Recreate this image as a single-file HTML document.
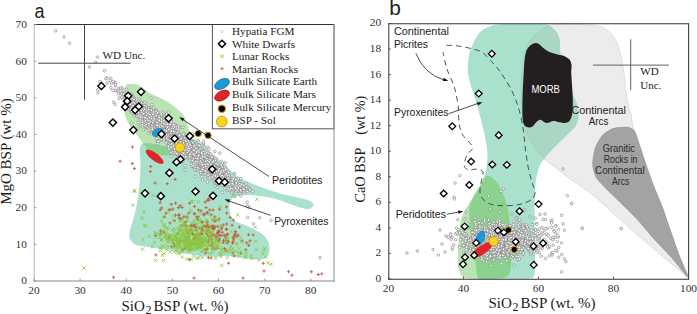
<!DOCTYPE html>
<html><head><meta charset="utf-8"><style>
html,body{margin:0;padding:0;background:#fff;width:697px;height:314px;overflow:hidden}
svg{display:block}
</style></head><body>
<svg width="697" height="314" viewBox="0 0 697 314">
<path d="M140.5,146.0 C142.1,142.4 145.9,143.5 150.0,143.5 C154.1,143.5 160.0,145.6 165.0,146.0 C170.0,146.4 175.3,147.2 180.0,146.0 C184.7,144.8 188.8,138.8 193.0,139.0 C197.2,139.2 201.3,144.0 205.0,147.0 C208.7,150.0 211.7,154.0 215.0,157.0 C218.3,160.0 221.4,161.9 225.0,165.0 C228.6,168.1 232.2,172.7 236.5,175.7 C240.8,178.7 246.0,180.8 250.8,182.9 C255.6,185.1 260.2,186.8 265.1,188.6 C270.0,190.3 274.2,191.8 280.0,193.4 C285.8,195.0 295.0,196.6 300.0,197.9 C305.0,199.2 307.8,199.8 310.0,201.0 C312.2,202.2 313.7,203.7 313.5,205.0 C313.3,206.3 311.2,208.6 309.0,209.0 C306.8,209.4 303.2,208.3 300.0,207.5 C296.8,206.7 294.2,205.4 290.0,204.0 C285.8,202.6 279.7,200.1 275.0,198.8 C270.3,197.5 266.2,196.9 262.0,196.3 C257.8,195.7 253.7,195.1 250.0,195.0 C246.3,194.9 242.9,195.0 240.0,195.6 C237.1,196.2 234.2,196.9 232.5,198.4 C230.8,199.9 229.9,202.4 229.5,204.5 C229.1,206.6 229.4,208.8 229.8,211.0 C230.2,213.2 230.8,215.7 232.0,217.5 C233.2,219.3 234.7,220.7 237.0,222.0 C239.3,223.3 242.8,224.1 246.0,225.5 C249.2,226.9 253.4,228.9 256.5,230.7 C259.6,232.4 262.4,233.9 264.4,236.0 C266.4,238.1 267.8,240.7 268.7,243.0 C269.6,245.3 269.7,247.8 269.6,250.0 C269.5,252.2 268.9,254.7 267.9,256.1 C266.9,257.6 265.4,258.1 263.5,258.7 C261.6,259.3 259.4,259.6 256.5,259.6 C253.6,259.6 249.5,259.1 246.0,258.7 C242.5,258.3 239.0,257.4 235.5,257.0 C232.0,256.6 228.4,256.0 225.0,256.0 C221.6,256.0 219.2,257.0 215.0,257.0 C210.8,257.0 205.8,256.8 200.0,256.0 C194.2,255.2 185.8,253.6 180.0,252.5 C174.2,251.4 170.3,250.4 165.0,249.5 C159.7,248.6 153.0,247.8 148.0,247.0 C143.0,246.2 138.1,246.2 135.0,244.5 C131.9,242.8 129.9,240.2 129.3,237.0 C128.7,233.8 130.6,228.7 131.5,225.0 C132.4,221.3 133.5,219.2 134.5,215.0 C135.5,210.8 136.7,205.0 137.5,200.0 C138.3,195.0 139.0,190.8 139.5,185.0 C140.0,179.2 140.3,171.5 140.5,165.0 C140.7,158.5 138.9,149.6 140.5,146.0Z" fill="#a9e1cc"/>
<clipPath id="ca"><path d="M140.5,146.0 C142.1,142.4 145.9,143.5 150.0,143.5 C154.1,143.5 160.0,145.6 165.0,146.0 C170.0,146.4 175.3,147.2 180.0,146.0 C184.7,144.8 188.8,138.8 193.0,139.0 C197.2,139.2 201.3,144.0 205.0,147.0 C208.7,150.0 211.7,154.0 215.0,157.0 C218.3,160.0 221.4,161.9 225.0,165.0 C228.6,168.1 232.2,172.7 236.5,175.7 C240.8,178.7 246.0,180.8 250.8,182.9 C255.6,185.1 260.2,186.8 265.1,188.6 C270.0,190.3 274.2,191.8 280.0,193.4 C285.8,195.0 295.0,196.6 300.0,197.9 C305.0,199.2 307.8,199.8 310.0,201.0 C312.2,202.2 313.7,203.7 313.5,205.0 C313.3,206.3 311.2,208.6 309.0,209.0 C306.8,209.4 303.2,208.3 300.0,207.5 C296.8,206.7 294.2,205.4 290.0,204.0 C285.8,202.6 279.7,200.1 275.0,198.8 C270.3,197.5 266.2,196.9 262.0,196.3 C257.8,195.7 253.7,195.1 250.0,195.0 C246.3,194.9 242.9,195.0 240.0,195.6 C237.1,196.2 234.2,196.9 232.5,198.4 C230.8,199.9 229.9,202.4 229.5,204.5 C229.1,206.6 229.4,208.8 229.8,211.0 C230.2,213.2 230.8,215.7 232.0,217.5 C233.2,219.3 234.7,220.7 237.0,222.0 C239.3,223.3 242.8,224.1 246.0,225.5 C249.2,226.9 253.4,228.9 256.5,230.7 C259.6,232.4 262.4,233.9 264.4,236.0 C266.4,238.1 267.8,240.7 268.7,243.0 C269.6,245.3 269.7,247.8 269.6,250.0 C269.5,252.2 268.9,254.7 267.9,256.1 C266.9,257.6 265.4,258.1 263.5,258.7 C261.6,259.3 259.4,259.6 256.5,259.6 C253.6,259.6 249.5,259.1 246.0,258.7 C242.5,258.3 239.0,257.4 235.5,257.0 C232.0,256.6 228.4,256.0 225.0,256.0 C221.6,256.0 219.2,257.0 215.0,257.0 C210.8,257.0 205.8,256.8 200.0,256.0 C194.2,255.2 185.8,253.6 180.0,252.5 C174.2,251.4 170.3,250.4 165.0,249.5 C159.7,248.6 153.0,247.8 148.0,247.0 C143.0,246.2 138.1,246.2 135.0,244.5 C131.9,242.8 129.9,240.2 129.3,237.0 C128.7,233.8 130.6,228.7 131.5,225.0 C132.4,221.3 133.5,219.2 134.5,215.0 C135.5,210.8 136.7,205.0 137.5,200.0 C138.3,195.0 139.0,190.8 139.5,185.0 C140.0,179.2 140.3,171.5 140.5,165.0 C140.7,158.5 138.9,149.6 140.5,146.0Z"/></clipPath>
<path d="M126.0,85.5 C127.2,83.3 129.3,84.2 131.0,84.0 C132.7,83.8 134.0,83.5 136.0,84.2 C138.0,84.9 140.7,86.4 143.0,88.0 C145.3,89.6 147.6,92.2 150.0,93.6 C152.4,95.0 154.8,95.4 157.2,96.5 C159.6,97.6 161.9,98.8 164.3,100.1 C166.7,101.4 169.1,102.7 171.5,104.4 C173.9,106.1 176.7,108.3 178.6,110.1 C180.5,111.9 181.7,113.2 183.0,115.0 C184.3,116.8 185.6,118.8 186.5,121.0 C187.4,123.2 187.9,125.5 188.5,128.0 C189.1,130.5 190.4,133.5 190.0,136.0 C189.6,138.5 188.0,140.7 186.0,143.0 C184.0,145.3 180.7,148.0 178.0,150.0 C175.3,152.0 173.0,154.1 170.0,155.0 C167.0,155.9 163.2,156.0 160.0,155.5 C156.8,155.0 153.6,153.7 151.0,152.0 C148.4,150.3 146.3,147.7 144.5,145.5 C142.7,143.3 141.8,141.4 140.0,139.0 C138.2,136.6 135.9,133.6 134.0,131.0 C132.1,128.4 130.1,126.7 128.5,123.5 C126.9,120.3 125.3,116.4 124.5,112.0 C123.7,107.6 123.2,101.4 123.5,97.0 C123.8,92.6 124.8,87.7 126.0,85.5Z" fill="#bae4b4"/>
<path d="M126.0,85.5 C127.2,83.3 129.3,84.2 131.0,84.0 C132.7,83.8 134.0,83.5 136.0,84.2 C138.0,84.9 140.7,86.4 143.0,88.0 C145.3,89.6 147.6,92.2 150.0,93.6 C152.4,95.0 154.8,95.4 157.2,96.5 C159.6,97.6 161.9,98.8 164.3,100.1 C166.7,101.4 169.1,102.7 171.5,104.4 C173.9,106.1 176.7,108.3 178.6,110.1 C180.5,111.9 181.7,113.2 183.0,115.0 C184.3,116.8 185.6,118.8 186.5,121.0 C187.4,123.2 187.9,125.5 188.5,128.0 C189.1,130.5 190.4,133.5 190.0,136.0 C189.6,138.5 188.0,140.7 186.0,143.0 C184.0,145.3 180.7,148.0 178.0,150.0 C175.3,152.0 173.0,154.1 170.0,155.0 C167.0,155.9 163.2,156.0 160.0,155.5 C156.8,155.0 153.6,153.7 151.0,152.0 C148.4,150.3 146.3,147.7 144.5,145.5 C142.7,143.3 141.8,141.4 140.0,139.0 C138.2,136.6 135.9,133.6 134.0,131.0 C132.1,128.4 130.1,126.7 128.5,123.5 C126.9,120.3 125.3,116.4 124.5,112.0 C123.7,107.6 123.2,101.4 123.5,97.0 C123.8,92.6 124.8,87.7 126.0,85.5Z" fill="#8ad28e" clip-path="url(#ca)"/>
<g fill="#fff" stroke="#7c7c7c" stroke-width="0.6"><circle cx="141.3" cy="107.1" r="1.3"/><circle cx="196.3" cy="170.5" r="1.3"/><circle cx="143.3" cy="121.8" r="1.3"/><circle cx="226.0" cy="176.0" r="1.3"/><circle cx="197.2" cy="144.5" r="1.3"/><circle cx="201.3" cy="161.7" r="1.3"/><circle cx="148.5" cy="123.9" r="1.3"/><circle cx="207.3" cy="162.9" r="1.3"/><circle cx="163.7" cy="113.8" r="1.3"/><circle cx="233.1" cy="184.3" r="1.3"/><circle cx="196.2" cy="148.4" r="1.3"/><circle cx="155.4" cy="111.8" r="1.3"/><circle cx="201.8" cy="176.7" r="1.3"/><circle cx="200.7" cy="173.6" r="1.3"/><circle cx="207.7" cy="170.8" r="1.3"/><circle cx="144.6" cy="129.1" r="1.3"/><circle cx="166.8" cy="127.8" r="1.3"/><circle cx="231.5" cy="180.2" r="1.3"/><circle cx="207.5" cy="181.8" r="1.3"/><circle cx="150.4" cy="118.6" r="1.3"/><circle cx="134.1" cy="104.7" r="1.3"/><circle cx="171.2" cy="130.6" r="1.3"/><circle cx="186.1" cy="156.8" r="1.3"/><circle cx="168.9" cy="134.0" r="1.3"/><circle cx="185.6" cy="138.2" r="1.3"/><circle cx="196.2" cy="150.6" r="1.3"/><circle cx="202.2" cy="158.8" r="1.3"/><circle cx="106.9" cy="77.9" r="1.3"/><circle cx="141.7" cy="109.5" r="1.3"/><circle cx="159.4" cy="119.7" r="1.3"/><circle cx="149.0" cy="119.2" r="1.3"/><circle cx="188.6" cy="147.3" r="1.3"/><circle cx="222.7" cy="177.7" r="1.3"/><circle cx="207.3" cy="161.3" r="1.3"/><circle cx="225.5" cy="180.1" r="1.3"/><circle cx="153.8" cy="128.5" r="1.3"/><circle cx="138.3" cy="107.2" r="1.3"/><circle cx="131.1" cy="108.0" r="1.3"/><circle cx="222.7" cy="179.0" r="1.3"/><circle cx="221.2" cy="170.4" r="1.3"/><circle cx="166.2" cy="136.0" r="1.3"/><circle cx="168.2" cy="138.6" r="1.3"/><circle cx="212.3" cy="164.9" r="1.3"/><circle cx="148.0" cy="118.2" r="1.3"/><circle cx="190.5" cy="152.5" r="1.3"/><circle cx="129.7" cy="100.3" r="1.3"/><circle cx="196.1" cy="154.1" r="1.3"/><circle cx="175.2" cy="135.8" r="1.3"/><circle cx="184.5" cy="151.9" r="1.3"/><circle cx="223.1" cy="168.7" r="1.3"/><circle cx="145.2" cy="109.5" r="1.3"/><circle cx="218.0" cy="175.8" r="1.3"/><circle cx="123.6" cy="105.0" r="1.3"/><circle cx="152.6" cy="115.0" r="1.3"/><circle cx="191.3" cy="153.9" r="1.3"/><circle cx="209.4" cy="170.4" r="1.3"/><circle cx="158.8" cy="128.4" r="1.3"/><circle cx="221.8" cy="169.3" r="1.3"/><circle cx="178.2" cy="130.7" r="1.3"/><circle cx="172.0" cy="125.6" r="1.3"/><circle cx="166.9" cy="139.5" r="1.3"/><circle cx="145.0" cy="123.2" r="1.3"/><circle cx="199.9" cy="163.1" r="1.3"/><circle cx="212.5" cy="175.9" r="1.3"/><circle cx="217.7" cy="174.8" r="1.3"/><circle cx="233.1" cy="191.9" r="1.3"/><circle cx="202.6" cy="170.9" r="1.3"/><circle cx="219.8" cy="175.5" r="1.3"/><circle cx="206.6" cy="166.1" r="1.3"/><circle cx="187.8" cy="149.0" r="1.3"/><circle cx="141.0" cy="114.0" r="1.3"/><circle cx="159.8" cy="122.2" r="1.3"/><circle cx="212.1" cy="165.2" r="1.3"/><circle cx="203.2" cy="150.7" r="1.3"/><circle cx="236.2" cy="190.2" r="1.3"/><circle cx="170.5" cy="137.2" r="1.3"/><circle cx="149.0" cy="114.7" r="1.3"/><circle cx="149.6" cy="107.7" r="1.3"/><circle cx="190.4" cy="151.5" r="1.3"/><circle cx="175.9" cy="142.4" r="1.3"/><circle cx="154.8" cy="134.0" r="1.3"/><circle cx="175.4" cy="125.0" r="1.3"/><circle cx="174.5" cy="144.0" r="1.3"/><circle cx="174.9" cy="138.8" r="1.3"/><circle cx="202.7" cy="165.0" r="1.3"/><circle cx="134.7" cy="109.4" r="1.3"/><circle cx="150.7" cy="120.0" r="1.3"/><circle cx="147.3" cy="109.7" r="1.3"/><circle cx="170.1" cy="136.5" r="1.3"/><circle cx="185.8" cy="144.7" r="1.3"/><circle cx="236.5" cy="188.6" r="1.3"/><circle cx="147.1" cy="111.9" r="1.3"/><circle cx="183.2" cy="138.4" r="1.3"/><circle cx="209.1" cy="162.2" r="1.3"/><circle cx="200.9" cy="165.1" r="1.3"/><circle cx="200.1" cy="163.1" r="1.3"/><circle cx="153.0" cy="115.4" r="1.3"/><circle cx="199.8" cy="156.6" r="1.3"/><circle cx="213.7" cy="169.8" r="1.3"/><circle cx="144.1" cy="116.8" r="1.3"/><circle cx="177.8" cy="142.8" r="1.3"/><circle cx="153.5" cy="111.4" r="1.3"/><circle cx="157.3" cy="128.9" r="1.3"/><circle cx="118.8" cy="93.1" r="1.3"/><circle cx="133.4" cy="97.7" r="1.3"/><circle cx="191.6" cy="147.9" r="1.3"/><circle cx="182.7" cy="146.3" r="1.3"/><circle cx="216.6" cy="177.6" r="1.3"/><circle cx="183.5" cy="133.3" r="1.3"/><circle cx="204.0" cy="168.4" r="1.3"/><circle cx="192.6" cy="166.4" r="1.3"/><circle cx="201.2" cy="151.7" r="1.3"/><circle cx="198.0" cy="140.6" r="1.3"/><circle cx="233.1" cy="184.8" r="1.3"/><circle cx="139.1" cy="98.8" r="1.3"/><circle cx="205.0" cy="170.2" r="1.3"/><circle cx="210.3" cy="174.6" r="1.3"/><circle cx="215.2" cy="172.1" r="1.3"/><circle cx="207.4" cy="154.8" r="1.3"/><circle cx="148.9" cy="119.7" r="1.3"/><circle cx="210.5" cy="160.4" r="1.3"/><circle cx="191.9" cy="157.8" r="1.3"/><circle cx="218.9" cy="168.9" r="1.3"/><circle cx="136.5" cy="106.0" r="1.3"/><circle cx="114.9" cy="82.6" r="1.3"/><circle cx="207.9" cy="158.7" r="1.3"/><circle cx="137.6" cy="106.7" r="1.3"/><circle cx="195.9" cy="157.3" r="1.3"/><circle cx="209.7" cy="169.5" r="1.3"/><circle cx="140.7" cy="117.3" r="1.3"/><circle cx="153.2" cy="116.5" r="1.3"/><circle cx="191.4" cy="155.4" r="1.3"/><circle cx="131.0" cy="110.6" r="1.3"/><circle cx="235.5" cy="189.1" r="1.3"/><circle cx="242.7" cy="184.5" r="1.3"/><circle cx="244.2" cy="184.7" r="1.3"/><circle cx="153.9" cy="126.4" r="1.3"/><circle cx="211.4" cy="173.4" r="1.3"/><circle cx="164.6" cy="133.2" r="1.3"/><circle cx="143.5" cy="114.3" r="1.3"/><circle cx="208.4" cy="161.4" r="1.3"/><circle cx="208.7" cy="153.4" r="1.3"/><circle cx="205.5" cy="163.0" r="1.3"/><circle cx="197.7" cy="163.6" r="1.3"/><circle cx="154.5" cy="128.7" r="1.3"/><circle cx="243.4" cy="185.6" r="1.3"/><circle cx="141.8" cy="117.9" r="1.3"/><circle cx="192.9" cy="153.8" r="1.3"/><circle cx="138.5" cy="101.4" r="1.3"/><circle cx="192.9" cy="148.5" r="1.3"/><circle cx="131.1" cy="105.6" r="1.3"/><circle cx="192.6" cy="155.8" r="1.3"/><circle cx="156.0" cy="120.9" r="1.3"/><circle cx="223.1" cy="169.5" r="1.3"/><circle cx="211.8" cy="162.8" r="1.3"/><circle cx="210.8" cy="162.4" r="1.3"/><circle cx="136.8" cy="114.7" r="1.3"/><circle cx="168.6" cy="134.4" r="1.3"/><circle cx="193.9" cy="146.5" r="1.3"/><circle cx="217.3" cy="187.3" r="1.3"/><circle cx="131.8" cy="104.6" r="1.3"/><circle cx="181.2" cy="155.9" r="1.3"/><circle cx="147.1" cy="110.7" r="1.3"/><circle cx="214.0" cy="174.2" r="1.3"/><circle cx="166.6" cy="138.3" r="1.3"/><circle cx="160.7" cy="124.0" r="1.3"/><circle cx="183.2" cy="134.8" r="1.3"/><circle cx="145.9" cy="126.2" r="1.3"/><circle cx="148.7" cy="119.0" r="1.3"/><circle cx="183.4" cy="150.5" r="1.3"/><circle cx="216.7" cy="183.6" r="1.3"/><circle cx="247.2" cy="189.0" r="1.3"/><circle cx="168.7" cy="142.5" r="1.3"/><circle cx="166.5" cy="139.5" r="1.3"/><circle cx="195.4" cy="168.0" r="1.3"/><circle cx="139.9" cy="114.2" r="1.3"/><circle cx="179.0" cy="136.6" r="1.3"/><circle cx="128.6" cy="96.3" r="1.3"/><circle cx="200.6" cy="164.5" r="1.3"/><circle cx="166.2" cy="133.9" r="1.3"/><circle cx="185.7" cy="141.7" r="1.3"/><circle cx="221.5" cy="178.6" r="1.3"/><circle cx="152.4" cy="109.6" r="1.3"/><circle cx="193.6" cy="145.7" r="1.3"/><circle cx="174.1" cy="135.7" r="1.3"/><circle cx="157.9" cy="140.9" r="1.3"/><circle cx="198.4" cy="162.2" r="1.3"/><circle cx="161.9" cy="125.9" r="1.3"/><circle cx="152.2" cy="120.1" r="1.3"/><circle cx="134.5" cy="98.5" r="1.3"/><circle cx="226.3" cy="173.3" r="1.3"/><circle cx="175.4" cy="137.2" r="1.3"/><circle cx="203.4" cy="163.1" r="1.3"/><circle cx="217.1" cy="175.5" r="1.3"/><circle cx="231.7" cy="187.9" r="1.3"/><circle cx="163.0" cy="112.0" r="1.3"/><circle cx="146.8" cy="119.0" r="1.3"/><circle cx="176.0" cy="139.1" r="1.3"/><circle cx="154.5" cy="125.7" r="1.3"/><circle cx="173.3" cy="128.5" r="1.3"/><circle cx="224.7" cy="166.5" r="1.3"/><circle cx="227.7" cy="189.9" r="1.3"/><circle cx="130.5" cy="103.6" r="1.3"/><circle cx="231.8" cy="192.1" r="1.3"/><circle cx="204.3" cy="163.1" r="1.3"/><circle cx="184.9" cy="152.4" r="1.3"/><circle cx="153.2" cy="117.4" r="1.3"/><circle cx="157.3" cy="141.4" r="1.3"/><circle cx="144.8" cy="105.8" r="1.3"/><circle cx="157.7" cy="119.9" r="1.3"/><circle cx="170.8" cy="120.9" r="1.3"/><circle cx="170.0" cy="141.8" r="1.3"/><circle cx="158.2" cy="112.6" r="1.3"/><circle cx="167.2" cy="131.8" r="1.3"/><circle cx="149.9" cy="114.0" r="1.3"/><circle cx="199.6" cy="155.2" r="1.3"/><circle cx="137.3" cy="107.9" r="1.3"/><circle cx="146.2" cy="103.4" r="1.3"/><circle cx="181.3" cy="152.3" r="1.3"/><circle cx="203.6" cy="167.8" r="1.3"/><circle cx="175.1" cy="137.4" r="1.3"/><circle cx="118.3" cy="89.0" r="1.3"/><circle cx="226.9" cy="176.9" r="1.3"/><circle cx="178.6" cy="135.0" r="1.3"/><circle cx="168.6" cy="145.4" r="1.3"/><circle cx="115.6" cy="83.0" r="1.3"/><circle cx="152.7" cy="110.4" r="1.3"/><circle cx="135.8" cy="114.6" r="1.3"/><circle cx="181.8" cy="148.9" r="1.3"/><circle cx="173.3" cy="131.8" r="1.3"/><circle cx="184.1" cy="139.7" r="1.3"/><circle cx="193.1" cy="157.2" r="1.3"/><circle cx="135.7" cy="103.6" r="1.3"/><circle cx="240.5" cy="190.2" r="1.3"/><circle cx="136.8" cy="115.7" r="1.3"/><circle cx="161.0" cy="129.5" r="1.3"/><circle cx="164.5" cy="132.6" r="1.3"/><circle cx="144.3" cy="113.6" r="1.3"/><circle cx="137.4" cy="106.3" r="1.3"/><circle cx="205.5" cy="159.5" r="1.3"/><circle cx="162.0" cy="121.2" r="1.3"/><circle cx="167.8" cy="138.2" r="1.3"/><circle cx="178.7" cy="138.4" r="1.3"/><circle cx="202.1" cy="171.8" r="1.3"/><circle cx="174.7" cy="138.0" r="1.3"/><circle cx="212.2" cy="175.0" r="1.3"/><circle cx="184.0" cy="137.5" r="1.3"/><circle cx="190.3" cy="151.9" r="1.3"/><circle cx="217.6" cy="166.2" r="1.3"/><circle cx="213.8" cy="180.2" r="1.3"/><circle cx="212.0" cy="159.0" r="1.3"/><circle cx="141.6" cy="108.3" r="1.3"/><circle cx="152.9" cy="124.2" r="1.3"/><circle cx="134.0" cy="104.7" r="1.3"/><circle cx="135.4" cy="109.0" r="1.3"/><circle cx="182.5" cy="152.0" r="1.3"/><circle cx="164.1" cy="128.7" r="1.3"/><circle cx="241.2" cy="191.3" r="1.3"/><circle cx="168.4" cy="138.5" r="1.3"/><circle cx="188.9" cy="151.3" r="1.3"/><circle cx="214.8" cy="151.5" r="1.3"/><circle cx="154.3" cy="126.9" r="1.3"/><circle cx="146.3" cy="107.1" r="1.3"/><circle cx="212.3" cy="166.4" r="1.3"/><circle cx="221.5" cy="167.1" r="1.3"/><circle cx="163.1" cy="133.6" r="1.3"/><circle cx="177.4" cy="149.1" r="1.3"/><circle cx="159.1" cy="116.1" r="1.3"/><circle cx="211.9" cy="168.4" r="1.3"/><circle cx="184.0" cy="142.8" r="1.3"/><circle cx="233.4" cy="184.5" r="1.3"/><circle cx="219.9" cy="153.1" r="1.3"/><circle cx="193.9" cy="154.1" r="1.3"/><circle cx="146.8" cy="117.9" r="1.3"/><circle cx="180.5" cy="147.0" r="1.3"/><circle cx="220.5" cy="177.3" r="1.3"/><circle cx="203.2" cy="162.0" r="1.3"/><circle cx="222.3" cy="175.6" r="1.3"/><circle cx="188.0" cy="144.5" r="1.3"/><circle cx="110.1" cy="80.8" r="1.3"/><circle cx="186.6" cy="150.1" r="1.3"/><circle cx="201.2" cy="152.2" r="1.3"/><circle cx="149.3" cy="121.9" r="1.3"/><circle cx="190.0" cy="147.1" r="1.3"/><circle cx="174.6" cy="146.0" r="1.3"/><circle cx="150.7" cy="117.7" r="1.3"/><circle cx="132.4" cy="106.1" r="1.3"/><circle cx="216.4" cy="169.8" r="1.3"/><circle cx="203.0" cy="162.2" r="1.3"/><circle cx="209.1" cy="159.3" r="1.3"/><circle cx="194.2" cy="148.8" r="1.3"/><circle cx="144.1" cy="114.5" r="1.3"/><circle cx="199.4" cy="167.1" r="1.3"/><circle cx="135.5" cy="111.8" r="1.3"/><circle cx="190.8" cy="151.4" r="1.3"/><circle cx="120.1" cy="88.3" r="1.3"/><circle cx="155.4" cy="134.0" r="1.3"/><circle cx="213.4" cy="169.1" r="1.3"/><circle cx="138.9" cy="112.8" r="1.3"/><circle cx="199.5" cy="168.1" r="1.3"/><circle cx="174.9" cy="130.8" r="1.3"/><circle cx="133.6" cy="102.2" r="1.3"/><circle cx="236.6" cy="191.3" r="1.3"/><circle cx="234.2" cy="173.6" r="1.3"/><circle cx="126.0" cy="102.2" r="1.3"/><circle cx="151.1" cy="125.2" r="1.3"/><circle cx="151.5" cy="126.1" r="1.3"/><circle cx="140.8" cy="117.3" r="1.3"/><circle cx="149.3" cy="111.2" r="1.3"/><circle cx="165.2" cy="125.8" r="1.3"/><circle cx="224.7" cy="176.6" r="1.3"/><circle cx="186.5" cy="145.7" r="1.3"/><circle cx="152.1" cy="131.1" r="1.3"/><circle cx="162.3" cy="124.4" r="1.3"/><circle cx="142.0" cy="112.8" r="1.3"/><circle cx="232.3" cy="183.6" r="1.3"/><circle cx="184.9" cy="143.2" r="1.3"/><circle cx="176.7" cy="127.9" r="1.3"/><circle cx="177.2" cy="146.5" r="1.3"/><circle cx="174.8" cy="124.4" r="1.3"/><circle cx="160.2" cy="126.6" r="1.3"/><circle cx="184.5" cy="138.1" r="1.3"/><circle cx="176.6" cy="146.6" r="1.3"/><circle cx="143.0" cy="103.5" r="1.3"/><circle cx="247.4" cy="187.5" r="1.3"/><circle cx="213.0" cy="169.9" r="1.3"/><circle cx="118.4" cy="91.9" r="1.3"/><circle cx="202.9" cy="163.0" r="1.3"/><circle cx="206.3" cy="155.7" r="1.3"/><circle cx="207.7" cy="167.5" r="1.3"/><circle cx="189.6" cy="156.2" r="1.3"/><circle cx="182.4" cy="152.0" r="1.3"/><circle cx="148.4" cy="124.0" r="1.3"/><circle cx="168.9" cy="122.8" r="1.3"/><circle cx="150.1" cy="122.1" r="1.3"/><circle cx="147.9" cy="127.9" r="1.3"/><circle cx="191.3" cy="160.2" r="1.3"/><circle cx="138.3" cy="105.2" r="1.3"/><circle cx="198.4" cy="153.1" r="1.3"/><circle cx="194.8" cy="146.1" r="1.3"/><circle cx="224.9" cy="178.8" r="1.3"/><circle cx="228.3" cy="173.2" r="1.3"/><circle cx="209.0" cy="165.5" r="1.3"/><circle cx="186.9" cy="153.3" r="1.3"/><circle cx="172.9" cy="133.5" r="1.3"/><circle cx="175.5" cy="141.8" r="1.3"/><circle cx="147.6" cy="111.8" r="1.3"/><circle cx="155.1" cy="117.6" r="1.3"/><circle cx="183.3" cy="147.8" r="1.3"/><circle cx="127.7" cy="105.7" r="1.3"/><circle cx="196.6" cy="156.9" r="1.3"/><circle cx="145.8" cy="125.1" r="1.3"/><circle cx="190.1" cy="139.6" r="1.3"/><circle cx="206.5" cy="170.1" r="1.3"/><circle cx="151.6" cy="124.4" r="1.3"/><circle cx="161.5" cy="130.3" r="1.3"/><circle cx="228.6" cy="178.5" r="1.3"/><circle cx="166.7" cy="142.1" r="1.3"/><circle cx="155.5" cy="125.1" r="1.3"/><circle cx="158.8" cy="122.9" r="1.3"/><circle cx="232.2" cy="178.7" r="1.3"/><circle cx="173.4" cy="145.9" r="1.3"/><circle cx="216.8" cy="173.5" r="1.3"/><circle cx="189.4" cy="145.9" r="1.3"/><circle cx="161.0" cy="118.3" r="1.3"/><circle cx="180.2" cy="159.1" r="1.3"/><circle cx="216.8" cy="174.5" r="1.3"/><circle cx="180.8" cy="137.0" r="1.3"/><circle cx="199.4" cy="162.2" r="1.3"/><circle cx="187.1" cy="143.9" r="1.3"/><circle cx="227.5" cy="181.8" r="1.3"/><circle cx="189.8" cy="148.1" r="1.3"/><circle cx="180.9" cy="156.9" r="1.3"/><circle cx="174.9" cy="131.4" r="1.3"/><circle cx="216.9" cy="182.2" r="1.3"/><circle cx="177.2" cy="126.0" r="1.3"/><circle cx="195.0" cy="158.5" r="1.3"/><circle cx="216.5" cy="159.0" r="1.3"/><circle cx="189.1" cy="152.5" r="1.3"/><circle cx="190.3" cy="147.0" r="1.3"/><circle cx="134.3" cy="107.9" r="1.3"/><circle cx="166.2" cy="142.6" r="1.3"/><circle cx="186.2" cy="151.0" r="1.3"/><circle cx="171.7" cy="125.8" r="1.3"/><circle cx="179.4" cy="142.3" r="1.3"/><circle cx="195.9" cy="153.7" r="1.3"/><circle cx="184.7" cy="144.5" r="1.3"/><circle cx="167.7" cy="137.6" r="1.3"/><circle cx="172.1" cy="146.6" r="1.3"/><circle cx="165.3" cy="135.0" r="1.3"/><circle cx="167.5" cy="146.4" r="1.3"/><circle cx="175.5" cy="134.2" r="1.3"/><circle cx="191.0" cy="158.4" r="1.3"/><circle cx="195.5" cy="161.9" r="1.3"/><circle cx="162.4" cy="133.2" r="1.3"/><circle cx="151.7" cy="112.3" r="1.3"/><circle cx="127.7" cy="100.0" r="1.3"/><circle cx="204.3" cy="146.4" r="1.3"/><circle cx="194.2" cy="141.8" r="1.3"/><circle cx="204.1" cy="152.6" r="1.3"/><circle cx="171.8" cy="148.5" r="1.3"/><circle cx="221.6" cy="173.4" r="1.3"/><circle cx="243.5" cy="192.0" r="1.3"/><circle cx="159.1" cy="121.1" r="1.3"/><circle cx="169.0" cy="143.5" r="1.3"/><circle cx="218.5" cy="171.7" r="1.3"/><circle cx="194.0" cy="150.7" r="1.3"/><circle cx="208.8" cy="167.6" r="1.3"/><circle cx="159.8" cy="126.3" r="1.3"/><circle cx="213.9" cy="165.5" r="1.3"/><circle cx="133.2" cy="99.3" r="1.3"/><circle cx="193.5" cy="166.6" r="1.3"/><circle cx="127.9" cy="106.2" r="1.3"/><circle cx="120.5" cy="91.9" r="1.3"/><circle cx="160.9" cy="120.9" r="1.3"/><circle cx="197.8" cy="152.2" r="1.3"/><circle cx="199.6" cy="145.9" r="1.3"/><circle cx="249.8" cy="188.6" r="1.3"/><circle cx="189.6" cy="150.1" r="1.3"/><circle cx="227.3" cy="190.1" r="1.3"/><circle cx="121.1" cy="97.2" r="1.3"/><circle cx="142.0" cy="106.3" r="1.3"/><circle cx="154.5" cy="126.7" r="1.3"/><circle cx="224.8" cy="175.5" r="1.3"/><circle cx="157.3" cy="125.7" r="1.3"/><circle cx="195.9" cy="148.0" r="1.3"/><circle cx="133.7" cy="100.3" r="1.3"/><circle cx="188.3" cy="154.2" r="1.3"/><circle cx="161.4" cy="134.1" r="1.3"/><circle cx="150.9" cy="97.9" r="1.3"/><circle cx="206.6" cy="161.5" r="1.3"/><circle cx="176.1" cy="137.7" r="1.3"/><circle cx="180.0" cy="140.3" r="1.3"/><circle cx="156.1" cy="120.3" r="1.3"/><circle cx="132.2" cy="106.7" r="1.3"/><circle cx="181.1" cy="138.8" r="1.3"/><circle cx="150.5" cy="122.2" r="1.3"/><circle cx="165.6" cy="126.8" r="1.3"/><circle cx="126.5" cy="89.5" r="1.3"/><circle cx="146.3" cy="117.9" r="1.3"/><circle cx="145.0" cy="115.6" r="1.3"/><circle cx="140.5" cy="108.1" r="1.3"/><circle cx="200.3" cy="165.5" r="1.3"/><circle cx="138.4" cy="113.3" r="1.3"/><circle cx="169.4" cy="147.3" r="1.3"/><circle cx="140.6" cy="108.3" r="1.3"/><circle cx="157.6" cy="124.8" r="1.3"/><circle cx="193.1" cy="142.8" r="1.3"/><circle cx="203.7" cy="167.3" r="1.3"/><circle cx="215.1" cy="177.8" r="1.3"/><circle cx="170.1" cy="142.5" r="1.3"/><circle cx="181.1" cy="148.5" r="1.3"/><circle cx="200.6" cy="159.2" r="1.3"/><circle cx="159.8" cy="135.0" r="1.3"/><circle cx="166.4" cy="136.3" r="1.3"/><circle cx="193.2" cy="142.7" r="1.3"/><circle cx="180.2" cy="141.8" r="1.3"/><circle cx="157.5" cy="122.6" r="1.3"/><circle cx="164.1" cy="127.7" r="1.3"/><circle cx="179.4" cy="150.6" r="1.3"/><circle cx="240.2" cy="185.1" r="1.3"/><circle cx="197.2" cy="146.4" r="1.3"/><circle cx="199.3" cy="163.0" r="1.3"/><circle cx="135.4" cy="104.1" r="1.3"/><circle cx="204.3" cy="161.3" r="1.3"/><circle cx="221.5" cy="182.7" r="1.3"/><circle cx="145.3" cy="111.0" r="1.3"/><circle cx="205.6" cy="169.7" r="1.3"/><circle cx="168.7" cy="128.1" r="1.3"/><circle cx="148.3" cy="123.0" r="1.3"/><circle cx="225.9" cy="187.2" r="1.3"/><circle cx="159.0" cy="117.6" r="1.3"/><circle cx="151.9" cy="133.8" r="1.3"/><circle cx="152.2" cy="116.4" r="1.3"/><circle cx="161.9" cy="121.7" r="1.3"/><circle cx="215.5" cy="173.2" r="1.3"/><circle cx="139.1" cy="126.6" r="1.3"/><circle cx="217.3" cy="174.7" r="1.3"/><circle cx="172.8" cy="131.5" r="1.3"/><circle cx="148.3" cy="122.2" r="1.3"/><circle cx="207.8" cy="172.5" r="1.3"/><circle cx="191.4" cy="151.8" r="1.3"/><circle cx="156.3" cy="111.5" r="1.3"/><circle cx="196.9" cy="156.8" r="1.3"/><circle cx="195.7" cy="156.0" r="1.3"/><circle cx="144.9" cy="115.6" r="1.3"/><circle cx="128.0" cy="96.9" r="1.3"/><circle cx="189.9" cy="143.2" r="1.3"/><circle cx="210.2" cy="163.7" r="1.3"/><circle cx="154.2" cy="122.8" r="1.3"/><circle cx="214.4" cy="160.8" r="1.3"/><circle cx="161.6" cy="139.8" r="1.3"/><circle cx="214.7" cy="175.7" r="1.3"/><circle cx="184.5" cy="152.3" r="1.3"/><circle cx="180.1" cy="138.7" r="1.3"/><circle cx="184.0" cy="141.9" r="1.3"/><circle cx="235.5" cy="188.3" r="1.3"/><circle cx="143.4" cy="129.5" r="1.3"/><circle cx="221.5" cy="164.6" r="1.3"/><circle cx="199.0" cy="168.3" r="1.3"/><circle cx="206.5" cy="152.8" r="1.3"/><circle cx="143.9" cy="118.0" r="1.3"/><circle cx="209.5" cy="164.3" r="1.3"/><circle cx="220.7" cy="171.3" r="1.3"/><circle cx="205.9" cy="169.0" r="1.3"/><circle cx="172.3" cy="132.8" r="1.3"/><circle cx="174.0" cy="142.4" r="1.3"/><circle cx="181.4" cy="142.1" r="1.3"/><circle cx="161.6" cy="124.5" r="1.3"/><circle cx="227.1" cy="172.2" r="1.3"/><circle cx="143.1" cy="103.5" r="1.3"/><circle cx="208.0" cy="147.2" r="1.3"/><circle cx="229.6" cy="183.0" r="1.3"/><circle cx="214.5" cy="174.8" r="1.3"/><circle cx="206.5" cy="163.7" r="1.3"/><circle cx="196.2" cy="145.6" r="1.3"/><circle cx="191.6" cy="157.0" r="1.3"/><circle cx="180.2" cy="145.1" r="1.3"/><circle cx="168.3" cy="139.1" r="1.3"/><circle cx="119.0" cy="98.3" r="1.3"/><circle cx="180.0" cy="154.9" r="1.3"/><circle cx="151.3" cy="118.9" r="1.3"/><circle cx="159.6" cy="140.9" r="1.3"/><circle cx="156.2" cy="113.1" r="1.3"/><circle cx="149.1" cy="107.5" r="1.3"/><circle cx="157.5" cy="112.7" r="1.3"/><circle cx="124.7" cy="95.9" r="1.3"/><circle cx="172.5" cy="126.5" r="1.3"/><circle cx="226.2" cy="179.8" r="1.3"/><circle cx="191.1" cy="140.8" r="1.3"/><circle cx="204.2" cy="156.4" r="1.3"/><circle cx="173.7" cy="133.3" r="1.3"/><circle cx="189.2" cy="153.9" r="1.3"/><circle cx="168.7" cy="149.3" r="1.3"/><circle cx="174.5" cy="152.7" r="1.3"/><circle cx="139.6" cy="110.0" r="1.3"/><circle cx="147.4" cy="111.9" r="1.3"/><circle cx="203.3" cy="161.3" r="1.3"/><circle cx="200.2" cy="158.0" r="1.3"/><circle cx="206.6" cy="169.9" r="1.3"/><circle cx="133.4" cy="110.4" r="1.3"/><circle cx="154.4" cy="116.6" r="1.3"/><circle cx="142.9" cy="111.8" r="1.3"/><circle cx="206.7" cy="155.7" r="1.3"/><circle cx="213.6" cy="170.3" r="1.3"/><circle cx="156.2" cy="115.8" r="1.3"/><circle cx="214.0" cy="167.2" r="1.3"/><circle cx="190.1" cy="154.4" r="1.3"/><circle cx="147.1" cy="127.2" r="1.3"/><circle cx="158.5" cy="121.7" r="1.3"/><circle cx="168.5" cy="129.1" r="1.3"/><circle cx="187.9" cy="141.2" r="1.3"/><circle cx="185.5" cy="147.4" r="1.3"/><circle cx="132.6" cy="95.6" r="1.3"/><circle cx="191.6" cy="166.1" r="1.3"/><circle cx="148.0" cy="113.7" r="1.3"/><circle cx="192.9" cy="142.9" r="1.3"/><circle cx="142.1" cy="114.4" r="1.3"/><circle cx="177.3" cy="157.7" r="1.3"/><circle cx="137.0" cy="116.7" r="1.3"/><circle cx="188.9" cy="150.1" r="1.3"/><circle cx="146.1" cy="115.3" r="1.3"/><circle cx="142.6" cy="124.1" r="1.3"/><circle cx="200.1" cy="150.6" r="1.3"/><circle cx="219.3" cy="173.3" r="1.3"/><circle cx="186.4" cy="147.8" r="1.3"/><circle cx="170.1" cy="134.6" r="1.3"/><circle cx="126.8" cy="97.0" r="1.3"/><circle cx="184.3" cy="144.9" r="1.3"/><circle cx="176.9" cy="141.6" r="1.3"/><circle cx="224.0" cy="177.9" r="1.3"/><circle cx="159.7" cy="127.4" r="1.3"/><circle cx="170.5" cy="144.5" r="1.3"/><circle cx="201.2" cy="164.4" r="1.3"/><circle cx="164.2" cy="116.0" r="1.3"/><circle cx="133.8" cy="106.1" r="1.3"/><circle cx="221.9" cy="170.2" r="1.3"/><circle cx="168.5" cy="130.5" r="1.3"/><circle cx="168.4" cy="112.2" r="1.3"/><circle cx="176.0" cy="147.2" r="1.3"/><circle cx="165.6" cy="120.2" r="1.3"/><circle cx="144.6" cy="108.5" r="1.3"/><circle cx="160.0" cy="126.2" r="1.3"/><circle cx="140.3" cy="113.6" r="1.3"/><circle cx="132.0" cy="98.4" r="1.3"/><circle cx="218.4" cy="170.8" r="1.3"/><circle cx="139.0" cy="104.9" r="1.3"/><circle cx="151.6" cy="129.4" r="1.3"/><circle cx="210.2" cy="166.5" r="1.3"/><circle cx="208.1" cy="177.4" r="1.3"/><circle cx="208.8" cy="174.1" r="1.3"/><circle cx="226.7" cy="180.8" r="1.3"/><circle cx="185.0" cy="140.2" r="1.3"/><circle cx="170.0" cy="121.3" r="1.3"/><circle cx="214.9" cy="157.9" r="1.3"/><circle cx="159.1" cy="128.3" r="1.3"/><circle cx="153.6" cy="123.8" r="1.3"/><circle cx="171.1" cy="125.0" r="1.3"/><circle cx="221.3" cy="169.6" r="1.3"/><circle cx="204.2" cy="157.1" r="1.3"/><circle cx="134.4" cy="103.3" r="1.3"/><circle cx="213.2" cy="181.0" r="1.3"/><circle cx="141.7" cy="115.4" r="1.3"/><circle cx="142.1" cy="120.2" r="1.3"/><circle cx="156.6" cy="138.5" r="1.3"/><circle cx="222.4" cy="173.4" r="1.3"/><circle cx="212.4" cy="166.6" r="1.3"/><circle cx="200.4" cy="165.0" r="1.3"/><circle cx="169.6" cy="133.8" r="1.3"/><circle cx="170.3" cy="126.3" r="1.3"/><circle cx="210.2" cy="158.3" r="1.3"/><circle cx="188.9" cy="148.0" r="1.3"/><circle cx="169.9" cy="141.2" r="1.3"/><circle cx="187.4" cy="142.5" r="1.3"/><circle cx="159.0" cy="133.0" r="1.3"/><circle cx="187.1" cy="147.6" r="1.3"/><circle cx="245.9" cy="184.0" r="1.3"/><circle cx="141.2" cy="110.7" r="1.3"/><circle cx="209.8" cy="160.2" r="1.3"/><circle cx="146.6" cy="124.0" r="1.3"/><circle cx="168.7" cy="132.2" r="1.3"/><circle cx="154.1" cy="125.7" r="1.3"/><circle cx="130.5" cy="110.6" r="1.3"/><circle cx="186.9" cy="142.7" r="1.3"/><circle cx="158.3" cy="141.6" r="1.3"/><circle cx="216.3" cy="170.1" r="1.3"/><circle cx="210.4" cy="154.3" r="1.3"/><circle cx="153.3" cy="131.9" r="1.3"/><circle cx="145.8" cy="113.7" r="1.3"/><circle cx="168.5" cy="133.8" r="1.3"/><circle cx="230.9" cy="187.9" r="1.3"/><circle cx="110.7" cy="78.2" r="1.3"/><circle cx="191.3" cy="161.0" r="1.3"/><circle cx="197.8" cy="167.4" r="1.3"/><circle cx="148.5" cy="108.1" r="1.3"/><circle cx="152.0" cy="117.5" r="1.3"/><circle cx="210.1" cy="168.5" r="1.3"/><circle cx="132.2" cy="113.6" r="1.3"/><circle cx="144.7" cy="108.5" r="1.3"/><circle cx="158.4" cy="120.4" r="1.3"/><circle cx="152.1" cy="125.1" r="1.3"/><circle cx="215.0" cy="183.8" r="1.3"/><circle cx="167.3" cy="133.7" r="1.3"/><circle cx="161.4" cy="118.0" r="1.3"/><circle cx="164.7" cy="122.3" r="1.3"/><circle cx="219.4" cy="176.9" r="1.3"/><circle cx="130.8" cy="100.1" r="1.3"/><circle cx="152.7" cy="121.9" r="1.3"/><circle cx="197.1" cy="147.8" r="1.3"/><circle cx="222.0" cy="173.7" r="1.3"/><circle cx="240.8" cy="184.7" r="1.3"/><circle cx="209.0" cy="171.0" r="1.3"/><circle cx="211.0" cy="176.7" r="1.3"/><circle cx="155.6" cy="110.4" r="1.3"/><circle cx="164.7" cy="135.4" r="1.3"/><circle cx="188.2" cy="148.0" r="1.3"/><circle cx="238.3" cy="188.0" r="1.3"/><circle cx="141.7" cy="101.9" r="1.3"/><circle cx="188.9" cy="153.1" r="1.3"/><circle cx="216.2" cy="169.9" r="1.3"/><circle cx="183.7" cy="149.0" r="1.3"/><circle cx="147.3" cy="118.6" r="1.3"/><circle cx="156.8" cy="129.2" r="1.3"/><circle cx="223.3" cy="172.7" r="1.3"/><circle cx="220.5" cy="175.1" r="1.3"/><circle cx="205.4" cy="156.5" r="1.3"/><circle cx="146.4" cy="109.0" r="1.3"/><circle cx="167.1" cy="133.3" r="1.3"/><circle cx="217.7" cy="172.4" r="1.3"/><circle cx="226.7" cy="180.0" r="1.3"/><circle cx="223.3" cy="181.1" r="1.3"/><circle cx="182.3" cy="152.5" r="1.3"/><circle cx="206.9" cy="161.6" r="1.3"/><circle cx="144.7" cy="119.2" r="1.3"/><circle cx="147.2" cy="115.6" r="1.3"/><circle cx="163.3" cy="139.2" r="1.3"/><circle cx="207.0" cy="174.8" r="1.3"/><circle cx="160.1" cy="124.6" r="1.3"/><circle cx="215.7" cy="162.4" r="1.3"/><circle cx="153.9" cy="131.1" r="1.3"/><circle cx="145.9" cy="126.6" r="1.3"/><circle cx="195.2" cy="161.2" r="1.3"/><circle cx="160.5" cy="126.5" r="1.3"/><circle cx="207.3" cy="171.2" r="1.3"/><circle cx="164.2" cy="130.9" r="1.3"/><circle cx="181.1" cy="141.2" r="1.3"/><circle cx="174.5" cy="126.7" r="1.3"/><circle cx="174.0" cy="142.2" r="1.3"/><circle cx="141.1" cy="108.2" r="1.3"/><circle cx="172.2" cy="132.6" r="1.3"/><circle cx="137.9" cy="122.5" r="1.3"/><circle cx="160.8" cy="128.9" r="1.3"/><circle cx="180.4" cy="150.3" r="1.3"/><circle cx="219.8" cy="169.8" r="1.3"/><circle cx="187.6" cy="150.9" r="1.3"/><circle cx="166.6" cy="137.6" r="1.3"/><circle cx="228.2" cy="177.8" r="1.3"/><circle cx="163.3" cy="132.8" r="1.3"/><circle cx="164.0" cy="137.6" r="1.3"/><circle cx="196.7" cy="156.9" r="1.3"/><circle cx="151.1" cy="113.9" r="1.3"/><circle cx="168.2" cy="129.8" r="1.3"/><circle cx="168.0" cy="139.8" r="1.3"/><circle cx="214.4" cy="179.8" r="1.3"/><circle cx="130.4" cy="106.9" r="1.3"/><circle cx="199.8" cy="160.7" r="1.3"/><circle cx="202.6" cy="179.9" r="1.3"/><circle cx="149.7" cy="118.3" r="1.3"/><circle cx="217.0" cy="166.6" r="1.3"/><circle cx="198.9" cy="154.6" r="1.3"/><circle cx="149.0" cy="132.7" r="1.3"/><circle cx="235.9" cy="181.7" r="1.3"/><circle cx="208.6" cy="161.4" r="1.3"/><circle cx="184.6" cy="147.1" r="1.3"/><circle cx="199.0" cy="159.4" r="1.3"/><circle cx="151.9" cy="114.2" r="1.3"/><circle cx="162.5" cy="123.8" r="1.3"/><circle cx="180.9" cy="158.7" r="1.3"/><circle cx="198.4" cy="157.8" r="1.3"/><circle cx="140.8" cy="125.3" r="1.3"/><circle cx="221.7" cy="172.6" r="1.3"/><circle cx="186.4" cy="141.4" r="1.3"/><circle cx="170.3" cy="131.1" r="1.3"/><circle cx="204.9" cy="164.6" r="1.3"/><circle cx="137.7" cy="111.3" r="1.3"/><circle cx="128.1" cy="99.6" r="1.3"/><circle cx="147.9" cy="114.9" r="1.3"/><circle cx="229.9" cy="178.3" r="1.3"/><circle cx="171.7" cy="128.8" r="1.3"/><circle cx="157.0" cy="130.9" r="1.3"/><circle cx="148.7" cy="119.8" r="1.3"/><circle cx="193.1" cy="152.9" r="1.3"/><circle cx="230.5" cy="190.4" r="1.3"/><circle cx="188.6" cy="151.0" r="1.3"/><circle cx="157.2" cy="120.4" r="1.3"/><circle cx="131.0" cy="103.6" r="1.3"/><circle cx="153.3" cy="130.6" r="1.3"/><circle cx="200.5" cy="157.2" r="1.3"/><circle cx="217.0" cy="167.6" r="1.3"/><circle cx="216.7" cy="179.0" r="1.3"/><circle cx="181.1" cy="142.2" r="1.3"/><circle cx="179.0" cy="154.1" r="1.3"/><circle cx="195.2" cy="169.9" r="1.3"/><circle cx="219.0" cy="168.9" r="1.3"/><circle cx="175.4" cy="138.0" r="1.3"/><circle cx="134.3" cy="115.7" r="1.3"/><circle cx="152.4" cy="120.5" r="1.3"/><circle cx="160.1" cy="126.9" r="1.3"/><circle cx="161.4" cy="126.3" r="1.3"/><circle cx="222.2" cy="192.4" r="1.3"/><circle cx="171.8" cy="140.3" r="1.3"/><circle cx="160.9" cy="136.8" r="1.3"/><circle cx="165.6" cy="134.3" r="1.3"/><circle cx="159.4" cy="116.2" r="1.3"/><circle cx="146.9" cy="110.2" r="1.3"/><circle cx="217.4" cy="174.4" r="1.3"/><circle cx="204.9" cy="164.1" r="1.3"/><circle cx="176.4" cy="147.3" r="1.3"/><circle cx="210.6" cy="156.4" r="1.3"/><circle cx="207.6" cy="168.8" r="1.3"/><circle cx="139.2" cy="117.0" r="1.3"/><circle cx="182.9" cy="161.2" r="1.3"/><circle cx="202.1" cy="165.9" r="1.3"/><circle cx="152.5" cy="114.9" r="1.3"/><circle cx="123.0" cy="99.5" r="1.3"/><circle cx="142.2" cy="113.6" r="1.3"/><circle cx="185.0" cy="169.6" r="1.3"/><circle cx="222.2" cy="167.4" r="1.3"/><circle cx="107.1" cy="83.0" r="1.3"/><circle cx="167.8" cy="135.1" r="1.3"/><circle cx="224.9" cy="168.1" r="1.3"/><circle cx="205.6" cy="157.4" r="1.3"/><circle cx="205.8" cy="167.6" r="1.3"/><circle cx="214.9" cy="174.8" r="1.3"/><circle cx="179.1" cy="135.2" r="1.3"/><circle cx="174.2" cy="153.7" r="1.3"/><circle cx="173.5" cy="153.2" r="1.3"/><circle cx="149.7" cy="117.8" r="1.3"/><circle cx="173.6" cy="124.7" r="1.3"/><circle cx="181.1" cy="127.1" r="1.3"/><circle cx="156.7" cy="119.3" r="1.3"/><circle cx="122.1" cy="87.9" r="1.3"/><circle cx="207.7" cy="164.6" r="1.3"/><circle cx="153.5" cy="122.3" r="1.3"/><circle cx="136.2" cy="105.3" r="1.3"/><circle cx="193.8" cy="154.6" r="1.3"/><circle cx="189.4" cy="154.9" r="1.3"/><circle cx="210.3" cy="159.3" r="1.3"/><circle cx="172.9" cy="146.8" r="1.3"/><circle cx="151.9" cy="104.6" r="1.3"/><circle cx="174.0" cy="132.5" r="1.3"/><circle cx="125.6" cy="98.6" r="1.3"/><circle cx="193.4" cy="154.7" r="1.3"/><circle cx="217.2" cy="177.6" r="1.3"/><circle cx="165.6" cy="131.2" r="1.3"/><circle cx="143.6" cy="117.9" r="1.3"/><circle cx="193.5" cy="161.1" r="1.3"/><circle cx="194.6" cy="169.5" r="1.3"/><circle cx="184.4" cy="149.1" r="1.3"/><circle cx="142.5" cy="122.5" r="1.3"/><circle cx="130.1" cy="94.0" r="1.3"/><circle cx="220.4" cy="169.5" r="1.3"/><circle cx="176.3" cy="147.2" r="1.3"/><circle cx="152.1" cy="121.4" r="1.3"/><circle cx="170.7" cy="131.0" r="1.3"/><circle cx="149.0" cy="117.0" r="1.3"/><circle cx="181.3" cy="136.5" r="1.3"/><circle cx="166.9" cy="136.3" r="1.3"/><circle cx="164.1" cy="116.1" r="1.3"/><circle cx="142.7" cy="108.2" r="1.3"/><circle cx="211.3" cy="168.0" r="1.3"/><circle cx="153.0" cy="122.7" r="1.3"/><circle cx="151.3" cy="113.0" r="1.3"/><circle cx="120.4" cy="88.0" r="1.3"/><circle cx="248.0" cy="187.9" r="1.3"/><circle cx="230.0" cy="177.7" r="1.3"/><circle cx="216.9" cy="171.4" r="1.3"/><circle cx="159.1" cy="129.6" r="1.3"/><circle cx="167.3" cy="122.2" r="1.3"/><circle cx="169.4" cy="134.3" r="1.3"/><circle cx="200.7" cy="173.3" r="1.3"/><circle cx="239.3" cy="193.5" r="1.3"/><circle cx="154.3" cy="131.3" r="1.3"/><circle cx="179.8" cy="154.7" r="1.3"/><circle cx="167.4" cy="126.1" r="1.3"/><circle cx="209.9" cy="166.4" r="1.3"/><circle cx="126.2" cy="97.5" r="1.3"/><circle cx="240.9" cy="178.6" r="1.3"/><circle cx="212.3" cy="176.9" r="1.3"/><circle cx="166.0" cy="138.6" r="1.3"/><circle cx="228.8" cy="180.1" r="1.3"/><circle cx="209.4" cy="169.4" r="1.3"/><circle cx="210.1" cy="165.2" r="1.3"/><circle cx="221.3" cy="161.3" r="1.3"/><circle cx="161.1" cy="131.3" r="1.3"/><circle cx="171.2" cy="152.7" r="1.3"/><circle cx="175.7" cy="143.9" r="1.3"/><circle cx="192.0" cy="157.5" r="1.3"/><circle cx="156.8" cy="123.8" r="1.3"/><circle cx="122.1" cy="92.9" r="1.3"/><circle cx="209.1" cy="163.2" r="1.3"/><circle cx="204.9" cy="161.4" r="1.3"/><circle cx="206.2" cy="160.6" r="1.3"/><circle cx="225.6" cy="178.4" r="1.3"/><circle cx="151.0" cy="120.3" r="1.3"/><circle cx="160.3" cy="117.5" r="1.3"/><circle cx="152.6" cy="121.0" r="1.3"/><circle cx="166.9" cy="124.9" r="1.3"/><circle cx="130.7" cy="97.1" r="1.3"/><circle cx="193.1" cy="160.1" r="1.3"/><circle cx="140.8" cy="108.3" r="1.3"/><circle cx="211.1" cy="161.7" r="1.3"/><circle cx="207.2" cy="160.0" r="1.3"/><circle cx="139.8" cy="116.7" r="1.3"/><circle cx="132.8" cy="107.2" r="1.3"/><circle cx="115.6" cy="90.8" r="1.3"/><circle cx="213.8" cy="171.6" r="1.3"/><circle cx="239.1" cy="182.0" r="1.3"/><circle cx="198.1" cy="159.9" r="1.3"/><circle cx="183.1" cy="127.2" r="1.3"/><circle cx="206.3" cy="165.0" r="1.3"/><circle cx="182.3" cy="145.9" r="1.3"/><circle cx="225.9" cy="179.0" r="1.3"/><circle cx="157.8" cy="143.7" r="1.3"/><circle cx="190.8" cy="145.7" r="1.3"/><circle cx="203.7" cy="151.4" r="1.3"/><circle cx="156.2" cy="110.6" r="1.3"/><circle cx="140.1" cy="115.9" r="1.3"/><circle cx="145.0" cy="125.7" r="1.3"/><circle cx="212.9" cy="156.8" r="1.3"/><circle cx="206.0" cy="169.0" r="1.3"/><circle cx="152.9" cy="118.7" r="1.3"/><circle cx="191.3" cy="157.8" r="1.3"/><circle cx="218.4" cy="166.1" r="1.3"/><circle cx="202.1" cy="159.7" r="1.3"/><circle cx="158.5" cy="131.9" r="1.3"/><circle cx="159.0" cy="127.5" r="1.3"/><circle cx="222.2" cy="170.2" r="1.3"/><circle cx="197.7" cy="169.1" r="1.3"/><circle cx="203.3" cy="171.0" r="1.3"/><circle cx="152.9" cy="122.9" r="1.3"/><circle cx="163.3" cy="126.7" r="1.3"/><circle cx="155.7" cy="125.3" r="1.3"/><circle cx="166.4" cy="114.1" r="1.3"/><circle cx="146.8" cy="121.9" r="1.3"/><circle cx="174.4" cy="136.8" r="1.3"/><circle cx="228.1" cy="188.5" r="1.3"/><circle cx="142.2" cy="109.5" r="1.3"/><circle cx="190.1" cy="159.1" r="1.3"/><circle cx="165.8" cy="118.5" r="1.3"/><circle cx="188.9" cy="149.2" r="1.3"/><circle cx="214.9" cy="171.6" r="1.3"/><circle cx="173.0" cy="134.2" r="1.3"/><circle cx="188.8" cy="145.8" r="1.3"/><circle cx="206.1" cy="160.7" r="1.3"/><circle cx="183.6" cy="149.4" r="1.3"/><circle cx="213.7" cy="175.0" r="1.3"/><circle cx="146.2" cy="124.4" r="1.3"/><circle cx="142.8" cy="113.6" r="1.3"/><circle cx="228.2" cy="181.4" r="1.3"/><circle cx="146.6" cy="115.2" r="1.3"/><circle cx="166.6" cy="131.0" r="1.3"/><circle cx="212.6" cy="163.1" r="1.3"/><circle cx="190.1" cy="144.5" r="1.3"/><circle cx="209.7" cy="166.0" r="1.3"/><circle cx="203.4" cy="156.3" r="1.3"/><circle cx="142.9" cy="117.8" r="1.3"/><circle cx="204.8" cy="148.0" r="1.3"/><circle cx="121.9" cy="93.9" r="1.3"/><circle cx="216.4" cy="163.3" r="1.3"/><circle cx="166.1" cy="122.9" r="1.3"/><circle cx="229.4" cy="176.1" r="1.3"/><circle cx="169.7" cy="125.1" r="1.3"/><circle cx="191.1" cy="145.8" r="1.3"/><circle cx="133.2" cy="105.4" r="1.3"/><circle cx="139.2" cy="106.7" r="1.3"/><circle cx="220.3" cy="171.6" r="1.3"/><circle cx="133.2" cy="101.8" r="1.3"/><circle cx="166.8" cy="138.7" r="1.3"/><circle cx="199.6" cy="146.3" r="1.3"/><circle cx="148.4" cy="133.4" r="1.3"/><circle cx="200.8" cy="171.5" r="1.3"/><circle cx="192.9" cy="150.0" r="1.3"/><circle cx="154.9" cy="131.2" r="1.3"/><circle cx="144.7" cy="102.5" r="1.3"/><circle cx="144.4" cy="110.1" r="1.3"/><circle cx="227.8" cy="180.8" r="1.3"/><circle cx="171.5" cy="142.3" r="1.3"/><circle cx="204.2" cy="174.0" r="1.3"/><circle cx="227.5" cy="175.6" r="1.3"/><circle cx="132.6" cy="106.5" r="1.3"/><circle cx="235.4" cy="179.0" r="1.3"/><circle cx="170.9" cy="140.4" r="1.3"/><circle cx="222.0" cy="185.3" r="1.3"/><circle cx="178.2" cy="149.7" r="1.3"/><circle cx="150.1" cy="120.2" r="1.3"/><circle cx="155.9" cy="111.2" r="1.3"/><circle cx="209.2" cy="159.4" r="1.3"/><circle cx="201.3" cy="157.0" r="1.3"/><circle cx="228.6" cy="173.6" r="1.3"/><circle cx="171.8" cy="133.3" r="1.3"/><circle cx="131.9" cy="106.9" r="1.3"/><circle cx="213.9" cy="172.4" r="1.3"/><circle cx="153.1" cy="112.5" r="1.3"/><circle cx="146.4" cy="112.3" r="1.3"/><circle cx="136.8" cy="108.1" r="1.3"/><circle cx="148.6" cy="125.1" r="1.3"/><circle cx="161.6" cy="124.1" r="1.3"/><circle cx="134.0" cy="100.6" r="1.3"/><circle cx="114.8" cy="90.3" r="1.3"/><circle cx="199.9" cy="149.9" r="1.3"/><circle cx="219.0" cy="169.8" r="1.3"/><circle cx="205.6" cy="158.7" r="1.3"/><circle cx="137.2" cy="105.3" r="1.3"/><circle cx="161.5" cy="139.4" r="1.3"/><circle cx="144.2" cy="113.9" r="1.3"/><circle cx="209.3" cy="177.9" r="1.3"/><circle cx="164.1" cy="135.0" r="1.3"/><circle cx="206.9" cy="160.2" r="1.3"/><circle cx="202.7" cy="169.6" r="1.3"/><circle cx="111.7" cy="83.5" r="1.3"/><circle cx="216.9" cy="167.3" r="1.3"/><circle cx="165.5" cy="124.9" r="1.3"/><circle cx="208.7" cy="164.8" r="1.3"/><circle cx="172.0" cy="137.7" r="1.3"/><circle cx="179.8" cy="134.4" r="1.3"/><circle cx="197.1" cy="160.4" r="1.3"/><circle cx="130.3" cy="104.4" r="1.3"/><circle cx="235.7" cy="180.9" r="1.3"/><circle cx="151.5" cy="116.6" r="1.3"/><circle cx="131.5" cy="94.3" r="1.3"/><circle cx="162.7" cy="127.1" r="1.3"/><circle cx="161.3" cy="124.0" r="1.3"/><circle cx="132.1" cy="110.9" r="1.3"/><circle cx="115.6" cy="85.9" r="1.3"/><circle cx="168.1" cy="126.4" r="1.3"/><circle cx="131.6" cy="107.2" r="1.3"/><circle cx="194.7" cy="145.0" r="1.3"/><circle cx="188.7" cy="143.5" r="1.3"/><circle cx="192.7" cy="133.6" r="1.3"/><circle cx="210.5" cy="172.2" r="1.3"/><circle cx="201.9" cy="165.2" r="1.3"/><circle cx="142.9" cy="117.2" r="1.3"/><circle cx="229.7" cy="189.9" r="1.3"/><circle cx="197.5" cy="158.5" r="1.3"/><circle cx="171.8" cy="135.5" r="1.3"/><circle cx="153.6" cy="112.1" r="1.3"/><circle cx="197.6" cy="167.7" r="1.3"/><circle cx="178.7" cy="127.0" r="1.3"/><circle cx="143.5" cy="112.4" r="1.3"/><circle cx="225.0" cy="177.3" r="1.3"/><circle cx="152.6" cy="122.6" r="1.3"/><circle cx="123.9" cy="90.2" r="1.3"/><circle cx="126.9" cy="99.6" r="1.3"/><circle cx="232.5" cy="189.1" r="1.3"/><circle cx="155.1" cy="119.1" r="1.3"/><circle cx="140.5" cy="93.8" r="1.3"/><circle cx="194.6" cy="151.0" r="1.3"/><circle cx="166.9" cy="127.7" r="1.3"/><circle cx="186.9" cy="157.8" r="1.3"/><circle cx="158.5" cy="126.1" r="1.3"/><circle cx="232.4" cy="180.4" r="1.3"/><circle cx="168.3" cy="130.0" r="1.3"/><circle cx="211.2" cy="162.3" r="1.3"/><circle cx="146.6" cy="122.0" r="1.3"/><circle cx="176.7" cy="146.5" r="1.3"/><circle cx="195.1" cy="155.4" r="1.3"/><circle cx="171.8" cy="136.5" r="1.3"/><circle cx="187.5" cy="140.2" r="1.3"/><circle cx="206.7" cy="158.7" r="1.3"/><circle cx="155.9" cy="133.4" r="1.3"/><circle cx="186.1" cy="147.9" r="1.3"/><circle cx="152.7" cy="119.9" r="1.3"/><circle cx="187.1" cy="150.0" r="1.3"/><circle cx="171.6" cy="143.0" r="1.3"/><circle cx="190.7" cy="139.5" r="1.3"/><circle cx="188.9" cy="154.4" r="1.3"/><circle cx="132.3" cy="111.7" r="1.3"/><circle cx="204.9" cy="154.0" r="1.3"/><circle cx="176.1" cy="149.0" r="1.3"/><circle cx="158.4" cy="123.9" r="1.3"/><circle cx="172.5" cy="131.0" r="1.3"/><circle cx="168.5" cy="127.1" r="1.3"/><circle cx="186.6" cy="143.5" r="1.3"/><circle cx="178.9" cy="149.0" r="1.3"/><circle cx="160.4" cy="128.3" r="1.3"/><circle cx="167.2" cy="133.8" r="1.3"/><circle cx="163.4" cy="126.5" r="1.3"/><circle cx="217.4" cy="171.1" r="1.3"/><circle cx="199.2" cy="145.4" r="1.3"/><circle cx="134.1" cy="110.6" r="1.3"/><circle cx="173.5" cy="142.1" r="1.3"/><circle cx="169.1" cy="129.0" r="1.3"/><circle cx="225.7" cy="169.4" r="1.3"/><circle cx="148.7" cy="121.2" r="1.3"/><circle cx="195.4" cy="155.9" r="1.3"/><circle cx="174.1" cy="133.9" r="1.3"/><circle cx="205.7" cy="166.5" r="1.3"/><circle cx="228.7" cy="172.3" r="1.3"/><circle cx="149.2" cy="118.4" r="1.3"/><circle cx="191.8" cy="164.5" r="1.3"/><circle cx="207.1" cy="168.9" r="1.3"/><circle cx="189.5" cy="155.3" r="1.3"/><circle cx="168.6" cy="126.4" r="1.3"/><circle cx="179.2" cy="141.5" r="1.3"/><circle cx="175.3" cy="141.7" r="1.3"/><circle cx="216.0" cy="167.6" r="1.3"/><circle cx="212.6" cy="160.5" r="1.3"/><circle cx="147.4" cy="113.9" r="1.3"/><circle cx="182.7" cy="146.3" r="1.3"/><circle cx="169.8" cy="132.1" r="1.3"/><circle cx="183.1" cy="156.3" r="1.3"/><circle cx="155.6" cy="121.1" r="1.3"/><circle cx="150.2" cy="114.7" r="1.3"/><circle cx="176.4" cy="142.9" r="1.3"/><circle cx="153.6" cy="108.2" r="1.3"/><circle cx="158.1" cy="128.0" r="1.3"/><circle cx="178.1" cy="148.6" r="1.3"/><circle cx="149.0" cy="109.7" r="1.3"/><circle cx="193.8" cy="163.8" r="1.3"/><circle cx="169.7" cy="132.5" r="1.3"/><circle cx="236.0" cy="182.7" r="1.3"/><circle cx="125.3" cy="96.9" r="1.3"/><circle cx="194.9" cy="167.0" r="1.3"/><circle cx="223.2" cy="176.3" r="1.3"/><circle cx="161.9" cy="131.3" r="1.3"/><circle cx="186.6" cy="152.5" r="1.3"/><circle cx="170.1" cy="144.7" r="1.3"/><circle cx="198.1" cy="152.2" r="1.3"/><circle cx="140.8" cy="114.0" r="1.3"/><circle cx="179.4" cy="141.8" r="1.3"/><circle cx="210.6" cy="160.2" r="1.3"/><circle cx="167.6" cy="124.3" r="1.3"/><circle cx="149.6" cy="117.6" r="1.3"/><circle cx="205.5" cy="157.2" r="1.3"/><circle cx="220.1" cy="175.8" r="1.3"/><circle cx="125.0" cy="106.3" r="1.3"/><circle cx="168.8" cy="134.3" r="1.3"/><circle cx="214.1" cy="169.0" r="1.3"/><circle cx="201.8" cy="145.2" r="1.3"/><circle cx="132.9" cy="102.4" r="1.3"/><circle cx="126.6" cy="102.1" r="1.3"/><circle cx="110.8" cy="87.7" r="1.3"/><circle cx="187.8" cy="143.2" r="1.3"/><circle cx="177.2" cy="154.3" r="1.3"/><circle cx="136.4" cy="110.3" r="1.3"/><circle cx="191.3" cy="146.0" r="1.3"/><circle cx="221.3" cy="166.0" r="1.3"/><circle cx="131.8" cy="111.4" r="1.3"/><circle cx="159.0" cy="116.1" r="1.3"/><circle cx="193.9" cy="146.2" r="1.3"/><circle cx="218.0" cy="165.2" r="1.3"/><circle cx="196.8" cy="148.8" r="1.3"/><circle cx="154.8" cy="121.1" r="1.3"/><circle cx="170.6" cy="125.0" r="1.3"/><circle cx="138.1" cy="114.0" r="1.3"/><circle cx="156.1" cy="120.7" r="1.3"/><circle cx="179.9" cy="144.7" r="1.3"/><circle cx="215.3" cy="182.7" r="1.3"/><circle cx="182.9" cy="145.1" r="1.3"/><circle cx="189.1" cy="149.9" r="1.3"/><circle cx="204.6" cy="171.1" r="1.3"/><circle cx="158.2" cy="119.4" r="1.3"/><circle cx="200.8" cy="160.1" r="1.3"/><circle cx="208.8" cy="149.4" r="1.3"/><circle cx="133.0" cy="105.8" r="1.3"/><circle cx="205.8" cy="161.3" r="1.3"/><circle cx="211.5" cy="162.2" r="1.3"/><circle cx="151.5" cy="116.7" r="1.3"/><circle cx="163.8" cy="132.7" r="1.3"/><circle cx="152.0" cy="119.9" r="1.3"/><circle cx="210.8" cy="168.2" r="1.3"/><circle cx="187.4" cy="151.4" r="1.3"/><circle cx="139.8" cy="117.2" r="1.3"/><circle cx="164.2" cy="139.0" r="1.3"/><circle cx="216.2" cy="175.8" r="1.3"/><circle cx="197.3" cy="161.5" r="1.3"/><circle cx="171.5" cy="139.9" r="1.3"/><circle cx="213.5" cy="160.9" r="1.3"/><circle cx="145.1" cy="121.6" r="1.3"/><circle cx="195.7" cy="163.9" r="1.3"/><circle cx="141.0" cy="115.3" r="1.3"/><circle cx="244.7" cy="190.0" r="1.3"/><circle cx="181.6" cy="137.8" r="1.3"/><circle cx="191.3" cy="152.3" r="1.3"/><circle cx="184.2" cy="140.4" r="1.3"/><circle cx="140.1" cy="119.9" r="1.3"/><circle cx="178.3" cy="129.4" r="1.3"/><circle cx="178.0" cy="145.9" r="1.3"/><circle cx="186.7" cy="145.6" r="1.3"/><circle cx="154.6" cy="119.3" r="1.3"/><circle cx="159.2" cy="117.5" r="1.3"/><circle cx="193.9" cy="163.4" r="1.3"/><circle cx="187.8" cy="140.0" r="1.3"/><circle cx="190.5" cy="156.4" r="1.3"/><circle cx="214.6" cy="168.3" r="1.3"/><circle cx="201.1" cy="158.2" r="1.3"/><circle cx="192.5" cy="153.7" r="1.3"/><circle cx="219.8" cy="171.0" r="1.3"/><circle cx="141.6" cy="103.0" r="1.3"/><circle cx="152.4" cy="127.7" r="1.3"/><circle cx="161.6" cy="118.9" r="1.3"/><circle cx="215.3" cy="160.3" r="1.3"/><circle cx="171.0" cy="123.2" r="1.3"/><circle cx="212.2" cy="165.1" r="1.3"/><circle cx="187.5" cy="152.3" r="1.3"/><circle cx="151.0" cy="119.2" r="1.3"/><circle cx="147.2" cy="118.7" r="1.3"/><circle cx="215.8" cy="174.8" r="1.3"/><circle cx="152.9" cy="114.3" r="1.3"/><circle cx="212.0" cy="162.6" r="1.3"/><circle cx="221.9" cy="175.7" r="1.3"/><circle cx="180.9" cy="148.5" r="1.3"/><circle cx="195.3" cy="176.6" r="1.3"/><circle cx="194.4" cy="155.2" r="1.3"/><circle cx="195.5" cy="161.9" r="1.3"/><circle cx="229.1" cy="178.0" r="1.3"/><circle cx="191.0" cy="137.2" r="1.3"/><circle cx="144.0" cy="112.0" r="1.3"/><circle cx="124.3" cy="93.4" r="1.3"/><circle cx="217.7" cy="175.2" r="1.3"/><circle cx="224.2" cy="172.5" r="1.3"/><circle cx="164.7" cy="135.7" r="1.3"/><circle cx="234.5" cy="173.5" r="1.3"/><circle cx="222.4" cy="163.0" r="1.3"/><circle cx="207.3" cy="160.8" r="1.3"/><circle cx="177.5" cy="141.0" r="1.3"/><circle cx="190.1" cy="154.4" r="1.3"/><circle cx="181.5" cy="150.2" r="1.3"/><circle cx="238.3" cy="179.0" r="1.3"/><circle cx="165.1" cy="133.0" r="1.3"/><circle cx="165.8" cy="131.3" r="1.3"/><circle cx="181.4" cy="155.5" r="1.3"/><circle cx="118.5" cy="93.9" r="1.3"/><circle cx="214.9" cy="185.8" r="1.3"/><circle cx="216.6" cy="182.6" r="1.3"/><circle cx="149.1" cy="124.8" r="1.3"/><circle cx="210.8" cy="167.7" r="1.3"/><circle cx="149.6" cy="113.0" r="1.3"/><circle cx="206.7" cy="163.9" r="1.3"/><circle cx="186.8" cy="150.3" r="1.3"/><circle cx="134.1" cy="99.4" r="1.3"/><circle cx="148.5" cy="113.5" r="1.3"/><circle cx="240.7" cy="187.6" r="1.3"/><circle cx="183.5" cy="153.2" r="1.3"/><circle cx="183.5" cy="146.4" r="1.3"/><circle cx="156.8" cy="121.5" r="1.3"/><circle cx="216.2" cy="171.7" r="1.3"/><circle cx="183.4" cy="146.4" r="1.3"/><circle cx="171.7" cy="143.9" r="1.3"/><circle cx="171.2" cy="121.6" r="1.3"/><circle cx="170.3" cy="132.5" r="1.3"/><circle cx="191.1" cy="147.3" r="1.3"/><circle cx="129.4" cy="108.1" r="1.3"/><circle cx="138.5" cy="112.4" r="1.3"/><circle cx="173.4" cy="145.9" r="1.3"/><circle cx="127.8" cy="101.7" r="1.3"/><circle cx="193.4" cy="158.9" r="1.3"/><circle cx="166.7" cy="137.0" r="1.3"/><circle cx="218.7" cy="170.6" r="1.3"/><circle cx="164.4" cy="120.8" r="1.3"/><circle cx="142.2" cy="112.3" r="1.3"/><circle cx="187.6" cy="148.9" r="1.3"/><circle cx="142.5" cy="124.8" r="1.3"/><circle cx="199.2" cy="152.3" r="1.3"/><circle cx="170.1" cy="140.7" r="1.3"/><circle cx="173.8" cy="131.5" r="1.3"/><circle cx="215.4" cy="167.4" r="1.3"/><circle cx="179.3" cy="135.6" r="1.3"/><circle cx="205.7" cy="170.9" r="1.3"/><circle cx="164.8" cy="130.2" r="1.3"/><circle cx="190.1" cy="160.2" r="1.3"/><circle cx="189.6" cy="156.8" r="1.3"/><circle cx="148.5" cy="123.4" r="1.3"/><circle cx="178.9" cy="144.4" r="1.3"/><circle cx="143.5" cy="113.7" r="1.3"/><circle cx="220.2" cy="173.8" r="1.3"/><circle cx="187.2" cy="141.7" r="1.3"/><circle cx="191.9" cy="161.6" r="1.3"/><circle cx="208.1" cy="175.2" r="1.3"/><circle cx="201.2" cy="161.0" r="1.3"/><circle cx="206.5" cy="172.2" r="1.3"/><circle cx="196.8" cy="150.1" r="1.3"/><circle cx="156.5" cy="129.6" r="1.3"/><circle cx="227.9" cy="178.2" r="1.3"/><circle cx="178.5" cy="131.9" r="1.3"/><circle cx="239.0" cy="184.4" r="1.3"/><circle cx="218.0" cy="176.7" r="1.3"/><circle cx="221.2" cy="164.9" r="1.3"/><circle cx="166.5" cy="126.8" r="1.3"/><circle cx="170.9" cy="133.5" r="1.3"/><circle cx="163.9" cy="120.8" r="1.3"/><circle cx="135.5" cy="108.9" r="1.3"/><circle cx="167.2" cy="128.1" r="1.3"/><circle cx="215.3" cy="175.9" r="1.3"/><circle cx="173.0" cy="151.5" r="1.3"/><circle cx="190.2" cy="148.7" r="1.3"/><circle cx="221.2" cy="170.5" r="1.3"/><circle cx="180.0" cy="142.0" r="1.3"/><circle cx="171.0" cy="137.2" r="1.3"/><circle cx="215.8" cy="169.5" r="1.3"/><circle cx="159.5" cy="127.9" r="1.3"/><circle cx="205.2" cy="164.4" r="1.3"/><circle cx="147.0" cy="120.6" r="1.3"/><circle cx="169.0" cy="128.3" r="1.3"/><circle cx="198.8" cy="150.9" r="1.3"/><circle cx="202.0" cy="151.8" r="1.3"/><circle cx="205.6" cy="173.1" r="1.3"/><circle cx="193.4" cy="154.1" r="1.3"/><circle cx="223.6" cy="171.4" r="1.3"/><circle cx="211.4" cy="169.3" r="1.3"/><circle cx="128.3" cy="109.0" r="1.3"/><circle cx="186.8" cy="143.3" r="1.3"/><circle cx="185.9" cy="139.4" r="1.3"/><circle cx="185.3" cy="141.5" r="1.3"/><circle cx="157.0" cy="122.8" r="1.3"/><circle cx="200.4" cy="161.3" r="1.3"/><circle cx="203.3" cy="143.9" r="1.3"/><circle cx="142.4" cy="109.2" r="1.3"/><circle cx="174.9" cy="151.1" r="1.3"/><circle cx="205.3" cy="170.9" r="1.3"/><circle cx="211.6" cy="165.9" r="1.3"/><circle cx="131.8" cy="96.3" r="1.3"/><circle cx="141.3" cy="110.3" r="1.3"/><circle cx="228.3" cy="180.5" r="1.3"/><circle cx="217.5" cy="165.0" r="1.3"/><circle cx="160.1" cy="124.8" r="1.3"/><circle cx="149.7" cy="120.0" r="1.3"/><circle cx="189.2" cy="148.3" r="1.3"/><circle cx="167.8" cy="136.2" r="1.3"/><circle cx="187.1" cy="141.2" r="1.3"/><circle cx="177.2" cy="133.0" r="1.3"/><circle cx="181.2" cy="147.8" r="1.3"/><circle cx="187.2" cy="135.5" r="1.3"/><circle cx="208.1" cy="166.8" r="1.3"/><circle cx="185.8" cy="141.0" r="1.3"/><circle cx="168.0" cy="134.8" r="1.3"/><circle cx="159.7" cy="133.1" r="1.3"/><circle cx="143.9" cy="110.5" r="1.3"/><circle cx="192.7" cy="160.7" r="1.3"/><circle cx="195.6" cy="148.3" r="1.3"/><circle cx="193.1" cy="165.5" r="1.3"/><circle cx="181.9" cy="154.9" r="1.3"/><circle cx="201.7" cy="163.1" r="1.3"/><circle cx="166.4" cy="134.9" r="1.3"/><circle cx="209.4" cy="164.8" r="1.3"/><circle cx="140.7" cy="108.2" r="1.3"/><circle cx="188.4" cy="146.2" r="1.3"/><circle cx="222.5" cy="172.0" r="1.3"/><circle cx="244.0" cy="189.4" r="1.3"/><circle cx="154.2" cy="117.1" r="1.3"/><circle cx="159.1" cy="125.8" r="1.3"/><circle cx="183.4" cy="142.9" r="1.3"/><circle cx="151.7" cy="118.5" r="1.3"/><circle cx="156.5" cy="124.8" r="1.3"/><circle cx="210.1" cy="164.8" r="1.3"/><circle cx="189.0" cy="140.5" r="1.3"/><circle cx="185.2" cy="150.0" r="1.3"/><circle cx="168.4" cy="146.2" r="1.3"/><circle cx="185.0" cy="165.7" r="1.3"/><circle cx="126.9" cy="103.4" r="1.3"/><circle cx="184.0" cy="145.3" r="1.3"/><circle cx="149.9" cy="114.7" r="1.3"/><circle cx="112.9" cy="90.4" r="1.3"/><circle cx="170.5" cy="133.0" r="1.3"/><circle cx="181.1" cy="138.8" r="1.3"/><circle cx="137.7" cy="102.9" r="1.3"/><circle cx="175.3" cy="152.2" r="1.3"/><circle cx="134.3" cy="106.8" r="1.3"/><circle cx="115.3" cy="84.7" r="1.3"/><circle cx="197.9" cy="161.9" r="1.3"/><circle cx="145.4" cy="120.6" r="1.3"/><circle cx="202.4" cy="154.6" r="1.3"/><circle cx="150.4" cy="121.6" r="1.3"/><circle cx="219.1" cy="168.7" r="1.3"/><circle cx="152.3" cy="129.2" r="1.3"/><circle cx="221.1" cy="171.9" r="1.3"/><circle cx="205.9" cy="166.5" r="1.3"/><circle cx="222.3" cy="182.6" r="1.3"/><circle cx="154.9" cy="119.6" r="1.3"/><circle cx="153.5" cy="120.4" r="1.3"/><circle cx="170.1" cy="124.8" r="1.3"/><circle cx="198.8" cy="142.3" r="1.3"/><circle cx="188.7" cy="150.7" r="1.3"/><circle cx="201.6" cy="153.1" r="1.3"/><circle cx="159.4" cy="120.4" r="1.3"/><circle cx="224.2" cy="182.5" r="1.3"/><circle cx="207.9" cy="165.1" r="1.3"/><circle cx="201.5" cy="162.8" r="1.3"/><circle cx="225.0" cy="188.4" r="1.3"/><circle cx="226.4" cy="173.7" r="1.3"/><circle cx="181.8" cy="146.2" r="1.3"/><circle cx="161.8" cy="133.0" r="1.3"/><circle cx="180.8" cy="149.2" r="1.3"/><circle cx="124.7" cy="100.9" r="1.3"/><circle cx="171.2" cy="156.3" r="1.3"/><circle cx="195.6" cy="161.8" r="1.3"/><circle cx="163.9" cy="140.1" r="1.3"/><circle cx="213.4" cy="161.4" r="1.3"/><circle cx="163.6" cy="123.6" r="1.3"/><circle cx="161.8" cy="126.1" r="1.3"/><circle cx="173.6" cy="138.1" r="1.3"/><circle cx="211.1" cy="171.5" r="1.3"/><circle cx="151.4" cy="110.1" r="1.3"/><circle cx="203.7" cy="143.0" r="1.3"/><circle cx="196.6" cy="151.9" r="1.3"/><circle cx="132.9" cy="105.6" r="1.3"/><circle cx="210.8" cy="154.3" r="1.3"/><circle cx="193.8" cy="149.5" r="1.3"/><circle cx="170.7" cy="130.2" r="1.3"/><circle cx="161.6" cy="121.6" r="1.3"/><circle cx="207.9" cy="164.3" r="1.3"/><circle cx="166.4" cy="130.8" r="1.3"/><circle cx="183.0" cy="147.1" r="1.3"/><circle cx="214.2" cy="172.7" r="1.3"/><circle cx="135.8" cy="113.5" r="1.3"/><circle cx="168.7" cy="129.7" r="1.3"/><circle cx="161.3" cy="135.6" r="1.3"/><circle cx="193.9" cy="150.6" r="1.3"/><circle cx="209.1" cy="161.7" r="1.3"/><circle cx="217.9" cy="164.3" r="1.3"/><circle cx="224.6" cy="178.9" r="1.3"/><circle cx="241.5" cy="186.3" r="1.3"/><circle cx="225.2" cy="162.6" r="1.3"/><circle cx="189.3" cy="142.8" r="1.3"/><circle cx="237.1" cy="180.8" r="1.3"/><circle cx="145.0" cy="117.6" r="1.3"/><circle cx="214.3" cy="166.4" r="1.3"/><circle cx="224.2" cy="178.3" r="1.3"/><circle cx="211.9" cy="157.1" r="1.3"/><circle cx="123.4" cy="94.3" r="1.3"/><circle cx="150.1" cy="121.7" r="1.3"/><circle cx="164.3" cy="118.5" r="1.3"/><circle cx="220.0" cy="182.8" r="1.3"/><circle cx="154.1" cy="118.9" r="1.3"/><circle cx="240.8" cy="185.8" r="1.3"/><circle cx="176.7" cy="153.5" r="1.3"/><circle cx="167.5" cy="127.0" r="1.3"/><circle cx="171.1" cy="147.2" r="1.3"/><circle cx="203.5" cy="141.5" r="1.3"/><circle cx="215.3" cy="168.9" r="1.3"/><circle cx="210.7" cy="164.5" r="1.3"/><circle cx="235.9" cy="179.6" r="1.3"/><circle cx="224.8" cy="185.9" r="1.3"/><circle cx="157.2" cy="125.4" r="1.3"/><circle cx="198.6" cy="155.8" r="1.3"/><circle cx="130.9" cy="109.4" r="1.3"/><circle cx="140.6" cy="117.4" r="1.3"/><circle cx="202.3" cy="164.5" r="1.3"/><circle cx="185.7" cy="156.7" r="1.3"/><circle cx="144.7" cy="109.1" r="1.3"/><circle cx="149.0" cy="120.3" r="1.3"/><circle cx="190.2" cy="144.9" r="1.3"/><circle cx="223.7" cy="170.7" r="1.3"/><circle cx="171.4" cy="131.3" r="1.3"/><circle cx="204.7" cy="156.6" r="1.3"/><circle cx="138.7" cy="115.9" r="1.3"/><circle cx="202.6" cy="156.8" r="1.3"/><circle cx="187.3" cy="144.0" r="1.3"/><circle cx="174.4" cy="148.9" r="1.3"/><circle cx="55.6" cy="30.7" r="1.3"/><circle cx="64.0" cy="36.8" r="1.3"/><circle cx="69.5" cy="43.3" r="1.3"/><circle cx="97.4" cy="57.1" r="1.3"/><circle cx="95.5" cy="62.2" r="1.3"/><circle cx="89.4" cy="67.0" r="1.3"/><circle cx="104.6" cy="70.8" r="1.3"/><circle cx="105.8" cy="78.8" r="1.3"/><circle cx="113.2" cy="81.3" r="1.3"/><circle cx="100.0" cy="81.5" r="1.3"/><circle cx="97.9" cy="90.0" r="1.3"/><circle cx="97.9" cy="92.9" r="1.3"/><circle cx="113.6" cy="102.2" r="1.3"/><circle cx="115.0" cy="104.4" r="1.3"/><circle cx="131.5" cy="122.9" r="1.3"/><circle cx="236.5" cy="182.9" r="1.3"/><circle cx="240.0" cy="183.6" r="1.3"/><circle cx="241.5" cy="184.3" r="1.3"/><circle cx="240.8" cy="190.0" r="1.3"/><circle cx="246.5" cy="187.2" r="1.3"/><circle cx="247.2" cy="191.5" r="1.3"/><circle cx="250.1" cy="190.0" r="1.3"/><circle cx="252.5" cy="191.5" r="1.3"/><circle cx="240.0" cy="193.6" r="1.3"/><circle cx="240.8" cy="195.8" r="1.3"/><circle cx="235.0" cy="196.5" r="1.3"/><circle cx="247.2" cy="202.2" r="1.3"/><circle cx="248.0" cy="206.5" r="1.3"/><circle cx="249.4" cy="207.5" r="1.3"/><circle cx="233.6" cy="178.6" r="1.3"/><circle cx="229.3" cy="184.3" r="1.3"/><circle cx="230.8" cy="188.6" r="1.3"/><circle cx="320.0" cy="257.7" r="1.3"/><circle cx="247.2" cy="206.3" r="1.3"/><circle cx="247.6" cy="217.5" r="1.3"/><circle cx="253.5" cy="223.8" r="1.3"/><circle cx="259.8" cy="217.8" r="1.3"/><circle cx="271.0" cy="220.3" r="1.3"/><circle cx="237.0" cy="190.0" r="1.3"/><circle cx="240.0" cy="186.0" r="1.3"/><circle cx="244.0" cy="192.0" r="1.3"/></g>
<g stroke="#c0603a" stroke-width="0.9" fill="none"><path d="M226.7,241.4H229.9M228.3,239.8V243.0"/><path d="M200.7,222.4H203.9M202.3,220.8V224.0"/><path d="M208.6,245.4H211.8M210.2,243.8V247.0"/><path d="M183.5,222.7H186.7M185.1,221.1V224.3"/><path d="M205.9,212.7H209.1M207.5,211.1V214.3"/><path d="M200.9,229.2H204.1M202.5,227.6V230.8"/><path d="M215.9,226.3H219.1M217.5,224.7V227.9"/><path d="M187.9,229.7H191.1M189.5,228.1V231.3"/><path d="M205.4,226.7H208.6M207.0,225.1V228.3"/><path d="M206.7,242.3H209.9M208.3,240.7V243.9"/><path d="M231.3,252.8H234.5M232.9,251.2V254.4"/><path d="M189.9,229.4H193.1M191.5,227.8V231.0"/><path d="M154.3,254.9H157.5M155.9,253.3V256.5"/><path d="M191.2,233.6H194.4M192.8,232.0V235.2"/><path d="M217.4,219.1H220.6M219.0,217.5V220.7"/><path d="M216.1,233.7H219.3M217.7,232.1V235.3"/><path d="M168.1,237.2H171.3M169.7,235.6V238.8"/><path d="M223.4,236.3H226.6M225.0,234.7V237.9"/><path d="M216.4,238.9H219.6M218.0,237.3V240.5"/><path d="M233.8,231.5H237.0M235.4,229.9V233.1"/><path d="M224.7,229.5H227.9M226.3,227.9V231.1"/><path d="M221.7,225.0H224.9M223.3,223.4V226.6"/><path d="M204.1,253.0H207.3M205.7,251.4V254.6"/><path d="M215.8,232.3H219.0M217.4,230.7V233.9"/><path d="M182.4,225.3H185.6M184.0,223.7V226.9"/><path d="M210.5,244.3H213.7M212.1,242.7V245.9"/><path d="M215.3,239.8H218.5M216.9,238.2V241.4"/><path d="M205.5,248.9H208.7M207.1,247.3V250.5"/><path d="M198.2,228.0H201.4M199.8,226.4V229.6"/><path d="M225.1,234.7H228.3M226.7,233.1V236.3"/><path d="M200.6,227.7H203.8M202.2,226.1V229.3"/><path d="M201.0,240.9H204.2M202.6,239.3V242.5"/><path d="M213.8,220.7H217.0M215.4,219.1V222.3"/><path d="M215.4,236.0H218.6M217.0,234.4V237.6"/><path d="M185.4,242.5H188.6M187.0,240.9V244.1"/><path d="M200.5,230.3H203.7M202.1,228.7V231.9"/><path d="M223.1,248.5H226.3M224.7,246.9V250.1"/><path d="M191.9,238.8H195.1M193.5,237.2V240.4"/><path d="M188.0,259.5H191.2M189.6,257.9V261.1"/><path d="M196.0,247.1H199.2M197.6,245.5V248.7"/><path d="M192.8,242.9H196.0M194.4,241.3V244.5"/><path d="M197.3,239.5H200.5M198.9,237.9V241.1"/><path d="M204.4,226.6H207.6M206.0,225.0V228.2"/><path d="M251.6,234.9H254.8M253.2,233.3V236.5"/><path d="M171.9,243.4H175.1M173.5,241.8V245.0"/><path d="M170.2,246.7H173.4M171.8,245.1V248.3"/><path d="M194.3,235.6H197.5M195.9,234.0V237.2"/><path d="M232.9,235.3H236.1M234.5,233.7V236.9"/><path d="M177.2,215.3H180.4M178.8,213.7V216.9"/><path d="M231.2,242.1H234.4M232.8,240.5V243.7"/><path d="M189.3,243.5H192.5M190.9,241.9V245.1"/><path d="M216.8,241.1H220.0M218.4,239.5V242.7"/><path d="M159.0,230.7H162.2M160.6,229.1V232.3"/><path d="M225.3,242.1H228.5M226.9,240.5V243.7"/><path d="M224.9,207.0H228.1M226.5,205.4V208.6"/><path d="M210.0,239.4H213.2M211.6,237.8V241.0"/><path d="M199.5,234.4H202.7M201.1,232.8V236.0"/><path d="M225.0,229.1H228.2M226.6,227.5V230.7"/><path d="M230.5,225.3H233.7M232.1,223.7V226.9"/><path d="M212.0,228.2H215.2M213.6,226.6V229.8"/><path d="M209.7,226.4H212.9M211.3,224.8V228.0"/><path d="M172.9,246.0H176.1M174.5,244.4V247.6"/><path d="M212.8,227.9H216.0M214.4,226.3V229.5"/><path d="M210.6,244.9H213.8M212.2,243.3V246.5"/><path d="M185.9,232.8H189.1M187.5,231.2V234.4"/><path d="M217.7,239.8H220.9M219.3,238.2V241.4"/><path d="M199.4,210.8H202.6M201.0,209.2V212.4"/><path d="M232.5,237.6H235.7M234.1,236.0V239.2"/><path d="M206.7,230.9H209.9M208.3,229.3V232.5"/><path d="M211.9,229.3H215.1M213.5,227.7V230.9"/><path d="M184.9,225.9H188.1M186.5,224.3V227.5"/><path d="M193.9,227.3H197.1M195.5,225.7V228.9"/><path d="M182.1,241.0H185.3M183.7,239.4V242.6"/><path d="M178.9,241.3H182.1M180.5,239.7V242.9"/><path d="M185.1,237.9H188.3M186.7,236.3V239.5"/><path d="M235.3,236.2H238.5M236.9,234.6V237.8"/><path d="M191.1,234.5H194.3M192.7,232.9V236.1"/><path d="M209.5,214.9H212.7M211.1,213.3V216.5"/><path d="M193.6,235.8H196.8M195.2,234.2V237.4"/><path d="M196.5,234.9H199.7M198.1,233.3V236.5"/><path d="M221.8,242.4H225.0M223.4,240.8V244.0"/><path d="M225.4,240.5H228.6M227.0,238.9V242.1"/><path d="M200.4,233.8H203.6M202.0,232.2V235.4"/><path d="M200.7,230.6H203.9M202.3,229.0V232.2"/><path d="M202.6,215.0H205.8M204.2,213.4V216.6"/><path d="M199.4,233.7H202.6M201.0,232.1V235.3"/><path d="M185.9,233.7H189.1M187.5,232.1V235.3"/><path d="M217.2,232.2H220.4M218.8,230.6V233.8"/><path d="M202.1,213.9H205.3M203.7,212.3V215.5"/><path d="M227.0,263.2H230.2M228.6,261.6V264.8"/><path d="M153.9,235.4H157.1M155.5,233.8V237.0"/><path d="M217.3,230.7H220.5M218.9,229.1V232.3"/><path d="M218.0,209.3H221.2M219.6,207.7V210.9"/><path d="M224.3,238.1H227.5M225.9,236.5V239.7"/><path d="M206.9,227.5H210.1M208.5,225.9V229.1"/><path d="M219.8,228.7H223.0M221.4,227.1V230.3"/><path d="M211.1,228.4H214.3M212.7,226.8V230.0"/><path d="M159.2,233.7H162.4M160.8,232.1V235.3"/><path d="M210.6,242.3H213.8M212.2,240.7V243.9"/><path d="M188.0,233.6H191.2M189.6,232.0V235.2"/><path d="M219.4,235.6H222.6M221.0,234.0V237.2"/><path d="M232.5,255.9H235.7M234.1,254.3V257.5"/><path d="M187.3,212.9H190.5M188.9,211.3V214.5"/><path d="M224.4,250.8H227.6M226.0,249.2V252.4"/><path d="M225.8,243.0H229.0M227.4,241.4V244.6"/><path d="M193.4,226.2H196.6M195.0,224.6V227.8"/><path d="M225.1,224.0H228.3M226.7,222.4V225.6"/><path d="M168.3,223.0H171.5M169.9,221.4V224.6"/><path d="M192.0,226.0H195.2M193.6,224.4V227.6"/><path d="M211.3,225.8H214.5M212.9,224.2V227.4"/><path d="M233.9,233.1H237.1M235.5,231.5V234.7"/><path d="M183.6,248.4H186.8M185.2,246.8V250.0"/><path d="M194.2,236.4H197.4M195.8,234.8V238.0"/><path d="M206.1,230.5H209.3M207.7,228.9V232.1"/><path d="M213.2,226.4H216.4M214.8,224.8V228.0"/><path d="M167.7,209.7H170.9M169.3,208.1V211.3"/><path d="M179.8,225.7H183.0M181.4,224.1V227.3"/><path d="M205.9,234.6H209.1M207.5,233.0V236.2"/><path d="M218.1,235.3H221.3M219.7,233.7V236.9"/><path d="M189.7,226.2H192.9M191.3,224.6V227.8"/><path d="M161.9,232.1H165.1M163.5,230.5V233.7"/><path d="M216.6,239.8H219.8M218.2,238.2V241.4"/><path d="M203.9,232.1H207.1M205.5,230.5V233.7"/><path d="M226.1,234.2H229.3M227.7,232.6V235.8"/><path d="M221.9,240.4H225.1M223.5,238.8V242.0"/><path d="M210.9,248.4H214.1M212.5,246.8V250.0"/><path d="M194.4,230.1H197.6M196.0,228.5V231.7"/><path d="M189.4,225.2H192.6M191.0,223.6V226.8"/><path d="M239.1,253.4H242.3M240.7,251.8V255.0"/><path d="M206.9,240.3H210.1M208.5,238.7V241.9"/><path d="M231.1,242.9H234.3M232.7,241.3V244.5"/><path d="M231.7,220.1H234.9M233.3,218.5V221.7"/><path d="M193.0,239.0H196.2M194.6,237.4V240.6"/><path d="M236.5,235.1H239.7M238.1,233.5V236.7"/><path d="M188.4,230.1H191.6M190.0,228.5V231.7"/><path d="M192.5,224.6H195.7M194.1,223.0V226.2"/><path d="M237.9,227.1H241.1M239.5,225.5V228.7"/><path d="M206.8,257.8H210.0M208.4,256.2V259.4"/><path d="M231.3,237.7H234.5M232.9,236.1V239.3"/><path d="M193.6,238.5H196.8M195.2,236.9V240.1"/><path d="M240.5,240.9H243.7M242.1,239.3V242.5"/><path d="M232.9,235.1H236.1M234.5,233.5V236.7"/><path d="M217.2,231.8H220.4M218.8,230.2V233.4"/><path d="M215.4,248.3H218.6M217.0,246.7V249.9"/><path d="M176.3,233.3H179.5M177.9,231.7V234.9"/><path d="M211.4,227.7H214.6M213.0,226.1V229.3"/><path d="M199.9,242.7H203.1M201.5,241.1V244.3"/><path d="M248.4,240.9H251.6M250.0,239.3V242.5"/><path d="M213.2,216.9H216.4M214.8,215.3V218.5"/><path d="M246.9,234.8H250.1M248.5,233.2V236.4"/><path d="M205.7,221.7H208.9M207.3,220.1V223.3"/><path d="M205.2,221.9H208.4M206.8,220.3V223.5"/><path d="M207.9,239.1H211.1M209.5,237.5V240.7"/><path d="M207.1,237.1H210.3M208.7,235.5V238.7"/><path d="M188.5,249.7H191.7M190.1,248.1V251.3"/><path d="M192.7,214.0H195.9M194.3,212.4V215.6"/><path d="M202.5,225.6H205.7M204.1,224.0V227.2"/><path d="M185.2,230.1H188.4M186.8,228.5V231.7"/><path d="M212.5,221.0H215.7M214.1,219.4V222.6"/><path d="M203.5,249.7H206.7M205.1,248.1V251.3"/><path d="M220.7,232.3H223.9M222.3,230.7V233.9"/><path d="M209.1,232.7H212.3M210.7,231.1V234.3"/><path d="M205.4,242.1H208.6M207.0,240.5V243.7"/><path d="M204.5,207.6H207.7M206.1,206.0V209.2"/><path d="M205.9,224.2H209.1M207.5,222.6V225.8"/><path d="M220.1,227.3H223.3M221.7,225.7V228.9"/><path d="M209.5,258.0H212.7M211.1,256.4V259.6"/><path d="M184.4,221.6H187.6M186.0,220.0V223.2"/><path d="M176.8,207.7H180.0M178.4,206.1V209.3"/><path d="M167.0,238.0H170.2M168.6,236.4V239.6"/><path d="M193.0,213.5H196.2M194.6,211.9V215.1"/><path d="M175.3,240.8H178.5M176.9,239.2V242.4"/><path d="M190.1,230.0H193.3M191.7,228.4V231.6"/><path d="M213.3,248.9H216.5M214.9,247.3V250.5"/><path d="M247.2,245.4H250.4M248.8,243.8V247.0"/><path d="M209.4,236.0H212.6M211.0,234.4V237.6"/><path d="M244.2,249.7H247.4M245.8,248.1V251.3"/><path d="M199.9,239.0H203.1M201.5,237.4V240.6"/><path d="M212.4,234.6H215.6M214.0,233.0V236.2"/><path d="M195.9,219.4H199.1M197.5,217.8V221.0"/><path d="M195.2,217.0H198.4M196.8,215.4V218.6"/><path d="M232.1,239.9H235.3M233.7,238.3V241.5"/><path d="M181.1,249.4H184.3M182.7,247.8V251.0"/><path d="M225.1,213.0H228.3M226.7,211.4V214.6"/><path d="M245.1,242.9H248.3M246.7,241.3V244.5"/><path d="M217.5,238.7H220.7M219.1,237.1V240.3"/><path d="M210.6,235.9H213.8M212.2,234.3V237.5"/><path d="M228.5,217.6H231.7M230.1,216.0V219.2"/><path d="M180.3,218.7H183.5M181.9,217.1V220.3"/><path d="M194.7,227.3H197.9M196.3,225.7V228.9"/><path d="M214.1,236.9H217.3M215.7,235.3V238.5"/><path d="M207.1,226.6H210.3M208.7,225.0V228.2"/><path d="M197.1,244.5H200.3M198.7,242.9V246.1"/><path d="M222.4,235.1H225.6M224.0,233.5V236.7"/><path d="M173.9,215.2H177.1M175.5,213.6V216.8"/><path d="M178.6,205.7H181.8M180.2,204.1V207.3"/><path d="M211.4,210.1H214.6M213.0,208.5V211.7"/><path d="M205.2,212.8H208.4M206.8,211.2V214.4"/><path d="M160.1,207.9H163.3M161.7,206.3V209.5"/><path d="M182.4,216.6H185.6M184.0,215.0V218.2"/><path d="M177.5,214.9H180.7M179.1,213.3V216.5"/><path d="M188.0,203.2H191.2M189.6,201.6V204.8"/><path d="M205.8,200.2H209.0M207.4,198.6V201.8"/><path d="M203.5,202.1H206.7M205.1,200.5V203.7"/><path d="M158.5,202.8H161.7M160.1,201.2V204.4"/><path d="M200.3,221.5H203.5M201.9,219.9V223.1"/><path d="M158.6,209.8H161.8M160.2,208.2V211.4"/><path d="M185.4,217.1H188.6M187.0,215.5V218.7"/><path d="M168.5,209.9H171.7M170.1,208.3V211.5"/><path d="M177.5,218.0H180.7M179.1,216.4V219.6"/><path d="M172.7,220.7H175.9M174.3,219.1V222.3"/><path d="M174.0,203.2H177.2M175.6,201.6V204.8"/><path d="M196.9,210.0H200.1M198.5,208.4V211.6"/><path d="M164.4,213.3H167.6M166.0,211.7V214.9"/><path d="M162.8,216.9H166.0M164.4,215.3V218.5"/><path d="M196.7,216.9H199.9M198.3,215.3V218.5"/><path d="M192.9,206.5H196.1M194.5,204.9V208.1"/><path d="M180.5,207.5H183.7M182.1,205.9V209.1"/><path d="M207.4,200.1H210.6M209.0,198.5V201.7"/><path d="M207.3,198.6H210.5M208.9,197.0V200.2"/><path d="M169.7,204.3H172.9M171.3,202.7V205.9"/><path d="M208.0,210.0H211.2M209.6,208.4V211.6"/><path d="M179.3,219.2H182.5M180.9,217.6V220.8"/><path d="M171.2,209.1H174.4M172.8,207.5V210.7"/><path d="M118.5,161.2H121.7M120.1,159.6V162.8"/><path d="M130.7,163.6H133.9M132.3,162.0V165.2"/><path d="M132.8,168.6H136.0M134.4,167.0V170.2"/><path d="M149.1,166.5H152.3M150.7,164.9V168.1"/><path d="M148.7,171.5H151.9M150.3,169.9V173.1"/><path d="M153.4,183.0H156.6M155.0,181.4V184.6"/><path d="M165.6,183.7H168.8M167.2,182.1V185.3"/><path d="M173.5,179.4H176.7M175.1,177.8V181.0"/><path d="M130.9,147.0H134.1M132.5,145.4V148.6"/><path d="M111.9,277.3H115.1M113.5,275.7V278.9"/><path d="M192.4,278.0H195.6M194.0,276.4V279.6"/><path d="M241.4,278.0H244.6M243.0,276.4V279.6"/><path d="M261.7,263.3H264.9M263.3,261.7V264.9"/><path d="M286.9,271.7H290.1M288.5,270.1V273.3"/><path d="M290.4,275.2H293.6M292.0,273.6V276.8"/><path d="M309.7,271.7H312.9M311.3,270.1V273.3"/><path d="M316.7,274.5H319.9M318.3,272.9V276.1"/><path d="M320.2,273.8H323.4M321.8,272.2V275.4"/><path d="M262.4,271.0H265.6M264.0,269.4V272.6"/></g>
<g stroke="#8cc63f" stroke-width="0.8" fill="none"><path d="M184.5,242.1L187.9,245.5M184.5,245.5L187.9,242.1"/><path d="M184.9,235.9L188.3,239.3M184.9,239.3L188.3,235.9"/><path d="M174.3,236.7L177.7,240.1M174.3,240.1L177.7,236.7"/><path d="M205.0,241.5L208.4,244.9M205.0,244.9L208.4,241.5"/><path d="M203.9,240.2L207.3,243.6M203.9,243.6L207.3,240.2"/><path d="M194.2,239.7L197.6,243.1M194.2,243.1L197.6,239.7"/><path d="M163.3,244.7L166.7,248.1M163.3,248.1L166.7,244.7"/><path d="M195.9,242.0L199.3,245.4M195.9,245.4L199.3,242.0"/><path d="M162.9,225.2L166.3,228.6M162.9,228.6L166.3,225.2"/><path d="M175.0,234.8L178.4,238.2M175.0,238.2L178.4,234.8"/><path d="M192.9,238.0L196.3,241.4M192.9,241.4L196.3,238.0"/><path d="M196.1,233.5L199.5,236.9M196.1,236.9L199.5,233.5"/><path d="M192.9,241.3L196.3,244.7M192.9,244.7L196.3,241.3"/><path d="M178.4,251.2L181.8,254.6M178.4,254.6L181.8,251.2"/><path d="M196.6,247.3L200.0,250.7M196.6,250.7L200.0,247.3"/><path d="M179.0,232.8L182.4,236.2M179.0,236.2L182.4,232.8"/><path d="M183.1,237.5L186.5,240.9M183.1,240.9L186.5,237.5"/><path d="M197.8,240.2L201.2,243.6M197.8,243.6L201.2,240.2"/><path d="M181.6,231.1L185.0,234.5M181.6,234.5L185.0,231.1"/><path d="M180.5,247.5L183.9,250.9M180.5,250.9L183.9,247.5"/><path d="M176.2,240.1L179.6,243.5M176.2,243.5L179.6,240.1"/><path d="M194.7,227.1L198.1,230.5M194.7,230.5L198.1,227.1"/><path d="M189.0,248.1L192.4,251.5M189.0,251.5L192.4,248.1"/><path d="M158.1,235.9L161.5,239.3M158.1,239.3L161.5,235.9"/><path d="M186.7,232.2L190.1,235.6M186.7,235.6L190.1,232.2"/><path d="M195.8,237.8L199.2,241.2M195.8,241.2L199.2,237.8"/><path d="M166.3,244.5L169.7,247.9M166.3,247.9L169.7,244.5"/><path d="M198.3,245.4L201.7,248.8M198.3,248.8L201.7,245.4"/><path d="M209.9,241.0L213.3,244.4M209.9,244.4L213.3,241.0"/><path d="M190.1,228.6L193.5,232.0M190.1,232.0L193.5,228.6"/><path d="M197.5,233.7L200.9,237.1M197.5,237.1L200.9,233.7"/><path d="M181.5,228.8L184.9,232.2M181.5,232.2L184.9,228.8"/><path d="M173.8,234.3L177.2,237.7M173.8,237.7L177.2,234.3"/><path d="M207.6,223.1L211.0,226.5M207.6,226.5L211.0,223.1"/><path d="M166.4,240.1L169.8,243.5M166.4,243.5L169.8,240.1"/><path d="M210.0,242.6L213.4,246.0M210.0,246.0L213.4,242.6"/><path d="M159.8,219.4L163.2,222.8M159.8,222.8L163.2,219.4"/><path d="M193.7,232.8L197.1,236.2M193.7,236.2L197.1,232.8"/><path d="M171.5,245.6L174.9,249.0M171.5,249.0L174.9,245.6"/><path d="M204.8,239.5L208.2,242.9M204.8,242.9L208.2,239.5"/><path d="M192.0,241.6L195.4,245.0M192.0,245.0L195.4,241.6"/><path d="M212.2,242.9L215.6,246.3M212.2,246.3L215.6,242.9"/><path d="M196.1,242.4L199.5,245.8M196.1,245.8L199.5,242.4"/><path d="M164.8,247.9L168.2,251.3M164.8,251.3L168.2,247.9"/><path d="M202.6,242.3L206.0,245.7M202.6,245.7L206.0,242.3"/><path d="M158.7,233.5L162.1,236.9M158.7,236.9L162.1,233.5"/><path d="M200.9,224.7L204.3,228.1M200.9,228.1L204.3,224.7"/><path d="M185.5,245.9L188.9,249.3M185.5,249.3L188.9,245.9"/><path d="M168.6,250.4L172.0,253.8M168.6,253.8L172.0,250.4"/><path d="M196.6,237.2L200.0,240.6M196.6,240.6L200.0,237.2"/><path d="M193.2,243.2L196.6,246.6M193.2,246.6L196.6,243.2"/><path d="M190.1,246.9L193.5,250.3M190.1,250.3L193.5,246.9"/><path d="M178.4,235.2L181.8,238.6M178.4,238.6L181.8,235.2"/><path d="M203.9,238.5L207.3,241.9M203.9,241.9L207.3,238.5"/><path d="M175.1,245.4L178.5,248.8M175.1,248.8L178.5,245.4"/><path d="M210.3,235.0L213.7,238.4M210.3,238.4L213.7,235.0"/><path d="M167.6,237.3L171.0,240.7M167.6,240.7L171.0,237.3"/><path d="M186.1,236.1L189.5,239.5M186.1,239.5L189.5,236.1"/><path d="M209.4,230.6L212.8,234.0M209.4,234.0L212.8,230.6"/><path d="M207.2,228.8L210.6,232.2M207.2,232.2L210.6,228.8"/><path d="M176.5,243.0L179.9,246.4M176.5,246.4L179.9,243.0"/><path d="M205.2,244.7L208.6,248.1M205.2,248.1L208.6,244.7"/><path d="M193.5,239.4L196.9,242.8M193.5,242.8L196.9,239.4"/><path d="M190.6,242.6L194.0,246.0M190.6,246.0L194.0,242.6"/><path d="M185.7,240.4L189.1,243.8M185.7,243.8L189.1,240.4"/><path d="M196.9,238.3L200.3,241.7M196.9,241.7L200.3,238.3"/><path d="M199.8,242.5L203.2,245.9M199.8,245.9L203.2,242.5"/><path d="M218.5,240.7L221.9,244.1M218.5,244.1L221.9,240.7"/><path d="M181.9,235.5L185.3,238.9M181.9,238.9L185.3,235.5"/><path d="M188.1,245.2L191.5,248.6M188.1,248.6L191.5,245.2"/><path d="M183.3,241.2L186.7,244.6M183.3,244.6L186.7,241.2"/><path d="M215.9,219.1L219.3,222.5M215.9,222.5L219.3,219.1"/><path d="M171.4,240.1L174.8,243.5M171.4,243.5L174.8,240.1"/><path d="M194.3,240.1L197.7,243.5M194.3,243.5L197.7,240.1"/><path d="M181.8,243.2L185.2,246.6M181.8,246.6L185.2,243.2"/><path d="M192.5,234.4L195.9,237.8M192.5,237.8L195.9,234.4"/><path d="M224.8,241.0L228.2,244.4M224.8,244.4L228.2,241.0"/><path d="M180.0,237.6L183.4,241.0M180.0,241.0L183.4,237.6"/><path d="M184.9,237.8L188.3,241.2M184.9,241.2L188.3,237.8"/><path d="M147.4,234.6L150.8,238.0M147.4,238.0L150.8,234.6"/><path d="M203.4,229.5L206.8,232.9M203.4,232.9L206.8,229.5"/><path d="M187.3,245.5L190.7,248.9M187.3,248.9L190.7,245.5"/><path d="M201.1,249.5L204.5,252.9M201.1,252.9L204.5,249.5"/><path d="M162.8,235.6L166.2,239.0M162.8,239.0L166.2,235.6"/><path d="M183.2,243.0L186.6,246.4M183.2,246.4L186.6,243.0"/><path d="M204.7,218.2L208.1,221.6M204.7,221.6L208.1,218.2"/><path d="M204.6,227.4L208.0,230.8M204.6,230.8L208.0,227.4"/><path d="M198.5,227.1L201.9,230.5M198.5,230.5L201.9,227.1"/><path d="M190.9,247.3L194.3,250.7M190.9,250.7L194.3,247.3"/><path d="M186.1,239.7L189.5,243.1M186.1,243.1L189.5,239.7"/><path d="M200.3,239.4L203.7,242.8M200.3,242.8L203.7,239.4"/><path d="M187.0,249.8L190.4,253.2M187.0,253.2L190.4,249.8"/><path d="M204.0,236.1L207.4,239.5M204.0,239.5L207.4,236.1"/><path d="M229.5,229.7L232.9,233.1M229.5,233.1L232.9,229.7"/><path d="M202.0,236.3L205.4,239.7M202.0,239.7L205.4,236.3"/><path d="M190.3,243.6L193.7,247.0M190.3,247.0L193.7,243.6"/><path d="M191.6,243.1L195.0,246.5M191.6,246.5L195.0,243.1"/><path d="M165.4,227.0L168.8,230.4M165.4,230.4L168.8,227.0"/><path d="M197.5,231.1L200.9,234.5M197.5,234.5L200.9,231.1"/><path d="M172.9,227.3L176.3,230.7M172.9,230.7L176.3,227.3"/><path d="M207.3,243.9L210.7,247.3M207.3,247.3L210.7,243.9"/><path d="M210.4,231.3L213.8,234.7M210.4,234.7L213.8,231.3"/><path d="M188.3,229.7L191.7,233.1M188.3,233.1L191.7,229.7"/><path d="M199.8,250.2L203.2,253.6M199.8,253.6L203.2,250.2"/><path d="M174.9,250.0L178.3,253.4M174.9,253.4L178.3,250.0"/><path d="M203.1,237.0L206.5,240.4M203.1,240.4L206.5,237.0"/><path d="M158.7,248.8L162.1,252.2M158.7,252.2L162.1,248.8"/><path d="M186.9,233.8L190.3,237.2M186.9,237.2L190.3,233.8"/><path d="M194.3,241.4L197.7,244.8M194.3,244.8L197.7,241.4"/><path d="M210.8,230.6L214.2,234.0M210.8,234.0L214.2,230.6"/><path d="M205.3,249.5L208.7,252.9M205.3,252.9L208.7,249.5"/><path d="M210.1,236.9L213.5,240.3M210.1,240.3L213.5,236.9"/><path d="M177.1,245.9L180.5,249.3M177.1,249.3L180.5,245.9"/><path d="M190.0,239.2L193.4,242.6M190.0,242.6L193.4,239.2"/><path d="M209.7,236.3L213.1,239.7M209.7,239.7L213.1,236.3"/><path d="M153.8,235.4L157.2,238.8M153.8,238.8L157.2,235.4"/><path d="M160.5,244.4L163.9,247.8M160.5,247.8L163.9,244.4"/><path d="M193.1,233.7L196.5,237.1M193.1,237.1L196.5,233.7"/><path d="M188.2,244.5L191.6,247.9M188.2,247.9L191.6,244.5"/><path d="M189.5,248.2L192.9,251.6M189.5,251.6L192.9,248.2"/><path d="M187.4,246.1L190.8,249.5M187.4,249.5L190.8,246.1"/><path d="M210.7,250.4L214.1,253.8M210.7,253.8L214.1,250.4"/><path d="M178.2,244.9L181.6,248.3M178.2,248.3L181.6,244.9"/><path d="M160.2,230.2L163.6,233.6M160.2,233.6L163.6,230.2"/><path d="M158.9,246.3L162.3,249.7M158.9,249.7L162.3,246.3"/><path d="M169.8,238.2L173.2,241.6M169.8,241.6L173.2,238.2"/><path d="M185.4,238.1L188.8,241.5M185.4,241.5L188.8,238.1"/><path d="M179.4,240.1L182.8,243.5M179.4,243.5L182.8,240.1"/><path d="M215.2,238.6L218.6,242.0M215.2,242.0L218.6,238.6"/><path d="M196.3,245.8L199.7,249.2M196.3,249.2L199.7,245.8"/><path d="M185.3,228.9L188.7,232.3M185.3,232.3L188.7,228.9"/><path d="M180.0,246.4L183.4,249.8M180.0,249.8L183.4,246.4"/><path d="M163.6,233.8L167.0,237.2M163.6,237.2L167.0,233.8"/><path d="M203.4,244.2L206.8,247.6M203.4,247.6L206.8,244.2"/><path d="M188.4,244.3L191.8,247.7M188.4,247.7L191.8,244.3"/><path d="M190.8,229.5L194.2,232.9M190.8,232.9L194.2,229.5"/><path d="M164.8,233.5L168.2,236.9M164.8,236.9L168.2,233.5"/><path d="M202.1,234.1L205.5,237.5M202.1,237.5L205.5,234.1"/><path d="M174.8,232.5L178.2,235.9M174.8,235.9L178.2,232.5"/><path d="M165.3,237.4L168.7,240.8M165.3,240.8L168.7,237.4"/><path d="M170.6,241.0L174.0,244.4M170.6,244.4L174.0,241.0"/><path d="M152.9,240.8L156.3,244.2M152.9,244.2L156.3,240.8"/><path d="M178.7,223.7L182.1,227.1M178.7,227.1L182.1,223.7"/><path d="M199.2,236.2L202.6,239.6M199.2,239.6L202.6,236.2"/><path d="M154.8,231.7L158.2,235.1M154.8,235.1L158.2,231.7"/><path d="M192.7,234.9L196.1,238.3M192.7,238.3L196.1,234.9"/><path d="M200.0,243.9L203.4,247.3M200.0,247.3L203.4,243.9"/><path d="M198.3,240.7L201.7,244.1M198.3,244.1L201.7,240.7"/><path d="M208.3,243.2L211.7,246.6M208.3,246.6L211.7,243.2"/><path d="M195.1,222.7L198.5,226.1M195.1,226.1L198.5,222.7"/><path d="M201.7,248.1L205.1,251.5M201.7,251.5L205.1,248.1"/><path d="M183.8,234.8L187.2,238.2M183.8,238.2L187.2,234.8"/><path d="M217.4,225.1L220.8,228.5M217.4,228.5L220.8,225.1"/><path d="M195.3,256.5L198.7,259.9M195.3,259.9L198.7,256.5"/><path d="M174.4,243.5L177.8,246.9M174.4,246.9L177.8,243.5"/><path d="M216.6,237.4L220.0,240.8M216.6,240.8L220.0,237.4"/><path d="M196.7,245.1L200.1,248.5M196.7,248.5L200.1,245.1"/><path d="M174.7,237.6L178.1,241.0M174.7,241.0L178.1,237.6"/><path d="M192.7,244.5L196.1,247.9M192.7,247.9L196.1,244.5"/><path d="M187.8,236.8L191.2,240.2M187.8,240.2L191.2,236.8"/><path d="M173.1,235.6L176.5,239.0M173.1,239.0L176.5,235.6"/><path d="M201.7,239.1L205.1,242.5M201.7,242.5L205.1,239.1"/><path d="M175.5,232.0L178.9,235.4M175.5,235.4L178.9,232.0"/><path d="M228.3,246.8L231.7,250.2M228.3,250.2L231.7,246.8"/><path d="M197.9,218.9L201.3,222.3M197.9,222.3L201.3,218.9"/><path d="M197.6,241.9L201.0,245.3M197.6,245.3L201.0,241.9"/><path d="M213.6,241.5L217.0,244.9M213.6,244.9L217.0,241.5"/><path d="M187.3,242.2L190.7,245.6M187.3,245.6L190.7,242.2"/><path d="M159.1,246.0L162.5,249.4M159.1,249.4L162.5,246.0"/><path d="M193.2,233.0L196.6,236.4M193.2,236.4L196.6,233.0"/><path d="M208.2,251.9L211.6,255.3M208.2,255.3L211.6,251.9"/><path d="M167.3,233.3L170.7,236.7M167.3,236.7L170.7,233.3"/><path d="M192.7,239.7L196.1,243.1M192.7,243.1L196.1,239.7"/><path d="M182.3,231.0L185.7,234.4M182.3,234.4L185.7,231.0"/><path d="M220.1,246.1L223.5,249.5M220.1,249.5L223.5,246.1"/><path d="M170.4,228.2L173.8,231.6M170.4,231.6L173.8,228.2"/><path d="M213.8,245.7L217.2,249.1M213.8,249.1L217.2,245.7"/><path d="M215.6,244.4L219.0,247.8M215.6,247.8L219.0,244.4"/><path d="M175.2,240.3L178.6,243.7M175.2,243.7L178.6,240.3"/><path d="M155.9,232.7L159.3,236.1M155.9,236.1L159.3,232.7"/><path d="M187.4,242.2L190.8,245.6M187.4,245.6L190.8,242.2"/><path d="M177.4,237.4L180.8,240.8M177.4,240.8L180.8,237.4"/><path d="M195.2,241.1L198.6,244.5M195.2,244.5L198.6,241.1"/><path d="M197.9,239.9L201.3,243.3M197.9,243.3L201.3,239.9"/><path d="M183.4,244.2L186.8,247.6M183.4,247.6L186.8,244.2"/><path d="M189.0,232.1L192.4,235.5M189.0,235.5L192.4,232.1"/><path d="M178.9,238.3L182.3,241.7M178.9,241.7L182.3,238.3"/><path d="M186.7,239.5L190.1,242.9M186.7,242.9L190.1,239.5"/><path d="M188.3,239.6L191.7,243.0M188.3,243.0L191.7,239.6"/><path d="M186.3,228.9L189.7,232.3M186.3,232.3L189.7,228.9"/><path d="M194.6,246.2L198.0,249.6M194.6,249.6L198.0,246.2"/><path d="M194.8,236.9L198.2,240.3M194.8,240.3L198.2,236.9"/><path d="M195.0,231.1L198.4,234.5M195.0,234.5L198.4,231.1"/><path d="M159.9,238.7L163.3,242.1M159.9,242.1L163.3,238.7"/><path d="M174.3,243.8L177.7,247.2M174.3,247.2L177.7,243.8"/><path d="M172.0,218.6L175.4,222.0M172.0,222.0L175.4,218.6"/><path d="M172.7,250.1L176.1,253.5M172.7,253.5L176.1,250.1"/><path d="M182.6,228.0L186.0,231.4M182.6,231.4L186.0,228.0"/><path d="M176.8,242.2L180.2,245.6M176.8,245.6L180.2,242.2"/><path d="M195.8,239.6L199.2,243.0M195.8,243.0L199.2,239.6"/><path d="M210.6,243.6L214.0,247.0M210.6,247.0L214.0,243.6"/><path d="M188.0,242.8L191.4,246.2M188.0,246.2L191.4,242.8"/><path d="M213.1,245.6L216.5,249.0M213.1,249.0L216.5,245.6"/><path d="M203.7,230.2L207.1,233.6M203.7,233.6L207.1,230.2"/><path d="M186.1,243.8L189.5,247.2M186.1,247.2L189.5,243.8"/><path d="M183.9,246.3L187.3,249.7M183.9,249.7L187.3,246.3"/><path d="M197.2,245.1L200.6,248.5M197.2,248.5L200.6,245.1"/><path d="M185.1,257.4L188.5,260.8M185.1,260.8L188.5,257.4"/><path d="M206.9,236.7L210.3,240.1M206.9,240.1L210.3,236.7"/><path d="M189.7,257.8L193.1,261.2M189.7,261.2L193.1,257.8"/><path d="M183.2,244.9L186.6,248.3M183.2,248.3L186.6,244.9"/><path d="M203.0,238.3L206.4,241.7M203.0,241.7L206.4,238.3"/><path d="M170.8,239.7L174.2,243.1M170.8,243.1L174.2,239.7"/><path d="M193.7,246.8L197.1,250.2M193.7,250.2L197.1,246.8"/><path d="M200.0,238.5L203.4,241.9M200.0,241.9L203.4,238.5"/><path d="M201.1,242.3L204.5,245.7M201.1,245.7L204.5,242.3"/><path d="M191.4,238.7L194.8,242.1M191.4,242.1L194.8,238.7"/><path d="M184.6,243.4L188.0,246.8M184.6,246.8L188.0,243.4"/><path d="M172.5,233.6L175.9,237.0M172.5,237.0L175.9,233.6"/><path d="M188.4,227.3L191.8,230.7M188.4,230.7L191.8,227.3"/><path d="M181.8,223.2L185.2,226.6M181.8,226.6L185.2,223.2"/><path d="M178.1,242.6L181.5,246.0M178.1,246.0L181.5,242.6"/><path d="M196.8,237.9L200.2,241.3M196.8,241.3L200.2,237.9"/><path d="M184.8,227.7L188.2,231.1M184.8,231.1L188.2,227.7"/><path d="M215.7,242.2L219.1,245.6M215.7,245.6L219.1,242.2"/><path d="M204.7,231.7L208.1,235.1M204.7,235.1L208.1,231.7"/><path d="M185.5,224.7L188.9,228.1M185.5,228.1L188.9,224.7"/><path d="M200.0,245.3L203.4,248.7M200.0,248.7L203.4,245.3"/><path d="M159.8,237.9L163.2,241.3M159.8,241.3L163.2,237.9"/><path d="M197.8,225.1L201.2,228.5M197.8,228.5L201.2,225.1"/><path d="M160.9,230.3L164.3,233.7M160.9,233.7L164.3,230.3"/><path d="M178.9,227.8L182.3,231.2M178.9,231.2L182.3,227.8"/><path d="M188.8,240.2L192.2,243.6M188.8,243.6L192.2,240.2"/><path d="M197.8,243.6L201.2,247.0M197.8,247.0L201.2,243.6"/><path d="M210.8,247.0L214.2,250.4M210.8,250.4L214.2,247.0"/><path d="M168.6,234.5L172.0,237.9M168.6,237.9L172.0,234.5"/><path d="M172.4,230.2L175.8,233.6M172.4,233.6L175.8,230.2"/><path d="M187.1,238.3L190.5,241.7M187.1,241.7L190.5,238.3"/><path d="M195.7,226.4L199.1,229.8M195.7,229.8L199.1,226.4"/><path d="M169.7,238.1L173.1,241.5M169.7,241.5L173.1,238.1"/><path d="M185.3,236.0L188.7,239.4M185.3,239.4L188.7,236.0"/><path d="M187.4,232.6L190.8,236.0M187.4,236.0L190.8,232.6"/><path d="M198.8,241.0L202.2,244.4M198.8,244.4L202.2,241.0"/><path d="M187.0,233.3L190.4,236.7M187.0,236.7L190.4,233.3"/><path d="M185.7,217.9L189.1,221.3M185.7,221.3L189.1,217.9"/><path d="M173.6,238.6L177.0,242.0M173.6,242.0L177.0,238.6"/><path d="M165.7,239.8L169.1,243.2M165.7,243.2L169.1,239.8"/><path d="M190.5,228.0L193.9,231.4M190.5,231.4L193.9,228.0"/><path d="M184.5,235.9L187.9,239.3M184.5,239.3L187.9,235.9"/><path d="M195.2,242.9L198.6,246.3M195.2,246.3L198.6,242.9"/><path d="M187.8,231.9L191.2,235.3M187.8,235.3L191.2,231.9"/><path d="M186.1,237.8L189.5,241.2M186.1,241.2L189.5,237.8"/><path d="M199.3,240.5L202.7,243.9M199.3,243.9L202.7,240.5"/><path d="M177.5,228.1L180.9,231.5M177.5,231.5L180.9,228.1"/><path d="M182.7,232.7L186.1,236.1M182.7,236.1L186.1,232.7"/><path d="M171.6,237.4L175.0,240.8M171.6,240.8L175.0,237.4"/><path d="M180.9,239.1L184.3,242.5M180.9,242.5L184.3,239.1"/><path d="M196.1,235.2L199.5,238.6M196.1,238.6L199.5,235.2"/><path d="M223.2,235.9L226.6,239.3M223.2,239.3L226.6,235.9"/><path d="M204.8,239.2L208.2,242.6M204.8,242.6L208.2,239.2"/><path d="M205.0,220.5L208.4,223.9M205.0,223.9L208.4,220.5"/><path d="M177.0,240.2L180.4,243.6M177.0,243.6L180.4,240.2"/><path d="M197.3,255.8L200.7,259.2M197.3,259.2L200.7,255.8"/><path d="M193.1,247.9L196.5,251.3M193.1,251.3L196.5,247.9"/><path d="M199.8,245.4L203.2,248.8M199.8,248.8L203.2,245.4"/><path d="M196.0,237.1L199.4,240.5M196.0,240.5L199.4,237.1"/><path d="M195.9,230.2L199.3,233.6M195.9,233.6L199.3,230.2"/><path d="M206.0,230.7L209.4,234.1M206.0,234.1L209.4,230.7"/><path d="M192.0,254.2L195.4,257.6M192.0,257.6L195.4,254.2"/><path d="M184.9,238.4L188.3,241.8M184.9,241.8L188.3,238.4"/><path d="M205.7,238.5L209.1,241.9M205.7,241.9L209.1,238.5"/><path d="M176.2,240.2L179.6,243.6M176.2,243.6L179.6,240.2"/><path d="M197.0,243.6L200.4,247.0M197.0,247.0L200.4,243.6"/><path d="M176.7,251.4L180.1,254.8M176.7,254.8L180.1,251.4"/><path d="M213.3,238.4L216.7,241.8M213.3,241.8L216.7,238.4"/><path d="M192.3,235.1L195.7,238.5M192.3,238.5L195.7,235.1"/><path d="M209.5,233.0L212.9,236.4M209.5,236.4L212.9,233.0"/><path d="M198.4,234.7L201.8,238.1M198.4,238.1L201.8,234.7"/><path d="M177.9,243.7L181.3,247.1M177.9,247.1L181.3,243.7"/><path d="M208.3,238.2L211.7,241.6M208.3,241.6L211.7,238.2"/><path d="M178.1,244.4L181.5,247.8M178.1,247.8L181.5,244.4"/><path d="M187.6,240.6L191.0,244.0M187.6,244.0L191.0,240.6"/><path d="M211.1,246.8L214.5,250.2M211.1,250.2L214.5,246.8"/><path d="M180.5,255.4L183.9,258.8M180.5,258.8L183.9,255.4"/><path d="M188.4,244.2L191.8,247.6M188.4,247.6L191.8,244.2"/><path d="M178.6,238.0L182.0,241.4M178.6,241.4L182.0,238.0"/><path d="M162.1,251.7L165.5,255.1M162.1,255.1L165.5,251.7"/><path d="M208.8,229.2L212.2,232.6M208.8,232.6L212.2,229.2"/><path d="M165.7,226.1L169.1,229.5M165.7,229.5L169.1,226.1"/><path d="M205.9,234.9L209.3,238.3M205.9,238.3L209.3,234.9"/><path d="M187.4,236.0L190.8,239.4M187.4,239.4L190.8,236.0"/><path d="M186.5,230.1L189.9,233.5M186.5,233.5L189.9,230.1"/><path d="M188.7,227.5L192.1,230.9M188.7,230.9L192.1,227.5"/><path d="M187.2,240.6L190.6,244.0M187.2,244.0L190.6,240.6"/><path d="M195.3,236.6L198.7,240.0M195.3,240.0L198.7,236.6"/><path d="M174.7,239.5L178.1,242.9M174.7,242.9L178.1,239.5"/><path d="M181.0,250.0L184.4,253.4M181.0,253.4L184.4,250.0"/><path d="M199.8,237.4L203.2,240.8M199.8,240.8L203.2,237.4"/><path d="M181.2,233.0L184.6,236.4M181.2,236.4L184.6,233.0"/><path d="M174.2,235.7L177.6,239.1M174.2,239.1L177.6,235.7"/><path d="M222.2,250.5L225.6,253.9M222.2,253.9L225.6,250.5"/><path d="M261.3,251.8L264.7,255.2M261.3,255.2L264.7,251.8"/><path d="M239.6,250.7L243.0,254.1M239.6,254.1L243.0,250.7"/><path d="M266.1,261.1L269.5,264.5M266.1,264.5L269.5,261.1"/><path d="M237.1,250.8L240.5,254.2M237.1,254.2L240.5,250.8"/><path d="M218.1,251.3L221.5,254.7M218.1,254.7L221.5,251.3"/><path d="M231.4,252.0L234.8,255.4M231.4,255.4L234.8,252.0"/><path d="M227.0,250.7L230.4,254.1M227.0,254.1L230.4,250.7"/><path d="M243.5,255.9L246.9,259.3M243.5,259.3L246.9,255.9"/><path d="M235.2,241.8L238.6,245.2M235.2,245.2L238.6,241.8"/><path d="M235.2,242.5L238.6,245.9M235.2,245.9L238.6,242.5"/><path d="M231.2,247.4L234.6,250.8M231.2,250.8L234.6,247.4"/><path d="M216.6,245.6L220.0,249.0M216.6,249.0L220.0,245.6"/><path d="M220.0,263.8L223.4,267.2M220.0,267.2L223.4,263.8"/><path d="M240.0,240.1L243.4,243.5M240.0,243.5L243.4,240.1"/><path d="M224.7,239.6L228.1,243.0M224.7,243.0L228.1,239.6"/><path d="M227.7,248.4L231.1,251.8M227.7,251.8L231.1,248.4"/><path d="M236.9,254.4L240.3,257.8M236.9,257.8L240.3,254.4"/><path d="M263.9,255.4L267.3,258.8M263.9,258.8L267.3,255.4"/><path d="M214.5,238.4L217.9,241.8M214.5,241.8L217.9,238.4"/><path d="M215.0,245.1L218.4,248.5M215.0,248.5L218.4,245.1"/><path d="M238.4,236.0L241.8,239.4M238.4,239.4L241.8,236.0"/><path d="M244.4,254.3L247.8,257.7M244.4,257.7L247.8,254.3"/><path d="M262.4,248.3L265.8,251.7M262.4,251.7L265.8,248.3"/><path d="M257.1,258.2L260.5,261.6M257.1,261.6L260.5,258.2"/><path d="M226.5,235.6L229.9,239.0M226.5,239.0L229.9,235.6"/><path d="M219.1,252.4L222.5,255.8M219.1,255.8L222.5,252.4"/><path d="M249.4,254.3L252.8,257.7M249.4,257.7L252.8,254.3"/><path d="M263.2,246.8L266.6,250.2M263.2,250.2L266.6,246.8"/><path d="M253.8,239.8L257.2,243.2M253.8,243.2L257.2,239.8"/><path d="M237.5,246.7L240.9,250.1M237.5,250.1L240.9,246.7"/><path d="M254.8,247.8L258.2,251.2M254.8,251.2L258.2,247.8"/><path d="M225.6,255.9L229.0,259.3M225.6,259.3L229.0,255.9"/><path d="M229.4,244.1L232.8,247.5M229.4,247.5L232.8,244.1"/><path d="M220.1,248.2L223.5,251.6M220.1,251.6L223.5,248.2"/><path d="M250.3,256.8L253.7,260.2M250.3,260.2L253.7,256.8"/><path d="M219.2,254.9L222.6,258.3M219.2,258.3L222.6,254.9"/><path d="M244.2,251.4L247.6,254.8M244.2,254.8L247.6,251.4"/><path d="M233.9,249.6L237.3,253.0M233.9,253.0L237.3,249.6"/><path d="M213.9,256.3L217.3,259.7M213.9,259.7L217.3,256.3"/><path d="M169.8,239.1L173.2,242.5M169.8,242.5L173.2,239.1"/><path d="M211.7,217.8L215.1,221.2M211.7,221.2L215.1,217.8"/><path d="M198.6,211.9L202.0,215.3M198.6,215.3L202.0,211.9"/><path d="M180.0,234.5L183.4,237.9M180.0,237.9L183.4,234.5"/><path d="M214.6,217.6L218.0,221.0M214.6,221.0L218.0,217.6"/><path d="M176.5,226.2L179.9,229.6M176.5,229.6L179.9,226.2"/><path d="M142.3,223.5L145.7,226.9M142.3,226.9L145.7,223.5"/><path d="M162.1,228.9L165.5,232.3M162.1,232.3L165.5,228.9"/><path d="M151.2,193.6L154.6,197.0M151.2,197.0L154.6,193.6"/><path d="M179.2,227.2L182.6,230.6M179.2,230.6L182.6,227.2"/><path d="M165.1,236.6L168.5,240.0M165.1,240.0L168.5,236.6"/><path d="M171.7,214.2L175.1,217.6M171.7,217.6L175.1,214.2"/><path d="M189.8,199.8L193.2,203.2M189.8,203.2L193.2,199.8"/><path d="M162.0,223.0L165.4,226.4M162.0,226.4L165.4,223.0"/><path d="M198.7,220.9L202.1,224.3M198.7,224.3L202.1,220.9"/><path d="M185.7,213.5L189.1,216.9M185.7,216.9L189.1,213.5"/><path d="M185.5,248.3L188.9,251.7M185.5,251.7L188.9,248.3"/><path d="M161.8,258.8L165.2,262.2M161.8,262.2L165.2,258.8"/><path d="M162.8,223.6L166.2,227.0M162.8,227.0L166.2,223.6"/><path d="M182.5,238.7L185.9,242.1M182.5,242.1L185.9,238.7"/><path d="M192.8,235.2L196.2,238.6M192.8,238.6L196.2,235.2"/><path d="M183.2,227.1L186.6,230.5M183.2,230.5L186.6,227.1"/><path d="M200.6,228.8L204.0,232.2M200.6,232.2L204.0,228.8"/><path d="M218.2,204.7L221.6,208.1M218.2,208.1L221.6,204.7"/><path d="M197.8,217.7L201.2,221.1M197.8,221.1L201.2,217.7"/><path d="M200.5,255.6L203.9,259.0M200.5,259.0L203.9,255.6"/><path d="M178.2,219.5L181.6,222.9M178.2,222.9L181.6,219.5"/><path d="M166.3,210.7L169.7,214.1M166.3,214.1L169.7,210.7"/><path d="M163.2,232.9L166.6,236.3M163.2,236.3L166.6,232.9"/><path d="M179.2,224.3L182.6,227.7M179.2,227.7L182.6,224.3"/><path d="M174.1,237.0L177.5,240.4M174.1,240.4L177.5,237.0"/><path d="M190.2,221.2L193.6,224.6M190.2,224.6L193.6,221.2"/><path d="M194.3,221.0L197.7,224.4M194.3,224.4L197.7,221.0"/><path d="M150.6,245.1L154.0,248.5M150.6,248.5L154.0,245.1"/><path d="M189.5,208.9L192.9,212.3M189.5,212.3L192.9,208.9"/><path d="M204.2,228.5L207.6,231.9M204.2,231.9L207.6,228.5"/><path d="M140.8,247.4L144.2,250.8M140.8,250.8L144.2,247.4"/><path d="M186.3,236.7L189.7,240.1M186.3,240.1L189.7,236.7"/><path d="M183.0,221.1L186.4,224.5M183.0,224.5L186.4,221.1"/><path d="M141.1,237.9L144.5,241.3M141.1,241.3L144.5,237.9"/><path d="M179.0,219.0L182.4,222.4M179.0,222.4L182.4,219.0"/><path d="M186.7,224.5L190.1,227.9M186.7,227.9L190.1,224.5"/><path d="M194.5,217.7L197.9,221.1M194.5,221.1L197.9,217.7"/><path d="M168.1,233.4L171.5,236.8M168.1,236.8L171.5,233.4"/><path d="M210.4,217.8L213.8,221.2M210.4,221.2L213.8,217.8"/><path d="M175.4,247.1L178.8,250.5M175.4,250.5L178.8,247.1"/><path d="M170.5,234.3L173.9,237.7M170.5,237.7L173.9,234.3"/><path d="M218.6,223.9L222.0,227.3M218.6,227.3L222.0,223.9"/><path d="M207.7,212.6L211.1,216.0M207.7,216.0L211.1,212.6"/><path d="M183.3,222.1L186.7,225.5M183.3,225.5L186.7,222.1"/><path d="M181.1,240.2L184.5,243.6M181.1,243.6L184.5,240.2"/><path d="M164.5,230.8L167.9,234.2M164.5,234.2L167.9,230.8"/><path d="M153.0,230.8L156.4,234.2M153.0,234.2L156.4,230.8"/><path d="M192.0,219.1L195.4,222.5M192.0,222.5L195.4,219.1"/><path d="M191.0,200.1L194.4,203.5M191.0,203.5L194.4,200.1"/><path d="M196.5,200.1L199.9,203.5M196.5,203.5L199.9,200.1"/><path d="M161.6,215.0L165.0,218.4M161.6,218.4L165.0,215.0"/><path d="M168.7,236.2L172.1,239.6M168.7,239.6L172.1,236.2"/><path d="M180.3,217.3L183.7,220.7M180.3,220.7L183.7,217.3"/><path d="M191.3,247.0L194.7,250.4M191.3,250.4L194.7,247.0"/><path d="M178.4,228.8L181.8,232.2M178.4,232.2L181.8,228.8"/><path d="M208.1,227.3L211.5,230.7M208.1,230.7L211.5,227.3"/><path d="M231.3,193.5L234.7,196.9M231.3,196.9L234.7,193.5"/><path d="M177.4,229.6L180.8,233.0M177.4,233.0L180.8,229.6"/><path d="M132.7,189.6L136.1,193.0M132.7,193.0L136.1,189.6"/><path d="M131.1,203.5L134.5,206.9M131.1,206.9L134.5,203.5"/><path d="M132.8,188.8L136.2,192.2M132.8,192.2L136.2,188.8"/><path d="M153.8,258.8L157.2,262.2M153.8,262.2L157.2,258.8"/><path d="M160.8,253.6L164.2,257.0M160.8,257.0L164.2,253.6"/><path d="M236.1,213.3L239.5,216.7M236.1,216.7L239.5,213.3"/><path d="M255.3,197.5L258.7,200.9M255.3,200.9L258.7,197.5"/><path d="M269.3,262.3L272.7,265.7M269.3,265.7L272.7,262.3"/><path d="M253.6,225.6L257.0,229.0M253.6,229.0L257.0,225.6"/><path d="M82.3,266.3L85.7,269.7M82.3,269.7L85.7,266.3"/><path d="M140.3,216.3L143.7,219.7M140.3,219.7L143.7,216.3"/><path d="M144.3,224.3L147.7,227.7M144.3,227.7L147.7,224.3"/><path d="M142.3,210.3L145.7,213.7M142.3,213.7L145.7,210.3"/></g>
<ellipse cx="157.5" cy="132.5" rx="5.5" ry="3.6" transform="rotate(-30 157.5 132.5)" fill="#1a9ad6" stroke="#0d5c86" stroke-width="0.4"/>
<ellipse cx="154.6" cy="156.8" rx="10.8" ry="3.8" transform="rotate(37 154.6 156.8)" fill="#e0242a"/>
<path d="M101.4,82.4 L105.0,86.0 L101.4,89.6 L97.8,86.0Z" fill="#fff" stroke="#000" stroke-width="1.4" stroke-linejoin="miter"/>
<path d="M128.2,92.2 L131.8,95.8 L128.2,99.4 L124.6,95.8Z" fill="#fff" stroke="#000" stroke-width="1.4" stroke-linejoin="miter"/>
<path d="M141.1,88.2 L144.7,91.8 L141.1,95.4 L137.5,91.8Z" fill="#fff" stroke="#000" stroke-width="1.4" stroke-linejoin="miter"/>
<path d="M127.2,97.6 L130.8,101.2 L127.2,104.8 L123.6,101.2Z" fill="#fff" stroke="#000" stroke-width="1.4" stroke-linejoin="miter"/>
<path d="M125.1,103.4 L128.7,107.0 L125.1,110.6 L121.5,107.0Z" fill="#fff" stroke="#000" stroke-width="1.4" stroke-linejoin="miter"/>
<path d="M138.7,102.9 L142.3,106.5 L138.7,110.1 L135.1,106.5Z" fill="#fff" stroke="#000" stroke-width="1.4" stroke-linejoin="miter"/>
<path d="M135.1,106.5 L138.7,110.1 L135.1,113.7 L131.5,110.1Z" fill="#fff" stroke="#000" stroke-width="1.4" stroke-linejoin="miter"/>
<path d="M112.9,119.0 L116.5,122.6 L112.9,126.2 L109.3,122.6Z" fill="#fff" stroke="#000" stroke-width="1.4" stroke-linejoin="miter"/>
<path d="M133.4,126.5 L137.0,130.1 L133.4,133.7 L129.8,130.1Z" fill="#fff" stroke="#000" stroke-width="1.4" stroke-linejoin="miter"/>
<path d="M168.6,114.7 L172.2,118.3 L168.6,121.9 L165.0,118.3Z" fill="#fff" stroke="#000" stroke-width="1.4" stroke-linejoin="miter"/>
<path d="M161.5,130.5 L165.1,134.1 L161.5,137.7 L157.9,134.1Z" fill="#fff" stroke="#000" stroke-width="1.4" stroke-linejoin="miter"/>
<path d="M174.6,135.0 L178.2,138.6 L174.6,142.2 L171.0,138.6Z" fill="#fff" stroke="#000" stroke-width="1.4" stroke-linejoin="miter"/>
<path d="M189.8,132.5 L193.4,136.1 L189.8,139.7 L186.2,136.1Z" fill="#fff" stroke="#000" stroke-width="1.4" stroke-linejoin="miter"/>
<path d="M212.2,165.7 L215.8,169.3 L212.2,172.9 L208.6,169.3Z" fill="#fff" stroke="#000" stroke-width="1.4" stroke-linejoin="miter"/>
<path d="M219.0,177.2 L222.6,180.8 L219.0,184.4 L215.4,180.8Z" fill="#fff" stroke="#000" stroke-width="1.4" stroke-linejoin="miter"/>
<path d="M224.7,178.6 L228.3,182.2 L224.7,185.8 L221.1,182.2Z" fill="#fff" stroke="#000" stroke-width="1.4" stroke-linejoin="miter"/>
<path d="M195.5,187.9 L199.1,191.5 L195.5,195.1 L191.9,191.5Z" fill="#fff" stroke="#000" stroke-width="1.4" stroke-linejoin="miter"/>
<path d="M213.0,192.2 L216.6,195.8 L213.0,199.4 L209.4,195.8Z" fill="#fff" stroke="#000" stroke-width="1.4" stroke-linejoin="miter"/>
<path d="M180.4,155.7 L184.0,159.3 L180.4,162.9 L176.8,159.3Z" fill="#fff" stroke="#000" stroke-width="1.4" stroke-linejoin="miter"/>
<path d="M176.5,158.6 L180.1,162.2 L176.5,165.8 L172.9,162.2Z" fill="#fff" stroke="#000" stroke-width="1.4" stroke-linejoin="miter"/>
<path d="M169.4,169.3 L173.0,172.9 L169.4,176.5 L165.8,172.9Z" fill="#fff" stroke="#000" stroke-width="1.4" stroke-linejoin="miter"/>
<path d="M145.0,189.7 L148.6,193.3 L145.0,196.9 L141.4,193.3Z" fill="#fff" stroke="#000" stroke-width="1.4" stroke-linejoin="miter"/>
<path d="M160.8,192.6 L164.4,196.2 L160.8,199.8 L157.2,196.2Z" fill="#fff" stroke="#000" stroke-width="1.4" stroke-linejoin="miter"/>
<circle cx="198.2" cy="133.6" r="3.2" fill="#000" stroke="#d9a21c" stroke-width="1"/>
<circle cx="208" cy="135.3" r="3.2" fill="#000" stroke="#d9a21c" stroke-width="1"/>
<circle cx="179.8" cy="147.5" r="4.7" fill="#f2d61c" stroke="#e08a1c" stroke-width="0.8"/>
<line x1="38.2" y1="63.2" x2="130.5" y2="63.2" stroke="#444" stroke-width="1"/>
<line x1="84.5" y1="25" x2="84.5" y2="99.7" stroke="#444" stroke-width="1"/>
<text x="102.5" y="59.3" style="font-family:'Liberation Serif',serif;font-size:11.2px" fill="#222">WD Unc.</text>
<line x1="182" y1="119" x2="269" y2="176.5" stroke="#222" stroke-width="0.8"/>
<path d="M179.2,117.1 L184.4,118.6 L182.6,121.3 Z" fill="#111"/>
<line x1="228" y1="200.7" x2="270.5" y2="215.3" stroke="#222" stroke-width="0.8"/>
<path d="M224.5,199.2 L230.0,199.4 L228.9,202.5 Z" fill="#111"/>
<text x="272" y="183.8" textLength="50.4" lengthAdjust="spacingAndGlyphs" style="font-family:'Liberation Sans',sans-serif;font-size:10.8px" fill="#222">Peridotites</text>
<text x="274.2" y="224.6" textLength="54.2" lengthAdjust="spacingAndGlyphs" style="font-family:'Liberation Sans',sans-serif;font-size:10.8px" fill="#222">Pyroxenites</text>
<rect x="212.4" y="24.5" width="121.6" height="104.3" fill="#fff" stroke="#555" stroke-width="1"/>
<text x="232" y="35.2" style="font-family:'Liberation Serif',serif;font-size:11.2px" fill="#222">Hypatia FGM</text>
<text x="232" y="47.7" style="font-family:'Liberation Serif',serif;font-size:11.2px" fill="#222">White Dwarfs</text>
<text x="232" y="60.1" style="font-family:'Liberation Serif',serif;font-size:11.2px" fill="#222">Lunar Rocks</text>
<text x="232" y="72.5" style="font-family:'Liberation Serif',serif;font-size:11.2px" fill="#222">Martian Rocks</text>
<text x="232" y="85.3" style="font-family:'Liberation Serif',serif;font-size:11.2px" fill="#222">Bulk Silicate Earth</text>
<text x="232" y="98.0" style="font-family:'Liberation Serif',serif;font-size:11.2px" fill="#222">Bulk Silicate Mars</text>
<text x="232" y="111.0" style="font-family:'Liberation Serif',serif;font-size:11.2px" fill="#222">Bulk Silicate Mercury</text>
<text x="232" y="123.8" style="font-family:'Liberation Serif',serif;font-size:11.2px" fill="#222">BSP - Sol</text>
<circle cx="222" cy="31.5" r="1.3" fill="#fff" stroke="#aaa" stroke-width="0.5"/>
<path d="M222.0,40.2 L225.6,43.8 L222.0,47.4 L218.4,43.8Z" fill="#fff" stroke="#000" stroke-width="1.5" stroke-linejoin="miter"/>
<g stroke="#86c440" stroke-width="0.9"><path d="M220.4,54.7L223.6,57.9M220.4,57.9L223.6,54.7"/></g>
<g stroke="#c8643c" stroke-width="0.9"><path d="M220.4,68.6H223.6M222.0,67.0V70.2"/></g>
<ellipse cx="222" cy="84" rx="8" ry="4.6" transform="rotate(-28 222 84)" fill="#1a9ad6" stroke="#0d4f70" stroke-width="0.6"/>
<ellipse cx="222" cy="95.6" rx="8" ry="4.6" transform="rotate(-28 222 95.6)" fill="#e0242a" stroke="#7a1010" stroke-width="0.6"/>
<circle cx="221.8" cy="108.8" r="3.7" fill="#000" stroke="#d9a21c" stroke-width="1.1"/>
<circle cx="221.8" cy="121.6" r="5.4" fill="#f2d61c" stroke="#e08a1c" stroke-width="0.9"/>
<line x1="34" y1="24.5" x2="334" y2="24.5" stroke="#333" stroke-width="1.1"/>
<line x1="34.2" y1="24" x2="34.2" y2="281.5" stroke="#bbb" stroke-width="1.1"/>
<line x1="334" y1="24" x2="334" y2="281.5" stroke="#999" stroke-width="1.1"/>
<line x1="34" y1="281" x2="334.5" y2="281" stroke="#888" stroke-width="1.1"/>
<line x1="34.0" y1="281" x2="34.0" y2="278.5" stroke="#888" stroke-width="0.8"/>
<text x="34.0" y="293.8" text-anchor="middle" style="font-family:'Liberation Serif',serif;font-size:11.4px" fill="#333">20</text>
<line x1="80.1" y1="281" x2="80.1" y2="278.5" stroke="#888" stroke-width="0.8"/>
<text x="80.1" y="293.8" text-anchor="middle" style="font-family:'Liberation Serif',serif;font-size:11.4px" fill="#333">30</text>
<line x1="126.3" y1="281" x2="126.3" y2="278.5" stroke="#888" stroke-width="0.8"/>
<text x="126.3" y="293.8" text-anchor="middle" style="font-family:'Liberation Serif',serif;font-size:11.4px" fill="#333">40</text>
<line x1="172.4" y1="281" x2="172.4" y2="278.5" stroke="#888" stroke-width="0.8"/>
<text x="172.4" y="293.8" text-anchor="middle" style="font-family:'Liberation Serif',serif;font-size:11.4px" fill="#333">50</text>
<line x1="218.5" y1="281" x2="218.5" y2="278.5" stroke="#888" stroke-width="0.8"/>
<text x="218.5" y="293.8" text-anchor="middle" style="font-family:'Liberation Serif',serif;font-size:11.4px" fill="#333">60</text>
<line x1="264.7" y1="281" x2="264.7" y2="278.5" stroke="#888" stroke-width="0.8"/>
<text x="264.7" y="293.8" text-anchor="middle" style="font-family:'Liberation Serif',serif;font-size:11.4px" fill="#333">70</text>
<line x1="310.8" y1="281" x2="310.8" y2="278.5" stroke="#888" stroke-width="0.8"/>
<text x="310.8" y="293.8" text-anchor="middle" style="font-family:'Liberation Serif',serif;font-size:11.4px" fill="#333">80</text>
<line x1="34" y1="281.0" x2="36.5" y2="281.0" stroke="#888" stroke-width="0.8"/>
<text x="27" y="284.3" text-anchor="end" style="font-family:'Liberation Serif',serif;font-size:11.4px" fill="#333">0</text>
<line x1="34" y1="244.4" x2="36.5" y2="244.4" stroke="#888" stroke-width="0.8"/>
<text x="27" y="247.7" text-anchor="end" style="font-family:'Liberation Serif',serif;font-size:11.4px" fill="#333">10</text>
<line x1="34" y1="207.7" x2="36.5" y2="207.7" stroke="#888" stroke-width="0.8"/>
<text x="27" y="211.0" text-anchor="end" style="font-family:'Liberation Serif',serif;font-size:11.4px" fill="#333">20</text>
<line x1="34" y1="171.1" x2="36.5" y2="171.1" stroke="#888" stroke-width="0.8"/>
<text x="27" y="174.4" text-anchor="end" style="font-family:'Liberation Serif',serif;font-size:11.4px" fill="#333">30</text>
<line x1="34" y1="134.4" x2="36.5" y2="134.4" stroke="#888" stroke-width="0.8"/>
<text x="27" y="137.7" text-anchor="end" style="font-family:'Liberation Serif',serif;font-size:11.4px" fill="#333">40</text>
<line x1="34" y1="97.8" x2="36.5" y2="97.8" stroke="#888" stroke-width="0.8"/>
<text x="27" y="101.1" text-anchor="end" style="font-family:'Liberation Serif',serif;font-size:11.4px" fill="#333">50</text>
<line x1="34" y1="61.2" x2="36.5" y2="61.2" stroke="#888" stroke-width="0.8"/>
<text x="27" y="64.5" text-anchor="end" style="font-family:'Liberation Serif',serif;font-size:11.4px" fill="#333">60</text>
<line x1="34" y1="24.5" x2="36.5" y2="24.5" stroke="#888" stroke-width="0.8"/>
<text x="27" y="27.8" text-anchor="end" style="font-family:'Liberation Serif',serif;font-size:11.4px" fill="#333">70</text>
<text x="121.5" y="310.5" style="font-family:'Liberation Serif',serif;font-size:15px" fill="#1a1a1a">SiO<tspan dx="0.6" dy="3.6" style="font-size:12px">2</tspan><tspan dx="-1.6" dy="-3.6"> BSP (wt. %)</tspan></text>
<text transform="translate(10.5,204.8) rotate(-90)" style="font-family:'Liberation Serif',serif;font-size:15px" fill="#1a1a1a">MgO BSP (wt %)</text>
<text x="34.6" y="17.7" textLength="10" lengthAdjust="spacingAndGlyphs" style="font-family:'Liberation Sans',sans-serif;font-size:20.5px" fill="#222">a</text>
<path d="M559.3,24.4 C562.9,24.3 575.6,24.0 580.5,24.3 C585.4,24.6 598.1,25.8 601.6,26.8 C605.1,27.8 608.9,31.3 610.7,33.1 C612.5,34.9 615.5,39.4 616.7,42.2 C617.9,45.0 620.4,53.4 621.3,57.3 C622.2,61.2 623.7,71.3 624.3,75.5 C624.9,79.7 625.9,89.8 626.4,93.6 C626.9,97.4 628.4,105.5 629.0,108.0 C629.6,110.5 630.8,113.1 631.2,115.0 C631.6,116.9 632.2,122.7 632.6,124.6 C633.0,126.5 633.8,128.8 634.6,131.2 C635.4,133.6 638.2,141.1 639.5,145.0 C640.8,148.9 644.3,159.8 646.0,164.7 C647.7,169.6 652.1,182.2 654.0,187.0 C655.9,191.8 660.5,202.3 662.0,206.2 C663.5,210.0 665.4,216.3 666.7,220.0 C668.0,223.7 671.6,233.9 673.0,238.0 C674.4,242.1 677.7,251.5 679.0,255.0 C680.3,258.5 683.5,265.4 684.5,268.0 C685.5,270.6 690.5,278.6 687.6,277.0 C684.7,275.4 665.9,258.9 660.0,254.0 C654.1,249.1 642.2,239.2 636.9,234.6 C631.6,230.0 619.8,219.3 614.6,214.6 C609.4,209.9 597.5,198.7 592.3,194.5 C587.1,190.3 574.2,182.0 570.0,178.9 C565.8,175.8 559.0,170.3 556.0,168.0 C553.0,165.7 546.4,161.3 544.0,159.0 C541.6,156.7 537.6,151.6 535.5,148.4 C533.4,145.2 527.6,136.5 526.0,132.0 C524.4,127.5 522.0,116.1 521.5,110.0 C521.0,103.9 521.3,85.6 521.5,80.0 C521.7,74.4 522.9,65.0 523.3,62.0 C523.7,59.0 524.2,55.6 524.6,53.9 C525.0,52.2 526.0,48.8 526.5,47.5 C527.0,46.2 528.3,43.6 529.0,42.4 C529.7,41.2 531.9,38.5 532.9,37.3 C533.9,36.1 536.8,33.2 538.0,32.2 C539.2,31.2 541.7,29.2 543.0,28.4 C544.3,27.6 547.5,25.9 549.4,25.4 C551.3,24.9 555.7,24.5 559.3,24.4Z" fill="#ececec" stroke="#cfcfcf" stroke-width="0.6"/>
<path d="M621.4,127.3 C619.4,127.5 614.0,128.0 611.8,129.0 C609.6,130.0 604.2,133.3 602.3,135.5 C600.4,137.7 596.4,144.9 595.3,148.2 C594.2,151.5 592.6,160.7 592.7,164.1 C592.8,167.5 594.5,174.2 596.0,177.0 C597.5,179.8 602.8,185.2 605.5,188.0 C608.2,190.8 615.3,197.6 619.0,201.2 C622.7,204.8 632.7,214.5 636.9,219.0 C641.1,223.5 650.9,235.4 655.0,240.0 C659.1,244.6 668.2,253.7 672.0,258.0 C675.8,262.3 686.1,275.8 687.6,277.0 C689.1,278.2 685.5,270.6 684.5,268.0 C683.5,265.4 680.3,258.5 679.0,255.0 C677.7,251.5 674.4,242.1 673.0,238.0 C671.6,233.9 668.0,223.7 666.7,220.0 C665.4,216.3 663.5,210.0 662.0,206.2 C660.5,202.3 655.9,191.8 654.0,187.0 C652.1,182.2 647.7,169.6 646.0,164.7 C644.3,159.8 640.8,148.9 639.5,145.0 C638.2,141.1 635.8,133.2 634.6,131.2 C633.4,129.2 630.5,128.1 629.0,127.6 C627.5,127.1 623.4,127.1 621.4,127.3Z" fill="#a3a3a3" stroke="#8c8c8c" stroke-width="0.6"/>
<path d="M473.2,43.2 C474.0,41.4 475.6,38.5 476.5,37.0 C477.4,35.5 479.1,33.1 480.2,32.0 C481.3,30.9 483.7,29.2 485.0,28.5 C486.3,27.8 488.7,26.9 490.0,26.4 C491.3,25.9 493.5,25.3 495.0,25.0 C496.5,24.7 498.6,24.4 501.3,24.3 C504.0,24.2 511.0,24.0 515.0,24.0 C519.0,24.0 527.5,24.0 531.5,24.0 C535.5,24.0 542.4,23.9 545.0,24.2 C547.6,24.5 549.2,25.3 550.8,26.4 C552.4,27.5 555.9,30.8 557.1,32.7 C558.3,34.6 559.3,38.0 559.7,40.3 C560.1,42.6 559.6,46.7 560.0,50.0 C560.4,53.3 561.9,61.0 563.0,65.0 C564.1,69.0 566.8,76.3 568.0,80.0 C569.2,83.7 570.9,89.9 572.0,93.0 C573.1,96.1 575.7,100.5 576.5,103.0 C577.3,105.5 578.1,109.7 578.3,112.0 C578.5,114.3 578.5,117.9 578.0,120.0 C577.5,122.1 576.1,125.4 574.5,127.5 C572.9,129.6 568.2,133.6 566.1,135.7 C564.0,137.8 560.4,141.3 558.4,143.3 C556.4,145.3 552.7,149.0 550.8,151.0 C548.9,153.0 545.9,156.6 544.4,158.6 C542.9,160.6 540.7,162.7 539.5,166.0 C538.3,169.3 536.2,177.1 535.5,183.2 C534.8,189.3 534.7,201.0 534.6,211.9 C534.5,222.8 535.1,256.5 535.0,265.0 C534.9,273.5 534.9,274.2 534.0,276.0 C533.1,277.8 532.5,278.3 528.0,278.6 C523.5,278.9 506.5,278.6 500.0,278.6 C493.5,278.6 482.2,280.4 479.0,278.6 C475.8,276.8 476.8,268.7 476.0,265.0 C475.2,261.3 473.7,255.0 473.0,251.0 C472.3,247.0 471.5,239.1 471.0,235.0 C470.5,230.9 469.7,223.9 469.5,220.0 C469.3,216.1 468.9,209.2 469.5,206.0 C470.1,202.8 472.5,198.9 474.0,196.0 C475.5,193.1 479.4,187.5 481.0,184.0 C482.6,180.5 485.1,173.9 486.0,170.0 C486.9,166.1 487.5,158.7 487.5,155.0 C487.5,151.3 486.5,145.1 486.0,142.0 C485.5,138.9 484.7,134.9 484.0,132.0 C483.3,129.1 481.7,122.9 481.0,120.0 C480.3,117.1 479.2,112.7 478.5,110.0 C477.8,107.3 476.4,102.9 475.5,100.0 C474.6,97.1 472.4,91.2 471.5,88.0 C470.6,84.8 469.0,78.7 468.5,76.0 C468.0,73.3 467.8,70.1 467.8,68.0 C467.8,65.9 468.0,62.3 468.3,60.0 C468.6,57.7 469.6,52.7 470.3,50.5 C471.0,48.3 472.4,45.0 473.2,43.2Z" fill="#a9e1cc"/>
<clipPath id="cb"><path d="M473.2,43.2 C474.0,41.4 475.6,38.5 476.5,37.0 C477.4,35.5 479.1,33.1 480.2,32.0 C481.3,30.9 483.7,29.2 485.0,28.5 C486.3,27.8 488.7,26.9 490.0,26.4 C491.3,25.9 493.5,25.3 495.0,25.0 C496.5,24.7 498.6,24.4 501.3,24.3 C504.0,24.2 511.0,24.0 515.0,24.0 C519.0,24.0 527.5,24.0 531.5,24.0 C535.5,24.0 542.4,23.9 545.0,24.2 C547.6,24.5 549.2,25.3 550.8,26.4 C552.4,27.5 555.9,30.8 557.1,32.7 C558.3,34.6 559.3,38.0 559.7,40.3 C560.1,42.6 559.6,46.7 560.0,50.0 C560.4,53.3 561.9,61.0 563.0,65.0 C564.1,69.0 566.8,76.3 568.0,80.0 C569.2,83.7 570.9,89.9 572.0,93.0 C573.1,96.1 575.7,100.5 576.5,103.0 C577.3,105.5 578.1,109.7 578.3,112.0 C578.5,114.3 578.5,117.9 578.0,120.0 C577.5,122.1 576.1,125.4 574.5,127.5 C572.9,129.6 568.2,133.6 566.1,135.7 C564.0,137.8 560.4,141.3 558.4,143.3 C556.4,145.3 552.7,149.0 550.8,151.0 C548.9,153.0 545.9,156.6 544.4,158.6 C542.9,160.6 540.7,162.7 539.5,166.0 C538.3,169.3 536.2,177.1 535.5,183.2 C534.8,189.3 534.7,201.0 534.6,211.9 C534.5,222.8 535.1,256.5 535.0,265.0 C534.9,273.5 534.9,274.2 534.0,276.0 C533.1,277.8 532.5,278.3 528.0,278.6 C523.5,278.9 506.5,278.6 500.0,278.6 C493.5,278.6 482.2,280.4 479.0,278.6 C475.8,276.8 476.8,268.7 476.0,265.0 C475.2,261.3 473.7,255.0 473.0,251.0 C472.3,247.0 471.5,239.1 471.0,235.0 C470.5,230.9 469.7,223.9 469.5,220.0 C469.3,216.1 468.9,209.2 469.5,206.0 C470.1,202.8 472.5,198.9 474.0,196.0 C475.5,193.1 479.4,187.5 481.0,184.0 C482.6,180.5 485.1,173.9 486.0,170.0 C486.9,166.1 487.5,158.7 487.5,155.0 C487.5,151.3 486.5,145.1 486.0,142.0 C485.5,138.9 484.7,134.9 484.0,132.0 C483.3,129.1 481.7,122.9 481.0,120.0 C480.3,117.1 479.2,112.7 478.5,110.0 C477.8,107.3 476.4,102.9 475.5,100.0 C474.6,97.1 472.4,91.2 471.5,88.0 C470.6,84.8 469.0,78.7 468.5,76.0 C468.0,73.3 467.8,70.1 467.8,68.0 C467.8,65.9 468.0,62.3 468.3,60.0 C468.6,57.7 469.6,52.7 470.3,50.5 C471.0,48.3 472.4,45.0 473.2,43.2Z"/></clipPath>
<path d="M559.3,24.4 C562.9,24.3 575.6,24.0 580.5,24.3 C585.4,24.6 598.1,25.8 601.6,26.8 C605.1,27.8 608.9,31.3 610.7,33.1 C612.5,34.9 615.5,39.4 616.7,42.2 C617.9,45.0 620.4,53.4 621.3,57.3 C622.2,61.2 623.7,71.3 624.3,75.5 C624.9,79.7 625.9,89.8 626.4,93.6 C626.9,97.4 628.4,105.5 629.0,108.0 C629.6,110.5 630.8,113.1 631.2,115.0 C631.6,116.9 632.2,122.7 632.6,124.6 C633.0,126.5 633.8,128.8 634.6,131.2 C635.4,133.6 638.2,141.1 639.5,145.0 C640.8,148.9 644.3,159.8 646.0,164.7 C647.7,169.6 652.1,182.2 654.0,187.0 C655.9,191.8 660.5,202.3 662.0,206.2 C663.5,210.0 665.4,216.3 666.7,220.0 C668.0,223.7 671.6,233.9 673.0,238.0 C674.4,242.1 677.7,251.5 679.0,255.0 C680.3,258.5 683.5,265.4 684.5,268.0 C685.5,270.6 690.5,278.6 687.6,277.0 C684.7,275.4 665.9,258.9 660.0,254.0 C654.1,249.1 642.2,239.2 636.9,234.6 C631.6,230.0 619.8,219.3 614.6,214.6 C609.4,209.9 597.5,198.7 592.3,194.5 C587.1,190.3 574.2,182.0 570.0,178.9 C565.8,175.8 559.0,170.3 556.0,168.0 C553.0,165.7 546.4,161.3 544.0,159.0 C541.6,156.7 537.6,151.6 535.5,148.4 C533.4,145.2 527.6,136.5 526.0,132.0 C524.4,127.5 522.0,116.1 521.5,110.0 C521.0,103.9 521.3,85.6 521.5,80.0 C521.7,74.4 522.9,65.0 523.3,62.0 C523.7,59.0 524.2,55.6 524.6,53.9 C525.0,52.2 526.0,48.8 526.5,47.5 C527.0,46.2 528.3,43.6 529.0,42.4 C529.7,41.2 531.9,38.5 532.9,37.3 C533.9,36.1 536.8,33.2 538.0,32.2 C539.2,31.2 541.7,29.2 543.0,28.4 C544.3,27.6 547.5,25.9 549.4,25.4 C551.3,24.9 555.7,24.5 559.3,24.4Z" fill="#aad7c4" stroke="#9cc9b6" stroke-width="0.6" clip-path="url(#cb)"/>
<path d="M487.0,175.8 C489.2,174.8 493.5,178.7 495.4,180.6 C497.3,182.5 500.0,187.3 501.4,190.2 C502.8,193.1 505.1,198.8 506.1,202.1 C507.1,205.4 508.3,209.9 509.0,215.0 C509.7,220.1 510.7,233.2 511.0,240.0 C511.3,246.8 511.4,261.2 511.0,266.0 C510.6,270.8 509.5,274.3 508.0,276.0 C506.5,277.7 505.1,278.3 500.0,278.6 C494.9,278.9 475.1,278.9 470.0,278.6 C464.9,278.3 463.6,277.7 462.0,276.0 C460.4,274.3 458.5,270.1 458.0,266.0 C457.5,261.9 458.2,250.9 458.5,245.0 C458.8,239.1 459.7,226.4 460.5,222.0 C461.3,217.6 462.8,214.7 464.3,211.7 C465.8,208.7 469.6,202.9 471.5,199.7 C473.4,196.5 476.6,191.0 478.7,187.8 C480.8,184.6 484.8,176.8 487.0,175.8Z" fill="#bae4b4"/>
<path d="M487.0,175.8 C489.2,174.8 493.5,178.7 495.4,180.6 C497.3,182.5 500.0,187.3 501.4,190.2 C502.8,193.1 505.1,198.8 506.1,202.1 C507.1,205.4 508.3,209.9 509.0,215.0 C509.7,220.1 510.7,233.2 511.0,240.0 C511.3,246.8 511.4,261.2 511.0,266.0 C510.6,270.8 509.5,274.3 508.0,276.0 C506.5,277.7 505.1,278.3 500.0,278.6 C494.9,278.9 475.1,278.9 470.0,278.6 C464.9,278.3 463.6,277.7 462.0,276.0 C460.4,274.3 458.5,270.1 458.0,266.0 C457.5,261.9 458.2,250.9 458.5,245.0 C458.8,239.1 459.7,226.4 460.5,222.0 C461.3,217.6 462.8,214.7 464.3,211.7 C465.8,208.7 469.6,202.9 471.5,199.7 C473.4,196.5 476.6,191.0 478.7,187.8 C480.8,184.6 484.8,176.8 487.0,175.8Z" fill="#8ad28e" clip-path="url(#cb)"/>
<g fill="#fff" stroke="#7c7c7c" stroke-width="0.6"><circle cx="475.3" cy="243.2" r="1.3"/><circle cx="521.9" cy="235.6" r="1.3"/><circle cx="473.1" cy="239.4" r="1.3"/><circle cx="511.0" cy="249.3" r="1.3"/><circle cx="475.5" cy="229.0" r="1.3"/><circle cx="515.8" cy="244.0" r="1.3"/><circle cx="533.2" cy="248.4" r="1.3"/><circle cx="498.9" cy="237.7" r="1.3"/><circle cx="555.0" cy="237.5" r="1.3"/><circle cx="484.5" cy="230.3" r="1.3"/><circle cx="503.0" cy="241.2" r="1.3"/><circle cx="493.8" cy="239.5" r="1.3"/><circle cx="506.7" cy="245.9" r="1.3"/><circle cx="524.0" cy="241.8" r="1.3"/><circle cx="463.4" cy="246.0" r="1.3"/><circle cx="471.2" cy="238.5" r="1.3"/><circle cx="470.1" cy="240.0" r="1.3"/><circle cx="484.7" cy="241.8" r="1.3"/><circle cx="518.7" cy="228.8" r="1.3"/><circle cx="495.0" cy="245.6" r="1.3"/><circle cx="499.1" cy="243.1" r="1.3"/><circle cx="503.2" cy="231.4" r="1.3"/><circle cx="512.8" cy="233.1" r="1.3"/><circle cx="540.3" cy="235.7" r="1.3"/><circle cx="515.4" cy="240.0" r="1.3"/><circle cx="521.0" cy="234.9" r="1.3"/><circle cx="522.0" cy="238.9" r="1.3"/><circle cx="527.5" cy="245.3" r="1.3"/><circle cx="504.0" cy="233.4" r="1.3"/><circle cx="517.1" cy="244.0" r="1.3"/><circle cx="535.5" cy="236.8" r="1.3"/><circle cx="512.6" cy="244.3" r="1.3"/><circle cx="506.9" cy="241.8" r="1.3"/><circle cx="504.8" cy="234.9" r="1.3"/><circle cx="479.7" cy="236.6" r="1.3"/><circle cx="513.4" cy="252.8" r="1.3"/><circle cx="521.5" cy="249.0" r="1.3"/><circle cx="517.3" cy="245.9" r="1.3"/><circle cx="504.9" cy="246.6" r="1.3"/><circle cx="538.2" cy="237.2" r="1.3"/><circle cx="486.4" cy="256.7" r="1.3"/><circle cx="506.1" cy="248.3" r="1.3"/><circle cx="519.4" cy="230.3" r="1.3"/><circle cx="552.1" cy="255.1" r="1.3"/><circle cx="504.7" cy="246.4" r="1.3"/><circle cx="503.7" cy="232.5" r="1.3"/><circle cx="498.6" cy="243.2" r="1.3"/><circle cx="524.4" cy="246.0" r="1.3"/><circle cx="502.2" cy="251.5" r="1.3"/><circle cx="485.0" cy="246.7" r="1.3"/><circle cx="524.4" cy="237.5" r="1.3"/><circle cx="463.4" cy="232.3" r="1.3"/><circle cx="506.0" cy="244.5" r="1.3"/><circle cx="533.5" cy="231.5" r="1.3"/><circle cx="501.0" cy="245.5" r="1.3"/><circle cx="497.7" cy="219.9" r="1.3"/><circle cx="517.9" cy="259.7" r="1.3"/><circle cx="522.1" cy="232.2" r="1.3"/><circle cx="492.3" cy="241.9" r="1.3"/><circle cx="553.3" cy="245.2" r="1.3"/><circle cx="503.4" cy="253.2" r="1.3"/><circle cx="499.3" cy="255.8" r="1.3"/><circle cx="486.6" cy="236.0" r="1.3"/><circle cx="516.1" cy="252.1" r="1.3"/><circle cx="514.7" cy="242.6" r="1.3"/><circle cx="462.7" cy="233.9" r="1.3"/><circle cx="488.2" cy="235.5" r="1.3"/><circle cx="513.3" cy="237.2" r="1.3"/><circle cx="517.5" cy="240.7" r="1.3"/><circle cx="494.0" cy="241.0" r="1.3"/><circle cx="510.0" cy="247.3" r="1.3"/><circle cx="491.0" cy="238.0" r="1.3"/><circle cx="472.4" cy="253.6" r="1.3"/><circle cx="531.5" cy="238.5" r="1.3"/><circle cx="491.0" cy="229.5" r="1.3"/><circle cx="504.6" cy="241.8" r="1.3"/><circle cx="546.8" cy="242.1" r="1.3"/><circle cx="484.7" cy="219.2" r="1.3"/><circle cx="530.6" cy="241.6" r="1.3"/><circle cx="467.2" cy="241.5" r="1.3"/><circle cx="524.5" cy="244.9" r="1.3"/><circle cx="497.3" cy="221.8" r="1.3"/><circle cx="498.3" cy="226.8" r="1.3"/><circle cx="513.5" cy="221.8" r="1.3"/><circle cx="481.9" cy="250.4" r="1.3"/><circle cx="535.5" cy="230.0" r="1.3"/><circle cx="468.8" cy="247.5" r="1.3"/><circle cx="518.9" cy="231.6" r="1.3"/><circle cx="486.4" cy="234.1" r="1.3"/><circle cx="476.0" cy="234.2" r="1.3"/><circle cx="527.3" cy="245.9" r="1.3"/><circle cx="544.2" cy="239.3" r="1.3"/><circle cx="498.2" cy="231.6" r="1.3"/><circle cx="498.4" cy="228.8" r="1.3"/><circle cx="463.7" cy="245.9" r="1.3"/><circle cx="531.2" cy="247.1" r="1.3"/><circle cx="529.0" cy="242.1" r="1.3"/><circle cx="485.9" cy="240.7" r="1.3"/><circle cx="493.1" cy="230.6" r="1.3"/><circle cx="465.5" cy="227.4" r="1.3"/><circle cx="500.9" cy="241.3" r="1.3"/><circle cx="491.0" cy="252.1" r="1.3"/><circle cx="504.8" cy="245.0" r="1.3"/><circle cx="526.6" cy="233.0" r="1.3"/><circle cx="459.6" cy="246.4" r="1.3"/><circle cx="486.5" cy="251.1" r="1.3"/><circle cx="508.1" cy="248.6" r="1.3"/><circle cx="517.0" cy="222.3" r="1.3"/><circle cx="516.1" cy="234.3" r="1.3"/><circle cx="485.1" cy="236.3" r="1.3"/><circle cx="517.1" cy="247.5" r="1.3"/><circle cx="522.2" cy="225.9" r="1.3"/><circle cx="488.6" cy="219.8" r="1.3"/><circle cx="498.9" cy="245.1" r="1.3"/><circle cx="485.0" cy="242.1" r="1.3"/><circle cx="505.9" cy="248.6" r="1.3"/><circle cx="483.8" cy="233.0" r="1.3"/><circle cx="485.0" cy="254.9" r="1.3"/><circle cx="523.9" cy="238.9" r="1.3"/><circle cx="505.7" cy="241.0" r="1.3"/><circle cx="505.3" cy="238.2" r="1.3"/><circle cx="494.0" cy="229.3" r="1.3"/><circle cx="487.5" cy="254.0" r="1.3"/><circle cx="512.3" cy="240.6" r="1.3"/><circle cx="496.5" cy="240.5" r="1.3"/><circle cx="508.4" cy="234.5" r="1.3"/><circle cx="505.1" cy="242.0" r="1.3"/><circle cx="485.3" cy="233.3" r="1.3"/><circle cx="480.0" cy="231.0" r="1.3"/><circle cx="519.7" cy="219.9" r="1.3"/><circle cx="495.4" cy="234.8" r="1.3"/><circle cx="488.0" cy="240.8" r="1.3"/><circle cx="524.7" cy="240.6" r="1.3"/><circle cx="498.1" cy="234.8" r="1.3"/><circle cx="498.3" cy="247.8" r="1.3"/><circle cx="492.7" cy="230.3" r="1.3"/><circle cx="474.5" cy="230.6" r="1.3"/><circle cx="471.8" cy="249.3" r="1.3"/><circle cx="508.5" cy="238.0" r="1.3"/><circle cx="531.7" cy="234.4" r="1.3"/><circle cx="516.8" cy="246.8" r="1.3"/><circle cx="468.5" cy="226.8" r="1.3"/><circle cx="481.5" cy="247.7" r="1.3"/><circle cx="528.2" cy="229.6" r="1.3"/><circle cx="523.0" cy="236.7" r="1.3"/><circle cx="492.7" cy="235.3" r="1.3"/><circle cx="494.2" cy="224.5" r="1.3"/><circle cx="480.0" cy="229.5" r="1.3"/><circle cx="511.3" cy="257.8" r="1.3"/><circle cx="558.4" cy="237.1" r="1.3"/><circle cx="464.9" cy="236.5" r="1.3"/><circle cx="481.3" cy="256.9" r="1.3"/><circle cx="513.0" cy="233.8" r="1.3"/><circle cx="520.7" cy="244.6" r="1.3"/><circle cx="466.9" cy="235.5" r="1.3"/><circle cx="496.0" cy="240.2" r="1.3"/><circle cx="503.8" cy="237.1" r="1.3"/><circle cx="505.0" cy="235.0" r="1.3"/><circle cx="482.2" cy="252.9" r="1.3"/><circle cx="508.6" cy="243.7" r="1.3"/><circle cx="467.5" cy="238.6" r="1.3"/><circle cx="518.2" cy="229.0" r="1.3"/><circle cx="524.1" cy="236.7" r="1.3"/><circle cx="509.5" cy="238.9" r="1.3"/><circle cx="505.6" cy="250.2" r="1.3"/><circle cx="492.5" cy="253.3" r="1.3"/><circle cx="484.6" cy="232.1" r="1.3"/><circle cx="515.9" cy="230.9" r="1.3"/><circle cx="493.2" cy="247.7" r="1.3"/><circle cx="526.4" cy="224.9" r="1.3"/><circle cx="511.6" cy="256.0" r="1.3"/><circle cx="526.1" cy="238.0" r="1.3"/><circle cx="488.4" cy="237.5" r="1.3"/><circle cx="476.8" cy="237.8" r="1.3"/><circle cx="497.1" cy="238.8" r="1.3"/><circle cx="525.8" cy="238.0" r="1.3"/><circle cx="470.4" cy="248.9" r="1.3"/><circle cx="478.5" cy="236.2" r="1.3"/><circle cx="498.2" cy="237.1" r="1.3"/><circle cx="479.9" cy="237.9" r="1.3"/><circle cx="546.9" cy="234.8" r="1.3"/><circle cx="498.1" cy="249.6" r="1.3"/><circle cx="516.6" cy="246.5" r="1.3"/><circle cx="519.1" cy="223.3" r="1.3"/><circle cx="482.9" cy="241.1" r="1.3"/><circle cx="511.5" cy="251.0" r="1.3"/><circle cx="510.9" cy="238.0" r="1.3"/><circle cx="501.8" cy="238.2" r="1.3"/><circle cx="506.2" cy="245.7" r="1.3"/><circle cx="493.9" cy="233.1" r="1.3"/><circle cx="483.1" cy="249.3" r="1.3"/><circle cx="527.9" cy="248.4" r="1.3"/><circle cx="519.0" cy="247.1" r="1.3"/><circle cx="501.0" cy="245.6" r="1.3"/><circle cx="478.9" cy="238.3" r="1.3"/><circle cx="485.6" cy="246.2" r="1.3"/><circle cx="488.8" cy="239.1" r="1.3"/><circle cx="509.4" cy="251.5" r="1.3"/><circle cx="484.4" cy="232.0" r="1.3"/><circle cx="518.2" cy="230.6" r="1.3"/><circle cx="510.5" cy="235.2" r="1.3"/><circle cx="498.8" cy="224.5" r="1.3"/><circle cx="516.0" cy="235.7" r="1.3"/><circle cx="482.1" cy="257.7" r="1.3"/><circle cx="509.6" cy="237.0" r="1.3"/><circle cx="503.3" cy="253.7" r="1.3"/><circle cx="500.4" cy="243.8" r="1.3"/><circle cx="511.8" cy="232.3" r="1.3"/><circle cx="503.7" cy="235.7" r="1.3"/><circle cx="474.8" cy="247.4" r="1.3"/><circle cx="515.0" cy="240.6" r="1.3"/><circle cx="481.9" cy="223.0" r="1.3"/><circle cx="511.2" cy="239.2" r="1.3"/><circle cx="465.6" cy="239.5" r="1.3"/><circle cx="469.1" cy="239.8" r="1.3"/><circle cx="504.0" cy="243.0" r="1.3"/><circle cx="505.6" cy="241.5" r="1.3"/><circle cx="477.1" cy="236.7" r="1.3"/><circle cx="490.3" cy="238.0" r="1.3"/><circle cx="506.7" cy="245.3" r="1.3"/><circle cx="535.3" cy="218.2" r="1.3"/><circle cx="509.4" cy="238.3" r="1.3"/><circle cx="548.8" cy="247.9" r="1.3"/><circle cx="466.3" cy="243.4" r="1.3"/><circle cx="490.1" cy="248.4" r="1.3"/><circle cx="478.8" cy="239.1" r="1.3"/><circle cx="498.2" cy="239.2" r="1.3"/><circle cx="488.7" cy="224.4" r="1.3"/><circle cx="510.7" cy="248.5" r="1.3"/><circle cx="499.6" cy="231.4" r="1.3"/><circle cx="505.3" cy="244.8" r="1.3"/><circle cx="497.3" cy="239.9" r="1.3"/><circle cx="530.6" cy="230.5" r="1.3"/><circle cx="489.3" cy="223.8" r="1.3"/><circle cx="486.3" cy="233.7" r="1.3"/><circle cx="480.8" cy="234.1" r="1.3"/><circle cx="538.7" cy="238.3" r="1.3"/><circle cx="498.6" cy="258.7" r="1.3"/><circle cx="499.7" cy="225.3" r="1.3"/><circle cx="509.5" cy="232.0" r="1.3"/><circle cx="535.4" cy="229.4" r="1.3"/><circle cx="488.8" cy="226.4" r="1.3"/><circle cx="503.0" cy="231.4" r="1.3"/><circle cx="499.6" cy="236.8" r="1.3"/><circle cx="488.1" cy="248.0" r="1.3"/><circle cx="520.6" cy="240.5" r="1.3"/><circle cx="482.1" cy="230.9" r="1.3"/><circle cx="506.7" cy="260.3" r="1.3"/><circle cx="491.4" cy="233.3" r="1.3"/><circle cx="486.4" cy="230.7" r="1.3"/><circle cx="480.6" cy="238.3" r="1.3"/><circle cx="531.1" cy="240.0" r="1.3"/><circle cx="490.3" cy="226.3" r="1.3"/><circle cx="505.5" cy="239.8" r="1.3"/><circle cx="475.2" cy="230.8" r="1.3"/><circle cx="500.1" cy="248.6" r="1.3"/><circle cx="514.2" cy="241.7" r="1.3"/><circle cx="494.2" cy="242.7" r="1.3"/><circle cx="500.7" cy="258.5" r="1.3"/><circle cx="477.2" cy="236.9" r="1.3"/><circle cx="527.6" cy="237.7" r="1.3"/><circle cx="530.9" cy="239.6" r="1.3"/><circle cx="504.1" cy="236.8" r="1.3"/><circle cx="472.0" cy="231.7" r="1.3"/><circle cx="547.5" cy="245.5" r="1.3"/><circle cx="513.7" cy="248.1" r="1.3"/><circle cx="513.0" cy="248.7" r="1.3"/><circle cx="495.4" cy="238.1" r="1.3"/><circle cx="521.7" cy="237.0" r="1.3"/><circle cx="473.1" cy="238.1" r="1.3"/><circle cx="489.6" cy="245.2" r="1.3"/><circle cx="485.9" cy="231.0" r="1.3"/><circle cx="494.0" cy="253.2" r="1.3"/><circle cx="500.0" cy="241.4" r="1.3"/><circle cx="501.2" cy="242.5" r="1.3"/><circle cx="520.5" cy="251.9" r="1.3"/><circle cx="466.5" cy="251.6" r="1.3"/><circle cx="500.9" cy="237.3" r="1.3"/><circle cx="551.4" cy="238.6" r="1.3"/><circle cx="541.8" cy="248.2" r="1.3"/><circle cx="479.4" cy="244.2" r="1.3"/><circle cx="516.5" cy="238.9" r="1.3"/><circle cx="452.1" cy="237.1" r="1.3"/><circle cx="497.0" cy="230.6" r="1.3"/><circle cx="539.3" cy="237.9" r="1.3"/><circle cx="492.7" cy="237.5" r="1.3"/><circle cx="484.5" cy="233.4" r="1.3"/><circle cx="503.0" cy="242.7" r="1.3"/><circle cx="490.3" cy="239.2" r="1.3"/><circle cx="471.8" cy="244.4" r="1.3"/><circle cx="485.3" cy="241.8" r="1.3"/><circle cx="482.0" cy="235.6" r="1.3"/><circle cx="505.5" cy="229.7" r="1.3"/><circle cx="552.9" cy="239.7" r="1.3"/><circle cx="499.5" cy="233.8" r="1.3"/><circle cx="534.5" cy="251.8" r="1.3"/><circle cx="507.3" cy="228.4" r="1.3"/><circle cx="490.4" cy="245.2" r="1.3"/><circle cx="490.2" cy="229.9" r="1.3"/><circle cx="476.1" cy="233.4" r="1.3"/><circle cx="501.3" cy="234.5" r="1.3"/><circle cx="501.4" cy="263.7" r="1.3"/><circle cx="538.2" cy="231.2" r="1.3"/><circle cx="508.2" cy="240.7" r="1.3"/><circle cx="498.1" cy="248.9" r="1.3"/><circle cx="494.0" cy="237.2" r="1.3"/><circle cx="493.1" cy="239.1" r="1.3"/><circle cx="528.0" cy="246.6" r="1.3"/><circle cx="472.8" cy="236.2" r="1.3"/><circle cx="484.2" cy="246.9" r="1.3"/><circle cx="505.7" cy="247.6" r="1.3"/><circle cx="499.7" cy="223.8" r="1.3"/><circle cx="510.5" cy="241.9" r="1.3"/><circle cx="511.7" cy="228.9" r="1.3"/><circle cx="502.7" cy="234.2" r="1.3"/><circle cx="486.6" cy="243.0" r="1.3"/><circle cx="508.4" cy="232.4" r="1.3"/><circle cx="465.0" cy="219.0" r="1.3"/><circle cx="488.9" cy="249.5" r="1.3"/><circle cx="499.8" cy="220.9" r="1.3"/><circle cx="482.9" cy="243.6" r="1.3"/><circle cx="536.1" cy="249.9" r="1.3"/><circle cx="508.7" cy="241.7" r="1.3"/><circle cx="478.8" cy="236.2" r="1.3"/><circle cx="494.0" cy="233.4" r="1.3"/><circle cx="502.3" cy="236.7" r="1.3"/><circle cx="508.1" cy="252.2" r="1.3"/><circle cx="516.6" cy="243.6" r="1.3"/><circle cx="495.9" cy="227.1" r="1.3"/><circle cx="498.6" cy="244.6" r="1.3"/><circle cx="479.8" cy="250.7" r="1.3"/><circle cx="494.0" cy="243.2" r="1.3"/><circle cx="494.1" cy="229.3" r="1.3"/><circle cx="544.4" cy="230.1" r="1.3"/><circle cx="520.3" cy="235.3" r="1.3"/><circle cx="506.9" cy="233.2" r="1.3"/><circle cx="492.3" cy="247.8" r="1.3"/><circle cx="541.9" cy="232.8" r="1.3"/><circle cx="501.2" cy="248.1" r="1.3"/><circle cx="487.8" cy="246.0" r="1.3"/><circle cx="484.5" cy="245.1" r="1.3"/><circle cx="510.2" cy="250.3" r="1.3"/><circle cx="508.6" cy="229.9" r="1.3"/><circle cx="515.0" cy="230.6" r="1.3"/><circle cx="516.8" cy="252.8" r="1.3"/><circle cx="513.5" cy="235.3" r="1.3"/><circle cx="526.0" cy="241.4" r="1.3"/><circle cx="474.9" cy="237.0" r="1.3"/><circle cx="530.8" cy="237.4" r="1.3"/><circle cx="503.6" cy="237.1" r="1.3"/><circle cx="465.6" cy="235.7" r="1.3"/><circle cx="508.5" cy="241.8" r="1.3"/><circle cx="497.3" cy="221.9" r="1.3"/><circle cx="526.7" cy="246.1" r="1.3"/><circle cx="522.5" cy="251.1" r="1.3"/><circle cx="491.7" cy="234.9" r="1.3"/><circle cx="507.6" cy="254.2" r="1.3"/><circle cx="465.6" cy="238.0" r="1.3"/><circle cx="486.0" cy="244.8" r="1.3"/><circle cx="531.8" cy="237.5" r="1.3"/><circle cx="474.9" cy="240.4" r="1.3"/><circle cx="495.0" cy="226.9" r="1.3"/><circle cx="519.6" cy="235.5" r="1.3"/><circle cx="515.3" cy="228.8" r="1.3"/><circle cx="524.0" cy="227.8" r="1.3"/><circle cx="523.1" cy="224.6" r="1.3"/><circle cx="530.0" cy="236.8" r="1.3"/><circle cx="468.3" cy="238.0" r="1.3"/><circle cx="508.1" cy="231.6" r="1.3"/><circle cx="490.6" cy="242.3" r="1.3"/><circle cx="492.0" cy="243.6" r="1.3"/><circle cx="507.2" cy="248.6" r="1.3"/><circle cx="486.5" cy="261.7" r="1.3"/><circle cx="517.8" cy="242.7" r="1.3"/><circle cx="523.8" cy="248.1" r="1.3"/><circle cx="503.1" cy="234.7" r="1.3"/><circle cx="522.5" cy="243.6" r="1.3"/><circle cx="461.3" cy="230.6" r="1.3"/><circle cx="510.8" cy="240.9" r="1.3"/><circle cx="506.9" cy="245.5" r="1.3"/><circle cx="504.1" cy="253.5" r="1.3"/><circle cx="488.6" cy="236.6" r="1.3"/><circle cx="507.8" cy="246.3" r="1.3"/><circle cx="517.5" cy="252.6" r="1.3"/><circle cx="491.0" cy="249.9" r="1.3"/><circle cx="510.8" cy="231.1" r="1.3"/><circle cx="498.1" cy="257.7" r="1.3"/><circle cx="517.5" cy="236.0" r="1.3"/><circle cx="450.6" cy="233.7" r="1.3"/><circle cx="486.2" cy="240.7" r="1.3"/><circle cx="549.5" cy="246.3" r="1.3"/><circle cx="507.6" cy="232.1" r="1.3"/><circle cx="476.1" cy="238.2" r="1.3"/><circle cx="491.2" cy="265.6" r="1.3"/><circle cx="492.5" cy="234.8" r="1.3"/><circle cx="524.7" cy="240.7" r="1.3"/><circle cx="475.1" cy="251.0" r="1.3"/><circle cx="494.4" cy="228.7" r="1.3"/><circle cx="507.7" cy="244.1" r="1.3"/><circle cx="493.9" cy="245.9" r="1.3"/><circle cx="518.2" cy="232.5" r="1.3"/><circle cx="457.8" cy="219.7" r="1.3"/><circle cx="498.3" cy="250.5" r="1.3"/><circle cx="522.1" cy="251.8" r="1.3"/><circle cx="540.0" cy="240.1" r="1.3"/><circle cx="523.2" cy="227.0" r="1.3"/><circle cx="515.5" cy="243.3" r="1.3"/><circle cx="499.0" cy="236.2" r="1.3"/><circle cx="477.6" cy="241.2" r="1.3"/><circle cx="527.8" cy="236.9" r="1.3"/><circle cx="512.2" cy="234.4" r="1.3"/><circle cx="506.3" cy="231.4" r="1.3"/><circle cx="508.9" cy="238.1" r="1.3"/><circle cx="507.6" cy="234.8" r="1.3"/><circle cx="476.3" cy="237.2" r="1.3"/><circle cx="522.8" cy="253.4" r="1.3"/><circle cx="494.2" cy="246.8" r="1.3"/><circle cx="516.9" cy="243.3" r="1.3"/><circle cx="468.4" cy="242.8" r="1.3"/><circle cx="480.6" cy="250.0" r="1.3"/><circle cx="517.6" cy="245.2" r="1.3"/><circle cx="515.7" cy="229.1" r="1.3"/><circle cx="521.4" cy="240.6" r="1.3"/><circle cx="497.2" cy="233.9" r="1.3"/><circle cx="479.6" cy="236.3" r="1.3"/><circle cx="505.4" cy="234.5" r="1.3"/><circle cx="488.0" cy="235.3" r="1.3"/><circle cx="482.4" cy="247.4" r="1.3"/><circle cx="495.3" cy="247.4" r="1.3"/><circle cx="476.7" cy="247.9" r="1.3"/><circle cx="500.4" cy="245.7" r="1.3"/><circle cx="498.8" cy="232.5" r="1.3"/><circle cx="526.4" cy="236.3" r="1.3"/><circle cx="497.9" cy="232.5" r="1.3"/><circle cx="505.3" cy="236.7" r="1.3"/><circle cx="506.9" cy="242.9" r="1.3"/><circle cx="486.5" cy="228.0" r="1.3"/><circle cx="510.1" cy="247.8" r="1.3"/><circle cx="515.6" cy="230.3" r="1.3"/><circle cx="513.7" cy="243.3" r="1.3"/><circle cx="507.0" cy="243.7" r="1.3"/><circle cx="494.2" cy="241.8" r="1.3"/><circle cx="520.5" cy="235.7" r="1.3"/><circle cx="470.8" cy="239.1" r="1.3"/><circle cx="505.1" cy="224.3" r="1.3"/><circle cx="486.8" cy="245.0" r="1.3"/><circle cx="497.8" cy="240.8" r="1.3"/><circle cx="474.6" cy="247.7" r="1.3"/><circle cx="537.8" cy="238.3" r="1.3"/><circle cx="485.6" cy="230.2" r="1.3"/><circle cx="519.7" cy="240.9" r="1.3"/><circle cx="484.3" cy="250.3" r="1.3"/><circle cx="517.1" cy="245.1" r="1.3"/><circle cx="464.0" cy="239.1" r="1.3"/><circle cx="514.1" cy="229.6" r="1.3"/><circle cx="520.5" cy="252.2" r="1.3"/><circle cx="522.7" cy="233.9" r="1.3"/><circle cx="486.1" cy="248.0" r="1.3"/><circle cx="521.9" cy="250.4" r="1.3"/><circle cx="526.2" cy="239.2" r="1.3"/><circle cx="492.4" cy="224.2" r="1.3"/><circle cx="517.5" cy="259.3" r="1.3"/><circle cx="491.3" cy="236.0" r="1.3"/><circle cx="514.6" cy="243.2" r="1.3"/><circle cx="472.2" cy="233.9" r="1.3"/><circle cx="477.9" cy="257.2" r="1.3"/><circle cx="485.9" cy="247.3" r="1.3"/><circle cx="541.3" cy="256.1" r="1.3"/><circle cx="530.9" cy="253.9" r="1.3"/><circle cx="475.1" cy="237.1" r="1.3"/><circle cx="485.7" cy="237.5" r="1.3"/><circle cx="556.0" cy="225.7" r="1.3"/><circle cx="512.7" cy="229.5" r="1.3"/><circle cx="529.1" cy="251.0" r="1.3"/><circle cx="490.3" cy="257.6" r="1.3"/><circle cx="502.6" cy="251.1" r="1.3"/><circle cx="507.5" cy="235.2" r="1.3"/><circle cx="493.0" cy="239.0" r="1.3"/><circle cx="514.0" cy="241.1" r="1.3"/><circle cx="550.6" cy="238.4" r="1.3"/><circle cx="491.2" cy="233.9" r="1.3"/><circle cx="484.7" cy="227.8" r="1.3"/><circle cx="480.3" cy="247.7" r="1.3"/><circle cx="502.3" cy="238.5" r="1.3"/><circle cx="508.4" cy="249.1" r="1.3"/><circle cx="513.9" cy="246.6" r="1.3"/><circle cx="489.2" cy="237.8" r="1.3"/><circle cx="484.7" cy="239.2" r="1.3"/><circle cx="483.8" cy="236.8" r="1.3"/><circle cx="497.3" cy="238.2" r="1.3"/><circle cx="495.4" cy="235.8" r="1.3"/><circle cx="528.5" cy="237.1" r="1.3"/><circle cx="479.8" cy="241.6" r="1.3"/><circle cx="478.1" cy="230.9" r="1.3"/><circle cx="502.8" cy="225.8" r="1.3"/><circle cx="522.7" cy="225.8" r="1.3"/><circle cx="482.2" cy="244.9" r="1.3"/><circle cx="459.3" cy="232.6" r="1.3"/><circle cx="475.7" cy="238.3" r="1.3"/><circle cx="459.6" cy="247.6" r="1.3"/><circle cx="498.0" cy="242.6" r="1.3"/><circle cx="494.1" cy="222.0" r="1.3"/><circle cx="497.8" cy="228.6" r="1.3"/><circle cx="501.2" cy="232.8" r="1.3"/><circle cx="494.3" cy="238.2" r="1.3"/><circle cx="517.2" cy="246.5" r="1.3"/><circle cx="479.9" cy="239.9" r="1.3"/><circle cx="531.6" cy="244.2" r="1.3"/><circle cx="485.7" cy="239.0" r="1.3"/><circle cx="493.7" cy="248.0" r="1.3"/><circle cx="501.7" cy="243.2" r="1.3"/><circle cx="547.4" cy="228.3" r="1.3"/><circle cx="479.7" cy="225.3" r="1.3"/><circle cx="467.6" cy="247.3" r="1.3"/><circle cx="507.1" cy="253.9" r="1.3"/><circle cx="459.5" cy="232.5" r="1.3"/><circle cx="531.3" cy="248.7" r="1.3"/><circle cx="519.6" cy="247.4" r="1.3"/><circle cx="501.7" cy="239.9" r="1.3"/><circle cx="501.7" cy="247.2" r="1.3"/><circle cx="497.6" cy="242.7" r="1.3"/><circle cx="531.5" cy="230.4" r="1.3"/><circle cx="485.2" cy="244.8" r="1.3"/><circle cx="495.5" cy="238.7" r="1.3"/><circle cx="545.1" cy="243.5" r="1.3"/><circle cx="492.2" cy="249.3" r="1.3"/><circle cx="553.9" cy="230.6" r="1.3"/><circle cx="486.9" cy="241.0" r="1.3"/><circle cx="487.6" cy="258.5" r="1.3"/><circle cx="512.0" cy="236.6" r="1.3"/><circle cx="511.3" cy="233.2" r="1.3"/><circle cx="488.3" cy="240.9" r="1.3"/><circle cx="551.1" cy="220.9" r="1.3"/><circle cx="509.8" cy="251.5" r="1.3"/><circle cx="516.5" cy="256.3" r="1.3"/><circle cx="510.5" cy="241.2" r="1.3"/><circle cx="498.2" cy="232.7" r="1.3"/><circle cx="535.3" cy="229.9" r="1.3"/><circle cx="498.4" cy="235.5" r="1.3"/><circle cx="484.5" cy="221.1" r="1.3"/><circle cx="493.0" cy="241.2" r="1.3"/><circle cx="504.0" cy="247.2" r="1.3"/><circle cx="497.6" cy="234.5" r="1.3"/><circle cx="507.5" cy="245.7" r="1.3"/><circle cx="482.0" cy="227.1" r="1.3"/><circle cx="479.5" cy="249.0" r="1.3"/><circle cx="522.0" cy="232.5" r="1.3"/><circle cx="503.3" cy="247.1" r="1.3"/><circle cx="528.9" cy="234.4" r="1.3"/><circle cx="496.0" cy="252.0" r="1.3"/><circle cx="551.6" cy="253.0" r="1.3"/><circle cx="477.0" cy="243.8" r="1.3"/><circle cx="494.7" cy="239.5" r="1.3"/><circle cx="487.1" cy="235.9" r="1.3"/><circle cx="500.8" cy="255.3" r="1.3"/><circle cx="515.7" cy="243.6" r="1.3"/><circle cx="501.6" cy="233.6" r="1.3"/><circle cx="496.2" cy="250.5" r="1.3"/><circle cx="518.4" cy="256.7" r="1.3"/><circle cx="506.5" cy="239.8" r="1.3"/><circle cx="467.0" cy="243.4" r="1.3"/><circle cx="464.8" cy="253.0" r="1.3"/><circle cx="487.8" cy="240.0" r="1.3"/><circle cx="472.6" cy="235.8" r="1.3"/><circle cx="481.4" cy="249.6" r="1.3"/><circle cx="506.2" cy="230.0" r="1.3"/><circle cx="460.4" cy="239.4" r="1.3"/><circle cx="490.8" cy="230.6" r="1.3"/><circle cx="513.4" cy="238.4" r="1.3"/><circle cx="503.3" cy="235.0" r="1.3"/><circle cx="489.0" cy="236.1" r="1.3"/><circle cx="467.3" cy="245.4" r="1.3"/><circle cx="509.5" cy="225.4" r="1.3"/><circle cx="503.1" cy="249.8" r="1.3"/><circle cx="506.0" cy="251.0" r="1.3"/><circle cx="495.4" cy="240.0" r="1.3"/><circle cx="473.7" cy="232.3" r="1.3"/><circle cx="462.7" cy="232.4" r="1.3"/><circle cx="506.1" cy="244.4" r="1.3"/><circle cx="525.4" cy="241.1" r="1.3"/><circle cx="480.2" cy="243.7" r="1.3"/><circle cx="497.9" cy="255.2" r="1.3"/><circle cx="542.1" cy="248.2" r="1.3"/><circle cx="477.1" cy="235.5" r="1.3"/><circle cx="505.0" cy="233.9" r="1.3"/><circle cx="512.0" cy="245.8" r="1.3"/><circle cx="518.6" cy="241.9" r="1.3"/><circle cx="482.4" cy="232.8" r="1.3"/><circle cx="498.4" cy="251.3" r="1.3"/><circle cx="534.1" cy="248.3" r="1.3"/><circle cx="508.6" cy="245.7" r="1.3"/><circle cx="518.3" cy="251.0" r="1.3"/><circle cx="519.0" cy="226.9" r="1.3"/><circle cx="521.0" cy="243.3" r="1.3"/><circle cx="491.3" cy="244.5" r="1.3"/><circle cx="507.1" cy="239.5" r="1.3"/><circle cx="465.5" cy="240.9" r="1.3"/><circle cx="512.7" cy="239.6" r="1.3"/><circle cx="467.6" cy="243.9" r="1.3"/><circle cx="516.1" cy="241.5" r="1.3"/><circle cx="509.9" cy="237.0" r="1.3"/><circle cx="487.2" cy="244.5" r="1.3"/><circle cx="493.5" cy="241.6" r="1.3"/><circle cx="503.8" cy="226.2" r="1.3"/><circle cx="503.0" cy="246.4" r="1.3"/><circle cx="486.2" cy="238.0" r="1.3"/><circle cx="453.7" cy="244.7" r="1.3"/><circle cx="488.5" cy="245.8" r="1.3"/><circle cx="529.7" cy="238.6" r="1.3"/><circle cx="521.7" cy="242.1" r="1.3"/><circle cx="496.7" cy="237.6" r="1.3"/><circle cx="483.1" cy="250.9" r="1.3"/><circle cx="519.5" cy="231.5" r="1.3"/><circle cx="518.7" cy="233.8" r="1.3"/><circle cx="469.4" cy="250.2" r="1.3"/><circle cx="474.1" cy="250.1" r="1.3"/><circle cx="505.2" cy="247.7" r="1.3"/><circle cx="511.7" cy="249.8" r="1.3"/><circle cx="508.3" cy="244.9" r="1.3"/><circle cx="506.2" cy="249.3" r="1.3"/><circle cx="492.8" cy="248.6" r="1.3"/><circle cx="532.6" cy="239.5" r="1.3"/><circle cx="510.2" cy="235.6" r="1.3"/><circle cx="494.9" cy="242.2" r="1.3"/><circle cx="493.8" cy="232.5" r="1.3"/><circle cx="500.4" cy="241.6" r="1.3"/><circle cx="507.8" cy="246.0" r="1.3"/><circle cx="463.7" cy="252.0" r="1.3"/><circle cx="497.4" cy="233.4" r="1.3"/><circle cx="493.2" cy="243.8" r="1.3"/><circle cx="519.3" cy="236.9" r="1.3"/><circle cx="504.3" cy="226.4" r="1.3"/><circle cx="504.6" cy="239.0" r="1.3"/><circle cx="491.9" cy="247.5" r="1.3"/><circle cx="538.7" cy="248.8" r="1.3"/><circle cx="484.6" cy="253.0" r="1.3"/><circle cx="494.0" cy="239.7" r="1.3"/><circle cx="488.8" cy="243.9" r="1.3"/><circle cx="512.6" cy="241.2" r="1.3"/><circle cx="496.6" cy="238.8" r="1.3"/><circle cx="492.6" cy="248.3" r="1.3"/><circle cx="490.1" cy="238.7" r="1.3"/><circle cx="496.6" cy="233.6" r="1.3"/><circle cx="496.2" cy="227.6" r="1.3"/><circle cx="509.6" cy="244.6" r="1.3"/><circle cx="494.7" cy="253.2" r="1.3"/><circle cx="483.8" cy="244.7" r="1.3"/><circle cx="511.0" cy="235.5" r="1.3"/><circle cx="496.0" cy="247.5" r="1.3"/><circle cx="502.3" cy="242.4" r="1.3"/><circle cx="530.3" cy="241.8" r="1.3"/><circle cx="466.0" cy="233.8" r="1.3"/><circle cx="518.5" cy="238.9" r="1.3"/><circle cx="478.4" cy="223.3" r="1.3"/><circle cx="507.8" cy="252.7" r="1.3"/><circle cx="474.8" cy="221.7" r="1.3"/><circle cx="511.4" cy="235.4" r="1.3"/><circle cx="494.9" cy="237.3" r="1.3"/><circle cx="482.2" cy="243.7" r="1.3"/><circle cx="520.2" cy="243.1" r="1.3"/><circle cx="489.4" cy="248.8" r="1.3"/><circle cx="498.7" cy="244.9" r="1.3"/><circle cx="481.5" cy="245.6" r="1.3"/><circle cx="516.5" cy="250.9" r="1.3"/><circle cx="501.6" cy="243.7" r="1.3"/><circle cx="489.0" cy="247.5" r="1.3"/><circle cx="517.2" cy="249.1" r="1.3"/><circle cx="493.0" cy="229.7" r="1.3"/><circle cx="499.6" cy="238.3" r="1.3"/><circle cx="485.5" cy="245.1" r="1.3"/><circle cx="520.7" cy="243.3" r="1.3"/><circle cx="524.1" cy="243.3" r="1.3"/><circle cx="480.7" cy="235.1" r="1.3"/><circle cx="493.7" cy="245.8" r="1.3"/><circle cx="520.2" cy="241.2" r="1.3"/><circle cx="522.1" cy="233.1" r="1.3"/><circle cx="498.7" cy="252.6" r="1.3"/><circle cx="510.3" cy="248.8" r="1.3"/><circle cx="461.9" cy="226.0" r="1.3"/><circle cx="483.1" cy="248.5" r="1.3"/><circle cx="534.7" cy="234.8" r="1.3"/><circle cx="480.6" cy="231.5" r="1.3"/><circle cx="482.6" cy="244.7" r="1.3"/><circle cx="494.5" cy="255.8" r="1.3"/><circle cx="516.0" cy="234.3" r="1.3"/><circle cx="505.9" cy="238.7" r="1.3"/><circle cx="517.4" cy="247.6" r="1.3"/><circle cx="493.9" cy="247.5" r="1.3"/><circle cx="512.8" cy="239.3" r="1.3"/><circle cx="506.4" cy="245.7" r="1.3"/><circle cx="494.5" cy="234.4" r="1.3"/><circle cx="527.3" cy="240.1" r="1.3"/><circle cx="488.8" cy="243.9" r="1.3"/><circle cx="470.6" cy="240.5" r="1.3"/><circle cx="472.9" cy="236.5" r="1.3"/><circle cx="464.2" cy="234.0" r="1.3"/><circle cx="519.6" cy="238.5" r="1.3"/><circle cx="476.0" cy="254.6" r="1.3"/><circle cx="488.1" cy="252.4" r="1.3"/><circle cx="490.2" cy="227.8" r="1.3"/><circle cx="539.2" cy="236.4" r="1.3"/><circle cx="516.8" cy="250.0" r="1.3"/><circle cx="474.0" cy="240.6" r="1.3"/><circle cx="489.2" cy="245.1" r="1.3"/><circle cx="500.8" cy="229.5" r="1.3"/><circle cx="502.3" cy="246.4" r="1.3"/><circle cx="495.0" cy="244.7" r="1.3"/><circle cx="490.1" cy="239.6" r="1.3"/><circle cx="508.3" cy="241.2" r="1.3"/><circle cx="527.3" cy="248.0" r="1.3"/><circle cx="518.5" cy="246.1" r="1.3"/><circle cx="504.3" cy="230.4" r="1.3"/><circle cx="523.0" cy="254.5" r="1.3"/><circle cx="505.8" cy="237.9" r="1.3"/><circle cx="500.4" cy="250.1" r="1.3"/><circle cx="507.0" cy="231.9" r="1.3"/><circle cx="497.6" cy="233.7" r="1.3"/><circle cx="497.0" cy="232.6" r="1.3"/><circle cx="483.2" cy="252.4" r="1.3"/><circle cx="522.7" cy="226.7" r="1.3"/><circle cx="481.0" cy="236.3" r="1.3"/><circle cx="493.2" cy="228.6" r="1.3"/><circle cx="519.4" cy="226.7" r="1.3"/><circle cx="515.4" cy="245.9" r="1.3"/><circle cx="493.6" cy="234.6" r="1.3"/><circle cx="502.4" cy="241.3" r="1.3"/><circle cx="458.1" cy="229.6" r="1.3"/><circle cx="512.1" cy="239.2" r="1.3"/><circle cx="492.6" cy="231.8" r="1.3"/><circle cx="486.7" cy="233.7" r="1.3"/><circle cx="558.5" cy="229.6" r="1.3"/><circle cx="532.7" cy="244.0" r="1.3"/><circle cx="505.5" cy="241.7" r="1.3"/><circle cx="493.4" cy="253.4" r="1.3"/><circle cx="511.6" cy="239.8" r="1.3"/><circle cx="498.7" cy="241.7" r="1.3"/><circle cx="477.7" cy="237.4" r="1.3"/><circle cx="488.4" cy="245.2" r="1.3"/><circle cx="513.5" cy="224.6" r="1.3"/><circle cx="496.6" cy="248.3" r="1.3"/><circle cx="474.6" cy="230.2" r="1.3"/><circle cx="521.7" cy="239.0" r="1.3"/><circle cx="491.9" cy="230.0" r="1.3"/><circle cx="504.7" cy="235.4" r="1.3"/><circle cx="505.5" cy="243.6" r="1.3"/><circle cx="515.6" cy="237.4" r="1.3"/><circle cx="490.4" cy="240.3" r="1.3"/><circle cx="499.2" cy="241.5" r="1.3"/><circle cx="490.3" cy="238.1" r="1.3"/><circle cx="489.1" cy="235.2" r="1.3"/><circle cx="504.4" cy="249.7" r="1.3"/><circle cx="490.2" cy="244.9" r="1.3"/><circle cx="508.3" cy="241.0" r="1.3"/><circle cx="515.1" cy="235.4" r="1.3"/><circle cx="512.7" cy="242.6" r="1.3"/><circle cx="513.5" cy="256.3" r="1.3"/><circle cx="479.4" cy="240.9" r="1.3"/><circle cx="508.4" cy="232.0" r="1.3"/><circle cx="525.8" cy="243.8" r="1.3"/><circle cx="484.8" cy="230.1" r="1.3"/><circle cx="492.6" cy="259.8" r="1.3"/><circle cx="545.5" cy="219.5" r="1.3"/><circle cx="463.7" cy="245.6" r="1.3"/><circle cx="499.0" cy="234.8" r="1.3"/><circle cx="513.6" cy="240.9" r="1.3"/><circle cx="507.1" cy="242.3" r="1.3"/><circle cx="478.8" cy="251.0" r="1.3"/><circle cx="491.7" cy="249.5" r="1.3"/><circle cx="515.4" cy="240.4" r="1.3"/><circle cx="504.0" cy="239.7" r="1.3"/><circle cx="463.3" cy="237.4" r="1.3"/><circle cx="510.0" cy="226.6" r="1.3"/><circle cx="470.5" cy="249.1" r="1.3"/><circle cx="517.8" cy="227.2" r="1.3"/><circle cx="510.6" cy="239.7" r="1.3"/><circle cx="521.3" cy="237.4" r="1.3"/><circle cx="496.6" cy="233.8" r="1.3"/><circle cx="504.9" cy="239.0" r="1.3"/><circle cx="487.6" cy="237.2" r="1.3"/><circle cx="485.6" cy="245.3" r="1.3"/><circle cx="479.9" cy="227.1" r="1.3"/><circle cx="481.2" cy="249.1" r="1.3"/><circle cx="490.7" cy="245.5" r="1.3"/><circle cx="516.3" cy="235.8" r="1.3"/><circle cx="516.7" cy="244.3" r="1.3"/><circle cx="500.2" cy="234.2" r="1.3"/><circle cx="499.9" cy="229.3" r="1.3"/><circle cx="495.4" cy="235.2" r="1.3"/><circle cx="510.2" cy="242.9" r="1.3"/><circle cx="487.9" cy="247.3" r="1.3"/><circle cx="525.8" cy="240.6" r="1.3"/><circle cx="485.8" cy="244.3" r="1.3"/><circle cx="450.6" cy="235.2" r="1.3"/><circle cx="513.2" cy="256.8" r="1.3"/><circle cx="485.8" cy="252.8" r="1.3"/><circle cx="549.3" cy="255.8" r="1.3"/><circle cx="452.3" cy="249.3" r="1.3"/><circle cx="505.1" cy="248.5" r="1.3"/><circle cx="497.4" cy="234.9" r="1.3"/><circle cx="496.4" cy="252.6" r="1.3"/><circle cx="518.5" cy="237.6" r="1.3"/><circle cx="509.0" cy="247.3" r="1.3"/><circle cx="512.9" cy="239.7" r="1.3"/><circle cx="487.4" cy="233.8" r="1.3"/><circle cx="492.0" cy="235.4" r="1.3"/><circle cx="468.3" cy="228.1" r="1.3"/><circle cx="519.3" cy="230.6" r="1.3"/><circle cx="473.8" cy="239.7" r="1.3"/><circle cx="531.2" cy="250.6" r="1.3"/><circle cx="492.5" cy="231.3" r="1.3"/><circle cx="489.9" cy="232.4" r="1.3"/><circle cx="489.6" cy="244.1" r="1.3"/><circle cx="478.9" cy="233.4" r="1.3"/><circle cx="495.7" cy="239.8" r="1.3"/><circle cx="485.1" cy="233.4" r="1.3"/><circle cx="477.5" cy="233.7" r="1.3"/><circle cx="512.0" cy="238.0" r="1.3"/><circle cx="499.6" cy="232.7" r="1.3"/><circle cx="466.5" cy="249.9" r="1.3"/><circle cx="545.6" cy="258.4" r="1.3"/><circle cx="485.7" cy="240.3" r="1.3"/><circle cx="517.3" cy="229.6" r="1.3"/><circle cx="537.5" cy="233.9" r="1.3"/><circle cx="508.4" cy="230.3" r="1.3"/><circle cx="508.7" cy="239.9" r="1.3"/><circle cx="523.7" cy="230.2" r="1.3"/><circle cx="500.8" cy="255.4" r="1.3"/><circle cx="476.0" cy="243.0" r="1.3"/><circle cx="510.2" cy="235.8" r="1.3"/><circle cx="495.4" cy="252.0" r="1.3"/><circle cx="524.9" cy="244.8" r="1.3"/><circle cx="506.6" cy="230.4" r="1.3"/><circle cx="502.9" cy="255.2" r="1.3"/><circle cx="523.1" cy="228.5" r="1.3"/><circle cx="457.5" cy="234.4" r="1.3"/><circle cx="504.5" cy="235.3" r="1.3"/><circle cx="494.6" cy="242.9" r="1.3"/><circle cx="519.8" cy="241.8" r="1.3"/><circle cx="527.3" cy="227.9" r="1.3"/><circle cx="510.8" cy="243.6" r="1.3"/><circle cx="469.8" cy="250.6" r="1.3"/><circle cx="467.5" cy="227.7" r="1.3"/><circle cx="557.1" cy="251.0" r="1.3"/><circle cx="508.9" cy="251.5" r="1.3"/><circle cx="525.2" cy="230.4" r="1.3"/><circle cx="511.2" cy="251.9" r="1.3"/><circle cx="497.6" cy="240.6" r="1.3"/><circle cx="491.2" cy="246.3" r="1.3"/><circle cx="489.4" cy="235.0" r="1.3"/><circle cx="475.2" cy="232.1" r="1.3"/><circle cx="505.6" cy="244.0" r="1.3"/><circle cx="492.9" cy="231.1" r="1.3"/><circle cx="508.2" cy="243.1" r="1.3"/><circle cx="527.9" cy="235.8" r="1.3"/><circle cx="492.3" cy="244.4" r="1.3"/><circle cx="533.2" cy="239.6" r="1.3"/><circle cx="499.3" cy="232.0" r="1.3"/><circle cx="493.0" cy="248.1" r="1.3"/><circle cx="519.0" cy="249.5" r="1.3"/><circle cx="466.4" cy="247.2" r="1.3"/><circle cx="481.5" cy="245.1" r="1.3"/><circle cx="451.0" cy="239.2" r="1.3"/><circle cx="482.4" cy="250.9" r="1.3"/><circle cx="503.6" cy="251.1" r="1.3"/><circle cx="491.7" cy="256.8" r="1.3"/><circle cx="491.6" cy="256.3" r="1.3"/><circle cx="490.7" cy="231.6" r="1.3"/><circle cx="520.0" cy="236.6" r="1.3"/><circle cx="499.8" cy="228.5" r="1.3"/><circle cx="493.7" cy="241.0" r="1.3"/><circle cx="486.1" cy="243.4" r="1.3"/><circle cx="452.4" cy="247.7" r="1.3"/><circle cx="492.4" cy="252.6" r="1.3"/><circle cx="493.6" cy="234.4" r="1.3"/><circle cx="491.5" cy="242.4" r="1.3"/><circle cx="513.7" cy="236.0" r="1.3"/><circle cx="484.1" cy="243.7" r="1.3"/><circle cx="518.5" cy="225.0" r="1.3"/><circle cx="478.8" cy="234.2" r="1.3"/><circle cx="537.3" cy="250.6" r="1.3"/><circle cx="518.0" cy="244.3" r="1.3"/><circle cx="477.3" cy="249.7" r="1.3"/><circle cx="491.6" cy="233.2" r="1.3"/><circle cx="542.1" cy="227.6" r="1.3"/><circle cx="530.4" cy="241.8" r="1.3"/><circle cx="481.5" cy="241.5" r="1.3"/><circle cx="483.1" cy="241.6" r="1.3"/><circle cx="487.3" cy="229.8" r="1.3"/><circle cx="557.5" cy="235.7" r="1.3"/><circle cx="522.0" cy="239.6" r="1.3"/><circle cx="515.4" cy="229.2" r="1.3"/><circle cx="522.4" cy="243.8" r="1.3"/><circle cx="476.0" cy="247.2" r="1.3"/><circle cx="513.7" cy="265.2" r="1.3"/><circle cx="506.1" cy="247.9" r="1.3"/><circle cx="514.1" cy="246.7" r="1.3"/><circle cx="500.5" cy="236.5" r="1.3"/><circle cx="516.2" cy="250.7" r="1.3"/><circle cx="476.3" cy="230.2" r="1.3"/><circle cx="500.2" cy="255.5" r="1.3"/><circle cx="496.6" cy="225.4" r="1.3"/><circle cx="518.2" cy="246.5" r="1.3"/><circle cx="542.4" cy="241.7" r="1.3"/><circle cx="543.0" cy="233.8" r="1.3"/><circle cx="520.3" cy="241.2" r="1.3"/><circle cx="475.7" cy="237.7" r="1.3"/><circle cx="529.4" cy="249.6" r="1.3"/><circle cx="493.0" cy="249.6" r="1.3"/><circle cx="520.3" cy="247.8" r="1.3"/><circle cx="507.2" cy="242.7" r="1.3"/><circle cx="483.5" cy="239.5" r="1.3"/><circle cx="503.7" cy="233.7" r="1.3"/><circle cx="495.0" cy="241.5" r="1.3"/><circle cx="505.6" cy="249.1" r="1.3"/><circle cx="479.2" cy="236.6" r="1.3"/><circle cx="506.8" cy="236.8" r="1.3"/><circle cx="508.2" cy="236.0" r="1.3"/><circle cx="526.2" cy="238.1" r="1.3"/><circle cx="476.9" cy="246.5" r="1.3"/><circle cx="536.5" cy="223.5" r="1.3"/><circle cx="498.4" cy="240.6" r="1.3"/><circle cx="523.1" cy="252.9" r="1.3"/><circle cx="497.8" cy="226.6" r="1.3"/><circle cx="515.3" cy="248.7" r="1.3"/><circle cx="511.0" cy="240.7" r="1.3"/><circle cx="483.9" cy="261.0" r="1.3"/><circle cx="475.6" cy="227.1" r="1.3"/><circle cx="521.9" cy="242.5" r="1.3"/><circle cx="515.4" cy="243.1" r="1.3"/><circle cx="536.9" cy="252.3" r="1.3"/><circle cx="489.4" cy="248.7" r="1.3"/><circle cx="476.1" cy="225.4" r="1.3"/><circle cx="526.7" cy="236.4" r="1.3"/><circle cx="455.6" cy="239.9" r="1.3"/><circle cx="487.0" cy="244.4" r="1.3"/><circle cx="499.9" cy="233.4" r="1.3"/><circle cx="486.0" cy="246.6" r="1.3"/><circle cx="481.4" cy="241.2" r="1.3"/><circle cx="480.2" cy="243.9" r="1.3"/><circle cx="539.0" cy="244.9" r="1.3"/><circle cx="524.8" cy="243.9" r="1.3"/><circle cx="480.7" cy="237.5" r="1.3"/><circle cx="502.6" cy="243.8" r="1.3"/><circle cx="488.3" cy="245.3" r="1.3"/><circle cx="485.9" cy="240.6" r="1.3"/><circle cx="500.9" cy="230.2" r="1.3"/><circle cx="522.4" cy="240.5" r="1.3"/><circle cx="503.4" cy="239.8" r="1.3"/><circle cx="456.5" cy="228.0" r="1.3"/><circle cx="482.2" cy="248.6" r="1.3"/><circle cx="488.9" cy="245.3" r="1.3"/><circle cx="479.3" cy="232.8" r="1.3"/><circle cx="491.2" cy="249.2" r="1.3"/><circle cx="466.0" cy="238.6" r="1.3"/><circle cx="509.8" cy="241.2" r="1.3"/><circle cx="500.8" cy="246.7" r="1.3"/><circle cx="507.3" cy="231.4" r="1.3"/><circle cx="514.6" cy="233.4" r="1.3"/><circle cx="493.9" cy="252.5" r="1.3"/><circle cx="552.9" cy="252.5" r="1.3"/><circle cx="510.2" cy="233.4" r="1.3"/><circle cx="485.0" cy="254.3" r="1.3"/><circle cx="508.2" cy="228.2" r="1.3"/><circle cx="534.4" cy="245.0" r="1.3"/><circle cx="529.1" cy="243.5" r="1.3"/><circle cx="455.5" cy="233.7" r="1.3"/><circle cx="498.1" cy="238.6" r="1.3"/><circle cx="533.2" cy="234.3" r="1.3"/><circle cx="499.1" cy="239.6" r="1.3"/><circle cx="499.2" cy="231.2" r="1.3"/><circle cx="475.2" cy="218.0" r="1.3"/><circle cx="508.2" cy="238.3" r="1.3"/><circle cx="505.4" cy="231.0" r="1.3"/><circle cx="501.2" cy="231.7" r="1.3"/><circle cx="479.7" cy="242.9" r="1.3"/><circle cx="514.6" cy="245.0" r="1.3"/><circle cx="500.2" cy="236.7" r="1.3"/><circle cx="530.7" cy="250.7" r="1.3"/><circle cx="487.7" cy="230.7" r="1.3"/><circle cx="509.0" cy="242.8" r="1.3"/><circle cx="481.8" cy="259.6" r="1.3"/><circle cx="456.9" cy="232.9" r="1.3"/><circle cx="506.3" cy="248.5" r="1.3"/><circle cx="461.9" cy="236.3" r="1.3"/><circle cx="531.5" cy="252.1" r="1.3"/><circle cx="495.8" cy="240.4" r="1.3"/><circle cx="482.4" cy="243.4" r="1.3"/><circle cx="478.9" cy="222.7" r="1.3"/><circle cx="468.9" cy="240.5" r="1.3"/><circle cx="473.2" cy="249.6" r="1.3"/><circle cx="528.3" cy="248.6" r="1.3"/><circle cx="515.0" cy="249.8" r="1.3"/><circle cx="506.7" cy="247.5" r="1.3"/><circle cx="511.0" cy="246.8" r="1.3"/><circle cx="479.6" cy="234.4" r="1.3"/><circle cx="480.0" cy="247.2" r="1.3"/><circle cx="511.8" cy="233.3" r="1.3"/><circle cx="480.2" cy="235.1" r="1.3"/><circle cx="519.6" cy="239.1" r="1.3"/><circle cx="496.0" cy="234.1" r="1.3"/><circle cx="498.6" cy="253.7" r="1.3"/><circle cx="486.6" cy="237.0" r="1.3"/><circle cx="537.1" cy="246.2" r="1.3"/><circle cx="477.0" cy="249.4" r="1.3"/><circle cx="474.4" cy="244.8" r="1.3"/><circle cx="520.5" cy="235.0" r="1.3"/><circle cx="485.8" cy="240.5" r="1.3"/><circle cx="501.2" cy="236.1" r="1.3"/><circle cx="486.8" cy="255.5" r="1.3"/><circle cx="532.7" cy="242.9" r="1.3"/><circle cx="476.8" cy="235.5" r="1.3"/><circle cx="495.0" cy="244.2" r="1.3"/><circle cx="535.0" cy="235.6" r="1.3"/><circle cx="504.3" cy="236.4" r="1.3"/><circle cx="504.1" cy="234.2" r="1.3"/><circle cx="509.1" cy="250.0" r="1.3"/><circle cx="492.8" cy="237.3" r="1.3"/><circle cx="503.6" cy="228.8" r="1.3"/><circle cx="539.5" cy="228.6" r="1.3"/><circle cx="493.6" cy="232.5" r="1.3"/><circle cx="532.9" cy="235.9" r="1.3"/><circle cx="490.5" cy="256.2" r="1.3"/><circle cx="498.6" cy="233.4" r="1.3"/><circle cx="501.0" cy="241.7" r="1.3"/><circle cx="485.4" cy="238.5" r="1.3"/><circle cx="496.7" cy="246.3" r="1.3"/><circle cx="517.4" cy="247.2" r="1.3"/><circle cx="498.6" cy="246.9" r="1.3"/><circle cx="496.7" cy="250.0" r="1.3"/><circle cx="509.7" cy="236.4" r="1.3"/><circle cx="527.2" cy="227.1" r="1.3"/><circle cx="480.7" cy="233.2" r="1.3"/><circle cx="498.4" cy="229.5" r="1.3"/><circle cx="475.7" cy="223.9" r="1.3"/><circle cx="503.6" cy="233.5" r="1.3"/><circle cx="547.5" cy="246.7" r="1.3"/><circle cx="477.0" cy="251.4" r="1.3"/><circle cx="503.4" cy="249.3" r="1.3"/><circle cx="477.7" cy="250.0" r="1.3"/><circle cx="524.4" cy="236.5" r="1.3"/><circle cx="483.2" cy="236.8" r="1.3"/><circle cx="506.7" cy="260.7" r="1.3"/><circle cx="539.4" cy="252.9" r="1.3"/><circle cx="496.5" cy="237.3" r="1.3"/><circle cx="508.9" cy="237.7" r="1.3"/><circle cx="491.3" cy="238.3" r="1.3"/><circle cx="519.0" cy="239.5" r="1.3"/><circle cx="506.2" cy="237.8" r="1.3"/><circle cx="497.0" cy="237.2" r="1.3"/><circle cx="527.8" cy="242.0" r="1.3"/><circle cx="532.7" cy="238.6" r="1.3"/><circle cx="523.6" cy="228.2" r="1.3"/><circle cx="492.7" cy="239.5" r="1.3"/><circle cx="487.8" cy="239.1" r="1.3"/><circle cx="481.6" cy="238.7" r="1.3"/><circle cx="487.1" cy="240.0" r="1.3"/><circle cx="494.9" cy="231.5" r="1.3"/><circle cx="492.5" cy="240.3" r="1.3"/><circle cx="474.3" cy="240.9" r="1.3"/><circle cx="527.6" cy="238.1" r="1.3"/><circle cx="512.7" cy="245.4" r="1.3"/><circle cx="484.3" cy="251.4" r="1.3"/><circle cx="554.2" cy="231.3" r="1.3"/><circle cx="546.5" cy="234.0" r="1.3"/><circle cx="532.0" cy="224.6" r="1.3"/><circle cx="525.2" cy="241.2" r="1.3"/><circle cx="474.1" cy="233.0" r="1.3"/><circle cx="479.0" cy="232.4" r="1.3"/><circle cx="509.2" cy="238.5" r="1.3"/><circle cx="448.2" cy="237.4" r="1.3"/><circle cx="511.0" cy="240.8" r="1.3"/><circle cx="536.9" cy="224.4" r="1.3"/><circle cx="506.3" cy="240.3" r="1.3"/><circle cx="516.4" cy="228.6" r="1.3"/><circle cx="473.5" cy="238.6" r="1.3"/><circle cx="502.8" cy="224.6" r="1.3"/><circle cx="508.9" cy="240.0" r="1.3"/><circle cx="516.7" cy="217.7" r="1.3"/><circle cx="511.8" cy="232.5" r="1.3"/><circle cx="491.1" cy="246.7" r="1.3"/><circle cx="536.9" cy="241.4" r="1.3"/><circle cx="498.9" cy="251.2" r="1.3"/><circle cx="482.3" cy="238.7" r="1.3"/><circle cx="490.5" cy="231.7" r="1.3"/><circle cx="505.3" cy="257.5" r="1.3"/><circle cx="506.4" cy="244.3" r="1.3"/><circle cx="500.5" cy="249.7" r="1.3"/><circle cx="505.0" cy="232.5" r="1.3"/><circle cx="503.3" cy="252.4" r="1.3"/><circle cx="499.4" cy="250.3" r="1.3"/><circle cx="499.7" cy="257.4" r="1.3"/><circle cx="507.1" cy="245.7" r="1.3"/><circle cx="495.0" cy="247.2" r="1.3"/><circle cx="496.4" cy="227.4" r="1.3"/><circle cx="507.6" cy="229.7" r="1.3"/><circle cx="532.4" cy="246.8" r="1.3"/><circle cx="501.5" cy="246.0" r="1.3"/><circle cx="487.4" cy="245.8" r="1.3"/><circle cx="555.3" cy="226.2" r="1.3"/><circle cx="492.4" cy="243.0" r="1.3"/><circle cx="510.0" cy="225.6" r="1.3"/><circle cx="481.5" cy="252.8" r="1.3"/><circle cx="488.4" cy="244.8" r="1.3"/><circle cx="472.2" cy="232.3" r="1.3"/><circle cx="462.7" cy="242.4" r="1.3"/><circle cx="525.6" cy="240.9" r="1.3"/><circle cx="495.4" cy="242.1" r="1.3"/><circle cx="511.0" cy="237.6" r="1.3"/><circle cx="512.9" cy="256.8" r="1.3"/><circle cx="548.1" cy="235.2" r="1.3"/><circle cx="474.5" cy="256.5" r="1.3"/><circle cx="521.9" cy="250.5" r="1.3"/><circle cx="513.9" cy="238.1" r="1.3"/><circle cx="521.8" cy="249.6" r="1.3"/><circle cx="526.0" cy="230.8" r="1.3"/><circle cx="522.9" cy="237.1" r="1.3"/><circle cx="493.6" cy="243.1" r="1.3"/><circle cx="493.8" cy="259.9" r="1.3"/><circle cx="513.1" cy="242.4" r="1.3"/><circle cx="497.2" cy="242.2" r="1.3"/><circle cx="496.3" cy="245.1" r="1.3"/><circle cx="519.4" cy="247.3" r="1.3"/><circle cx="474.7" cy="237.2" r="1.3"/><circle cx="503.0" cy="229.6" r="1.3"/><circle cx="509.2" cy="238.9" r="1.3"/><circle cx="502.4" cy="243.3" r="1.3"/><circle cx="488.0" cy="253.4" r="1.3"/><circle cx="523.1" cy="235.4" r="1.3"/><circle cx="511.0" cy="246.4" r="1.3"/><circle cx="485.1" cy="237.0" r="1.3"/><circle cx="516.0" cy="218.0" r="1.3"/><circle cx="473.4" cy="242.9" r="1.3"/><circle cx="514.3" cy="232.2" r="1.3"/><circle cx="519.3" cy="259.0" r="1.3"/><circle cx="505.6" cy="239.7" r="1.3"/><circle cx="502.7" cy="231.4" r="1.3"/><circle cx="512.9" cy="241.6" r="1.3"/><circle cx="516.9" cy="252.3" r="1.3"/><circle cx="502.0" cy="241.6" r="1.3"/><circle cx="508.1" cy="255.0" r="1.3"/><circle cx="470.5" cy="240.1" r="1.3"/><circle cx="488.0" cy="241.2" r="1.3"/><circle cx="518.8" cy="240.7" r="1.3"/><circle cx="516.8" cy="241.7" r="1.3"/><circle cx="486.2" cy="234.5" r="1.3"/><circle cx="472.1" cy="242.0" r="1.3"/><circle cx="492.9" cy="247.3" r="1.3"/><circle cx="521.6" cy="232.5" r="1.3"/><circle cx="478.3" cy="245.3" r="1.3"/><circle cx="482.7" cy="241.9" r="1.3"/><circle cx="567.3" cy="195.7" r="1.3"/><circle cx="571.6" cy="203.5" r="1.3"/><circle cx="540.0" cy="214.4" r="1.3"/><circle cx="543.0" cy="219.5" r="1.3"/><circle cx="561.6" cy="215.2" r="1.3"/><circle cx="551.5" cy="223.0" r="1.3"/><circle cx="563.0" cy="223.8" r="1.3"/><circle cx="545.8" cy="228.7" r="1.3"/><circle cx="551.5" cy="227.3" r="1.3"/><circle cx="564.4" cy="230.2" r="1.3"/><circle cx="582.2" cy="228.2" r="1.3"/><circle cx="555.8" cy="233.0" r="1.3"/><circle cx="553.0" cy="237.3" r="1.3"/><circle cx="557.3" cy="241.6" r="1.3"/><circle cx="561.6" cy="243.0" r="1.3"/><circle cx="558.7" cy="247.4" r="1.3"/><circle cx="555.8" cy="250.2" r="1.3"/><circle cx="561.6" cy="254.5" r="1.3"/><circle cx="558.7" cy="257.4" r="1.3"/><circle cx="564.4" cy="258.8" r="1.3"/><circle cx="565.9" cy="261.7" r="1.3"/><circle cx="561.6" cy="271.8" r="1.3"/><circle cx="459.8" cy="175.5" r="1.3"/><circle cx="455.0" cy="183.1" r="1.3"/><circle cx="454.0" cy="197.2" r="1.3"/><circle cx="454.5" cy="199.0" r="1.3"/><circle cx="503.7" cy="188.8" r="1.3"/><circle cx="488.4" cy="195.9" r="1.3"/><circle cx="501.0" cy="191.3" r="1.3"/><circle cx="571.8" cy="203.4" r="1.3"/><circle cx="582.3" cy="228.6" r="1.3"/><circle cx="621.3" cy="228.6" r="1.3"/><circle cx="563.0" cy="169.0" r="1.3"/><circle cx="407.0" cy="253.0" r="1.3"/><circle cx="417.4" cy="251.0" r="1.3"/><circle cx="433.0" cy="249.6" r="1.3"/><circle cx="438.4" cy="255.0" r="1.3"/><circle cx="445.0" cy="252.0" r="1.3"/><circle cx="442.0" cy="244.0" r="1.3"/><circle cx="446.0" cy="236.0" r="1.3"/><circle cx="440.0" cy="230.0" r="1.3"/><circle cx="500.0" cy="212.0" r="1.3"/><circle cx="512.0" cy="214.0" r="1.3"/><circle cx="525.0" cy="210.0" r="1.3"/><circle cx="490.0" cy="209.0" r="1.3"/><circle cx="478.0" cy="216.0" r="1.3"/><circle cx="530.0" cy="217.0" r="1.3"/><circle cx="545.0" cy="214.0" r="1.3"/><circle cx="552.0" cy="220.0" r="1.3"/><circle cx="470.0" cy="222.0" r="1.3"/><circle cx="466.0" cy="212.0" r="1.3"/><circle cx="621.3" cy="228.6" r="1.3"/></g>
<path d="M526.5,50.5 C527.4,48.3 529.2,46.3 530.5,45.2 C531.8,44.1 534.1,43.1 535.4,43.0 C536.7,42.9 537.9,43.4 539.2,44.3 C540.5,45.2 542.8,47.6 544.3,48.8 C545.8,50.0 547.7,51.2 549.4,52.0 C551.1,52.8 553.7,53.3 555.8,53.9 C557.9,54.5 561.4,55.0 563.5,55.8 C565.6,56.6 568.3,58.1 569.5,59.5 C570.7,60.9 571.2,63.1 571.5,65.0 C571.8,66.9 571.2,69.5 571.2,72.0 C571.2,74.5 571.6,78.5 571.8,82.0 C572.0,85.5 572.5,91.2 572.6,95.0 C572.8,98.8 572.9,104.0 572.8,107.0 C572.7,110.0 572.5,112.9 572.0,115.0 C571.5,117.1 570.5,119.8 569.5,121.0 C568.5,122.2 566.7,122.8 565.0,123.0 C563.3,123.2 560.1,122.3 558.3,122.0 C556.5,121.7 554.5,121.0 553.2,121.1 C551.9,121.2 550.5,122.1 549.4,122.4 C548.3,122.7 546.9,123.2 545.6,122.8 C544.3,122.4 541.8,120.0 540.5,119.8 C539.2,119.6 537.9,120.8 536.7,121.8 C535.5,122.8 534.0,125.3 532.8,126.2 C531.6,127.1 530.2,127.6 529.0,127.5 C527.8,127.4 525.6,127.0 524.6,125.6 C523.6,124.2 522.9,122.5 522.6,118.0 C522.3,113.5 522.4,102.5 522.6,95.6 C522.8,88.7 523.5,77.3 523.8,72.0 C524.1,66.7 524.2,63.2 524.6,60.0 C525.0,56.8 525.6,52.7 526.5,50.5Z" fill="#231f20"/>
<text x="531.4" y="93.2" textLength="28.5" lengthAdjust="spacingAndGlyphs" style="font-family:'Liberation Sans',sans-serif;font-size:11.2px" fill="#fff">MORB</text>
<path d="M446.5,45.3 C448.3,45.4 454.1,45.4 458.2,46.0 C462.2,46.6 469.8,48.1 473.5,49.1 C477.2,50.1 480.0,50.8 482.9,52.9 C485.8,55.0 490.3,60.2 492.9,63.0 C495.5,65.8 498.2,69.0 500.1,71.6 C502.0,74.2 504.1,77.4 505.8,80.2 C507.5,83.0 510.1,87.2 511.6,90.2 C513.1,93.2 514.8,97.5 515.9,100.3 C517.0,103.1 517.9,105.9 518.8,108.9 C519.7,111.9 520.9,117.2 521.6,120.4 C522.3,123.6 522.9,127.1 523.3,130.0 C523.7,132.9 524.2,137.0 524.5,140.0 C524.8,143.0 525.1,147.0 525.5,150.0 C525.9,153.0 526.5,157.2 527.0,160.0 C527.5,162.8 527.7,165.3 528.5,168.8 C529.3,172.3 531.3,179.8 532.3,183.2 C533.3,186.6 535.2,189.4 535.2,191.8 C535.2,194.2 534.0,197.3 532.3,199.0 C530.6,200.7 526.3,202.4 523.7,203.3 C521.1,204.2 518.2,204.9 515.0,205.3 C511.8,205.7 506.1,205.8 502.6,205.7 C499.1,205.6 494.7,205.4 491.8,204.5 C488.9,203.6 485.2,201.4 483.4,199.7 C481.6,198.0 480.4,195.5 480.0,193.0 C479.6,190.5 480.6,186.2 481.0,183.0 C481.4,179.8 483.7,174.1 483.0,172.0 C482.3,169.9 478.4,169.4 476.3,169.1 C474.2,168.8 470.9,170.3 469.1,169.9 C467.3,169.5 464.7,168.5 464.3,166.3 C463.9,164.1 465.5,158.4 466.7,155.5 C467.9,152.6 473.1,150.0 472.5,147.0 C471.9,144.0 465.0,138.8 463.0,135.3 C461.0,131.8 459.8,128.1 459.1,123.8 C458.4,119.5 458.9,111.9 458.2,106.4 C457.5,100.9 456.1,93.0 454.4,87.3 C452.7,81.6 448.4,73.5 446.7,68.2 C445.0,62.9 443.6,54.4 443.0,52.0" fill="none" stroke="#333" stroke-width="0.85" stroke-dasharray="5.5 4"/>
<ellipse cx="480.2" cy="238" rx="4" ry="7.4" transform="rotate(22 480.2 238)" fill="#1a9ad6" stroke="#0d5c86" stroke-width="0.4"/>
<ellipse cx="482" cy="250" rx="13" ry="4.4" transform="rotate(-35.4 482 250)" fill="#e0242a"/>
<circle cx="493.6" cy="241.3" r="4.7" fill="#f2d61c" stroke="#e08a1c" stroke-width="0.8"/>
<circle cx="508.5" cy="230" r="3.2" fill="#000" stroke="#d9a21c" stroke-width="1"/>
<circle cx="514.3" cy="249.5" r="3.2" fill="#000" stroke="#d9a21c" stroke-width="1"/>
<path d="M491.8,50.4 L495.2,53.8 L491.8,57.1 L488.4,53.8Z" fill="#fff" stroke="#000" stroke-width="1.3" stroke-linejoin="miter"/>
<path d="M478.7,90.2 L482.1,93.6 L478.7,96.9 L475.3,93.6Z" fill="#fff" stroke="#000" stroke-width="1.3" stroke-linejoin="miter"/>
<path d="M452.3,122.9 L455.7,126.2 L452.3,129.6 L448.9,126.2Z" fill="#fff" stroke="#000" stroke-width="1.3" stroke-linejoin="miter"/>
<path d="M498.7,131.8 L502.1,135.2 L498.7,138.5 L495.3,135.2Z" fill="#fff" stroke="#000" stroke-width="1.3" stroke-linejoin="miter"/>
<path d="M471.1,158.2 L474.5,161.6 L471.1,164.9 L467.8,161.6Z" fill="#fff" stroke="#000" stroke-width="1.3" stroke-linejoin="miter"/>
<path d="M492.3,161.2 L495.7,164.5 L492.3,167.8 L488.9,164.5Z" fill="#fff" stroke="#000" stroke-width="1.3" stroke-linejoin="miter"/>
<path d="M506.8,161.6 L510.2,164.9 L506.8,168.2 L503.4,164.9Z" fill="#fff" stroke="#000" stroke-width="1.3" stroke-linejoin="miter"/>
<path d="M469.3,181.7 L472.7,185.0 L469.3,188.3 L465.9,185.0Z" fill="#fff" stroke="#000" stroke-width="1.3" stroke-linejoin="miter"/>
<path d="M443.7,190.2 L447.1,193.5 L443.7,196.8 L440.3,193.5Z" fill="#fff" stroke="#000" stroke-width="1.3" stroke-linejoin="miter"/>
<path d="M519.5,207.8 L522.9,211.2 L519.5,214.5 L516.1,211.2Z" fill="#fff" stroke="#000" stroke-width="1.3" stroke-linejoin="miter"/>
<path d="M538.6,200.8 L542.0,204.1 L538.6,207.4 L535.2,204.1Z" fill="#fff" stroke="#000" stroke-width="1.3" stroke-linejoin="miter"/>
<path d="M464.7,223.1 L468.1,226.4 L464.7,229.8 L461.3,226.4Z" fill="#fff" stroke="#000" stroke-width="1.3" stroke-linejoin="miter"/>
<path d="M497.9,227.2 L501.2,230.6 L497.9,233.9 L494.5,230.6Z" fill="#fff" stroke="#000" stroke-width="1.3" stroke-linejoin="miter"/>
<path d="M503.9,229.1 L507.2,232.4 L503.9,235.8 L500.5,232.4Z" fill="#fff" stroke="#000" stroke-width="1.3" stroke-linejoin="miter"/>
<path d="M476.2,239.6 L479.6,242.9 L476.2,246.2 L472.8,242.9Z" fill="#fff" stroke="#000" stroke-width="1.3" stroke-linejoin="miter"/>
<path d="M515.7,238.5 L519.1,241.8 L515.7,245.2 L512.4,241.8Z" fill="#fff" stroke="#000" stroke-width="1.3" stroke-linejoin="miter"/>
<path d="M533.5,242.8 L536.9,246.2 L533.5,249.5 L530.1,246.2Z" fill="#fff" stroke="#000" stroke-width="1.3" stroke-linejoin="miter"/>
<path d="M543.0,239.8 L546.4,243.2 L543.0,246.5 L539.6,243.2Z" fill="#fff" stroke="#000" stroke-width="1.3" stroke-linejoin="miter"/>
<path d="M474.2,251.8 L477.6,255.2 L474.2,258.6 L470.8,255.2Z" fill="#fff" stroke="#000" stroke-width="1.3" stroke-linejoin="miter"/>
<path d="M465.0,254.0 L468.4,257.3 L465.0,260.7 L461.6,257.3Z" fill="#fff" stroke="#000" stroke-width="1.3" stroke-linejoin="miter"/>
<path d="M463.0,260.8 L466.4,264.2 L463.0,267.6 L459.6,264.2Z" fill="#fff" stroke="#000" stroke-width="1.3" stroke-linejoin="miter"/>
<path d="M533.8,261.5 L537.1,264.9 L533.8,268.2 L530.4,264.9Z" fill="#fff" stroke="#000" stroke-width="1.3" stroke-linejoin="miter"/>
<line x1="593" y1="65.1" x2="669" y2="65.1" stroke="#555" stroke-width="0.9"/>
<line x1="630.7" y1="39.3" x2="630.7" y2="90.3" stroke="#555" stroke-width="0.9"/>
<text x="640.3" y="75.3" style="font-family:'Liberation Serif',serif;font-size:11px" fill="#222">WD</text>
<text x="640.3" y="89" style="font-family:'Liberation Serif',serif;font-size:11px" fill="#222">Unc.</text>
<text x="393.9" y="35.4" textLength="55" lengthAdjust="spacingAndGlyphs" style="font-family:'Liberation Sans',sans-serif;font-size:10.8px" fill="#222">Continental</text>
<text x="393.9" y="48.3" textLength="34" lengthAdjust="spacingAndGlyphs" style="font-family:'Liberation Sans',sans-serif;font-size:10.8px" fill="#222">Picrites</text>
<text x="394" y="116.4" textLength="54.4" lengthAdjust="spacingAndGlyphs" style="font-family:'Liberation Sans',sans-serif;font-size:10.8px" fill="#222">Pyroxenites</text>
<text x="395.7" y="217.9" textLength="50.3" lengthAdjust="spacingAndGlyphs" style="font-family:'Liberation Sans',sans-serif;font-size:10.8px" fill="#222">Peridotites</text>
<text x="571.4" y="114" textLength="54.5" lengthAdjust="spacingAndGlyphs" style="font-family:'Liberation Sans',sans-serif;font-size:10.8px" fill="#222">Continental</text>
<text x="588.8" y="125" textLength="19.6" lengthAdjust="spacingAndGlyphs" style="font-family:'Liberation Sans',sans-serif;font-size:10.8px" fill="#222">Arcs</text>
<text x="602.7" y="152" textLength="32.3" lengthAdjust="spacingAndGlyphs" style="font-family:'Liberation Sans',sans-serif;font-size:10.4px" fill="#2a2a2a">Granitic</text>
<text x="603.7" y="162.6" textLength="33.8" lengthAdjust="spacingAndGlyphs" style="font-family:'Liberation Sans',sans-serif;font-size:10.4px" fill="#2a2a2a">Rocks in</text>
<text x="595.1" y="173.5" textLength="49.5" lengthAdjust="spacingAndGlyphs" style="font-family:'Liberation Sans',sans-serif;font-size:10.4px" fill="#2a2a2a">Continental</text>
<text x="612" y="184.5" textLength="17.4" lengthAdjust="spacingAndGlyphs" style="font-family:'Liberation Sans',sans-serif;font-size:10.4px" fill="#2a2a2a">Arcs</text>
<path d="M415.8,53.2 Q424,74 444,80" fill="none" stroke="#222" stroke-width="0.8"/>
<path d="M448.3,81.0 L442.8,80.9 L443.9,77.8 Z" fill="#111"/>
<line x1="448.7" y1="113.7" x2="478" y2="103.4" stroke="#222" stroke-width="0.8"/>
<path d="M482.5,102.2 L478.1,105.4 L477.0,102.3 Z" fill="#111"/>
<line x1="446.8" y1="214.2" x2="459" y2="212" stroke="#222" stroke-width="0.8"/>
<path d="M463.4,211.3 L458.6,213.8 L458.0,210.6 Z" fill="#111"/>
<line x1="388.5" y1="23.7" x2="688.7" y2="23.7" stroke="#333" stroke-width="1.1"/>
<line x1="388.8" y1="23.2" x2="388.8" y2="279.8" stroke="#444" stroke-width="1.1"/>
<line x1="688.6" y1="23.2" x2="688.6" y2="279.8" stroke="#444" stroke-width="1.1"/>
<line x1="388.3" y1="279.3" x2="689" y2="279.3" stroke="#333" stroke-width="1.1"/>
<line x1="388.5" y1="279" x2="388.5" y2="276.5" stroke="#444" stroke-width="0.8"/>
<text x="388.5" y="292" text-anchor="middle" style="font-family:'Liberation Serif',serif;font-size:11.4px" fill="#333">20</text>
<line x1="463.5" y1="279" x2="463.5" y2="276.5" stroke="#444" stroke-width="0.8"/>
<text x="463.5" y="292" text-anchor="middle" style="font-family:'Liberation Serif',serif;font-size:11.4px" fill="#333">40</text>
<line x1="538.5" y1="279" x2="538.5" y2="276.5" stroke="#444" stroke-width="0.8"/>
<text x="538.5" y="292" text-anchor="middle" style="font-family:'Liberation Serif',serif;font-size:11.4px" fill="#333">60</text>
<line x1="613.5" y1="279" x2="613.5" y2="276.5" stroke="#444" stroke-width="0.8"/>
<text x="613.5" y="292" text-anchor="middle" style="font-family:'Liberation Serif',serif;font-size:11.4px" fill="#333">80</text>
<line x1="688.5" y1="279" x2="688.5" y2="276.5" stroke="#444" stroke-width="0.8"/>
<text x="688.5" y="292" text-anchor="middle" style="font-family:'Liberation Serif',serif;font-size:11.4px" fill="#333">100</text>
<line x1="388.5" y1="279.0" x2="391" y2="279.0" stroke="#444" stroke-width="0.8"/>
<text x="381.2" y="281.9" text-anchor="end" style="font-family:'Liberation Serif',serif;font-size:11.4px" fill="#333">0</text>
<line x1="388.5" y1="253.4" x2="391" y2="253.4" stroke="#444" stroke-width="0.8"/>
<text x="381.2" y="256.3" text-anchor="end" style="font-family:'Liberation Serif',serif;font-size:11.4px" fill="#333">2</text>
<line x1="388.5" y1="227.9" x2="391" y2="227.9" stroke="#444" stroke-width="0.8"/>
<text x="381.2" y="230.8" text-anchor="end" style="font-family:'Liberation Serif',serif;font-size:11.4px" fill="#333">4</text>
<line x1="388.5" y1="202.3" x2="391" y2="202.3" stroke="#444" stroke-width="0.8"/>
<text x="381.2" y="205.2" text-anchor="end" style="font-family:'Liberation Serif',serif;font-size:11.4px" fill="#333">6</text>
<line x1="388.5" y1="176.8" x2="391" y2="176.8" stroke="#444" stroke-width="0.8"/>
<text x="381.2" y="179.7" text-anchor="end" style="font-family:'Liberation Serif',serif;font-size:11.4px" fill="#333">8</text>
<line x1="388.5" y1="151.2" x2="391" y2="151.2" stroke="#444" stroke-width="0.8"/>
<text x="381.2" y="154.2" text-anchor="end" style="font-family:'Liberation Serif',serif;font-size:11.4px" fill="#333">10</text>
<line x1="388.5" y1="125.7" x2="391" y2="125.7" stroke="#444" stroke-width="0.8"/>
<text x="381.2" y="128.6" text-anchor="end" style="font-family:'Liberation Serif',serif;font-size:11.4px" fill="#333">12</text>
<line x1="388.5" y1="100.2" x2="391" y2="100.2" stroke="#444" stroke-width="0.8"/>
<text x="381.2" y="103.1" text-anchor="end" style="font-family:'Liberation Serif',serif;font-size:11.4px" fill="#333">14</text>
<line x1="388.5" y1="74.6" x2="391" y2="74.6" stroke="#444" stroke-width="0.8"/>
<text x="381.2" y="77.5" text-anchor="end" style="font-family:'Liberation Serif',serif;font-size:11.4px" fill="#333">16</text>
<line x1="388.5" y1="49.0" x2="391" y2="49.0" stroke="#444" stroke-width="0.8"/>
<text x="381.2" y="51.9" text-anchor="end" style="font-family:'Liberation Serif',serif;font-size:11.4px" fill="#333">18</text>
<line x1="388.5" y1="23.5" x2="391" y2="23.5" stroke="#444" stroke-width="0.8"/>
<text x="381.2" y="26.4" text-anchor="end" style="font-family:'Liberation Serif',serif;font-size:11.4px" fill="#333">20</text>
<text x="488.5" y="307.5" style="font-family:'Liberation Serif',serif;font-size:15px" fill="#1a1a1a">SiO<tspan dx="0.6" dy="3.6" style="font-size:12px">2</tspan><tspan dx="-1.6" dy="-3.6"> BSP (wt. %)</tspan></text>
<text transform="translate(365.3,202.4) rotate(-90)" style="font-family:'Liberation Serif',serif;font-size:14.2px" fill="#1a1a1a">CaO BSP</text>
<text transform="translate(365.3,134.7) rotate(-90)" style="font-family:'Liberation Serif',serif;font-size:14.2px" fill="#1a1a1a">(wt %)</text>
<text x="389.2" y="15.4" textLength="11.6" lengthAdjust="spacingAndGlyphs" style="font-family:'Liberation Sans',sans-serif;font-size:20.5px" fill="#222">b</text>
</svg>
</body></html>
